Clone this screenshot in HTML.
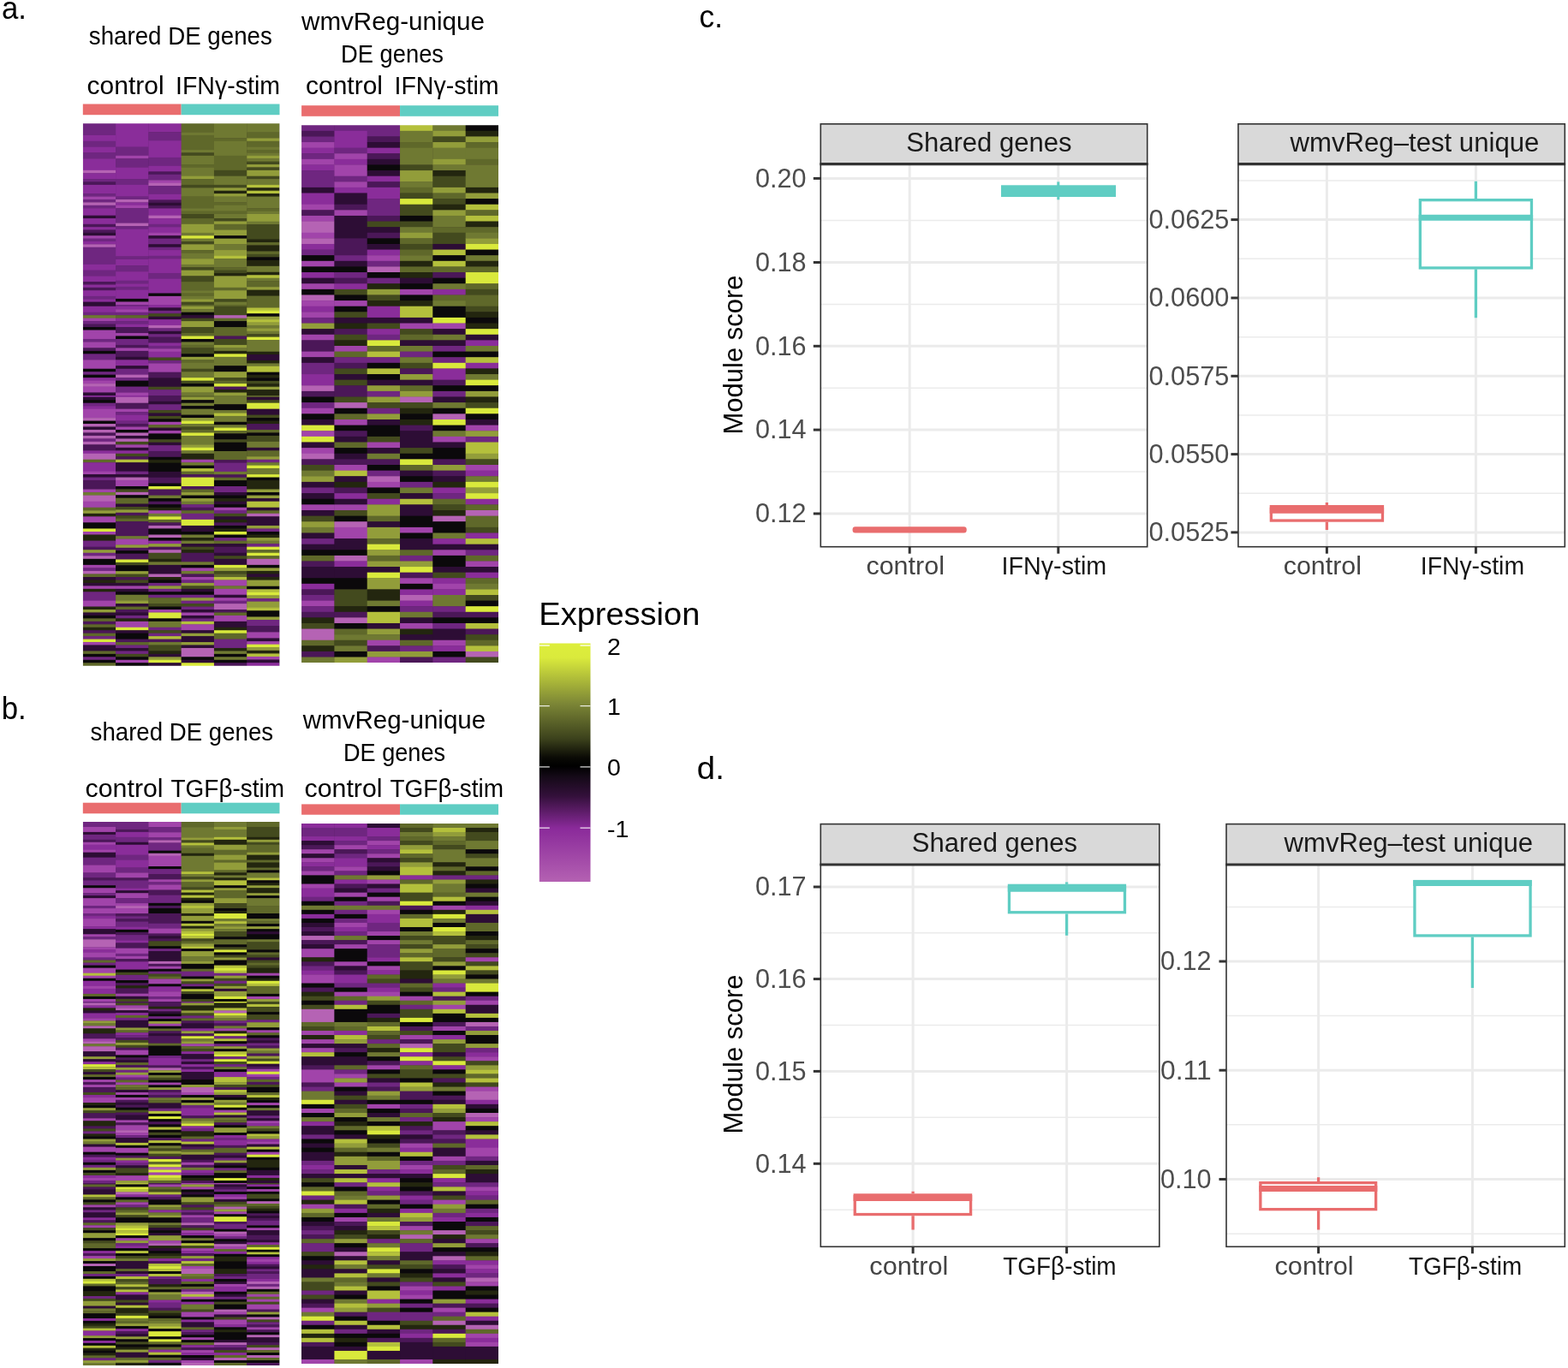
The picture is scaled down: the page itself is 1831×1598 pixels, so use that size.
<!DOCTYPE html>
<html lang="en"><head><meta charset="utf-8"><title>Figure</title>
<style>html,body{margin:0;padding:0;background:#fff}body{width:1831px;height:1598px;overflow:hidden}svg{display:block}text{font-family:"Liberation Sans",sans-serif}</style>
</head><body>
<svg width="1831" height="1598" viewBox="0 0 1831 1598">
<rect width="1831" height="1598" fill="#fff"/>
<g id="labels">
<text x="2" y="21.5" font-size="37" fill="#000" text-anchor="start" textLength="29" lengthAdjust="spacingAndGlyphs">a.</text>
<text x="1.7" y="840" font-size="37" fill="#000" text-anchor="start" textLength="29" lengthAdjust="spacingAndGlyphs">b.</text>
<text x="816.5" y="32" font-size="37" fill="#000" text-anchor="start" textLength="27.5" lengthAdjust="spacingAndGlyphs">c.</text>
<text x="813.8" y="910.3" font-size="37" fill="#000" text-anchor="start" textLength="32" lengthAdjust="spacingAndGlyphs">d.</text>
<text x="103.8" y="52.4" font-size="29" fill="#000" text-anchor="start" textLength="214" lengthAdjust="spacingAndGlyphs">shared DE genes</text>
<text x="352" y="35" font-size="29" fill="#000" text-anchor="start" textLength="214" lengthAdjust="spacingAndGlyphs">wmvReg-unique</text>
<text x="398" y="72.5" font-size="29" fill="#000" text-anchor="start" textLength="120" lengthAdjust="spacingAndGlyphs">DE genes</text>
<text x="101.6" y="110.3" font-size="29" fill="#000" text-anchor="start" textLength="90" lengthAdjust="spacingAndGlyphs">control</text>
<text x="205" y="110.3" font-size="29" fill="#000" text-anchor="start" textLength="122" lengthAdjust="spacingAndGlyphs">IFNγ-stim</text>
<text x="357" y="110.3" font-size="29" fill="#000" text-anchor="start" textLength="90" lengthAdjust="spacingAndGlyphs">control</text>
<text x="460.5" y="110.3" font-size="29" fill="#000" text-anchor="start" textLength="122" lengthAdjust="spacingAndGlyphs">IFNγ-stim</text>
<text x="105.6" y="865" font-size="29" fill="#000" text-anchor="start" textLength="213.5" lengthAdjust="spacingAndGlyphs">shared DE genes</text>
<text x="353.7" y="851" font-size="29" fill="#000" text-anchor="start" textLength="213.5" lengthAdjust="spacingAndGlyphs">wmvReg-unique</text>
<text x="401" y="888.7" font-size="29" fill="#000" text-anchor="start" textLength="119" lengthAdjust="spacingAndGlyphs">DE genes</text>
<text x="99.6" y="930.7" font-size="29" fill="#000" text-anchor="start" textLength="91" lengthAdjust="spacingAndGlyphs">control</text>
<text x="199.5" y="930.7" font-size="29" fill="#000" text-anchor="start" textLength="132.5" lengthAdjust="spacingAndGlyphs">TGFβ-stim</text>
<text x="355.5" y="930.7" font-size="29" fill="#000" text-anchor="start" textLength="91" lengthAdjust="spacingAndGlyphs">control</text>
<text x="455.5" y="930.7" font-size="29" fill="#000" text-anchor="start" textLength="132.5" lengthAdjust="spacingAndGlyphs">TGFβ-stim</text>
</g>
<defs><filter id="soft" x="-2%" y="-2%" width="104%" height="104%" color-interpolation-filters="sRGB"><feGaussianBlur stdDeviation="0 0.75"/></filter><filter id="soft2" x="-2%" y="-2%" width="104%" height="104%" color-interpolation-filters="sRGB"><feGaussianBlur stdDeviation="0 0.65"/></filter></defs>
<g id="heat-a1">
<rect x="96.8" y="121.5" width="114.85" height="12.70" fill="#E96D6E"/>
<rect x="211.65" y="121.5" width="114.85" height="12.70" fill="#5FCDC3"/>
<clipPath id="clip-heat-a1"><rect x="96.8" y="144.3" width="229.70" height="633.40"/></clipPath>
<g clip-path="url(#clip-heat-a1)"><g filter="url(#soft)">
<rect x="96.8" y="140.3" width="229.70" height="641.40" fill="#2a1a2c"/>
<rect x="96.80" y="140.30" width="38.68" height="17.99" fill="#6F2680"/>
<rect x="96.80" y="157.94" width="38.68" height="7.17" fill="#8A2D9A"/>
<rect x="96.80" y="164.76" width="38.68" height="7.17" fill="#6F2680"/>
<rect x="96.80" y="171.58" width="38.68" height="7.17" fill="#8A2D9A"/>
<rect x="96.80" y="178.40" width="38.68" height="7.17" fill="#6F2680"/>
<rect x="96.80" y="185.22" width="38.68" height="13.99" fill="#8A2D9A"/>
<rect x="96.80" y="198.85" width="38.68" height="3.76" fill="#B563B4"/>
<rect x="96.80" y="202.26" width="38.68" height="7.17" fill="#8A2D9A"/>
<rect x="96.80" y="209.08" width="38.68" height="3.76" fill="#6F2680"/>
<rect x="96.80" y="212.49" width="38.68" height="3.76" fill="#4B1758"/>
<rect x="96.80" y="215.90" width="38.68" height="10.58" fill="#8A2D9A"/>
<rect x="96.80" y="226.13" width="38.68" height="3.76" fill="#6F2680"/>
<rect x="96.80" y="229.54" width="38.68" height="3.76" fill="#A144AA"/>
<rect x="96.80" y="232.95" width="38.68" height="3.76" fill="#6F2680"/>
<rect x="96.80" y="236.36" width="38.68" height="3.76" fill="#B563B4"/>
<rect x="96.80" y="239.77" width="38.68" height="3.76" fill="#6F2680"/>
<rect x="96.80" y="243.18" width="38.68" height="8.85" fill="#8A2D9A"/>
<rect x="96.80" y="251.68" width="38.68" height="3.72" fill="#2D0D35"/>
<rect x="96.80" y="255.05" width="38.68" height="7.08" fill="#8A2D9A"/>
<rect x="96.80" y="261.78" width="38.68" height="3.72" fill="#4B1758"/>
<rect x="96.80" y="265.14" width="38.68" height="3.72" fill="#8A2D9A"/>
<rect x="96.80" y="268.51" width="38.68" height="3.72" fill="#4B1758"/>
<rect x="96.80" y="271.87" width="38.68" height="3.72" fill="#2D0D35"/>
<rect x="96.80" y="275.24" width="38.68" height="3.72" fill="#A144AA"/>
<rect x="96.80" y="278.60" width="38.68" height="3.72" fill="#6F2680"/>
<rect x="96.80" y="281.97" width="38.68" height="3.72" fill="#8A2D9A"/>
<rect x="96.80" y="285.33" width="38.68" height="3.72" fill="#B563B4"/>
<rect x="96.80" y="288.70" width="38.68" height="20.54" fill="#6F2680"/>
<rect x="96.80" y="308.89" width="38.68" height="7.08" fill="#8A2D9A"/>
<rect x="96.80" y="315.62" width="38.68" height="7.08" fill="#6F2680"/>
<rect x="96.80" y="322.35" width="38.68" height="7.08" fill="#8A2D9A"/>
<rect x="96.80" y="329.08" width="38.68" height="3.72" fill="#4B1758"/>
<rect x="96.80" y="332.44" width="38.68" height="3.72" fill="#8A2D9A"/>
<rect x="96.80" y="335.81" width="38.68" height="3.72" fill="#4B1758"/>
<rect x="96.80" y="339.17" width="38.68" height="7.08" fill="#8A2D9A"/>
<rect x="96.80" y="345.90" width="38.68" height="3.72" fill="#6F2680"/>
<rect x="96.80" y="349.27" width="38.68" height="3.72" fill="#8A2D9A"/>
<rect x="96.80" y="352.63" width="38.68" height="5.45" fill="#2D0D35"/>
<rect x="96.80" y="357.74" width="38.68" height="7.30" fill="#8A2D9A"/>
<rect x="96.80" y="364.69" width="38.68" height="3.83" fill="#6F2680"/>
<rect x="96.80" y="368.16" width="38.68" height="3.83" fill="#6F7932"/>
<rect x="96.80" y="371.64" width="38.68" height="3.83" fill="#A144AA"/>
<rect x="96.80" y="375.11" width="38.68" height="3.83" fill="#6F2680"/>
<rect x="96.80" y="378.59" width="38.68" height="3.83" fill="#4B1758"/>
<rect x="96.80" y="382.07" width="38.68" height="3.83" fill="#0B090B"/>
<rect x="96.80" y="385.54" width="38.68" height="10.78" fill="#A144AA"/>
<rect x="96.80" y="395.97" width="38.68" height="3.83" fill="#6F2680"/>
<rect x="96.80" y="399.44" width="38.68" height="7.30" fill="#A144AA"/>
<rect x="96.80" y="406.39" width="38.68" height="3.83" fill="#4B1758"/>
<rect x="96.80" y="409.87" width="38.68" height="3.83" fill="#0B090B"/>
<rect x="96.80" y="413.34" width="38.68" height="7.30" fill="#6F2680"/>
<rect x="96.80" y="420.30" width="38.68" height="10.78" fill="#A144AA"/>
<rect x="96.80" y="430.72" width="38.68" height="3.83" fill="#0B090B"/>
<rect x="96.80" y="434.20" width="38.68" height="3.83" fill="#6F2680"/>
<rect x="96.80" y="437.67" width="38.68" height="3.83" fill="#0B090B"/>
<rect x="96.80" y="441.15" width="38.68" height="3.83" fill="#8A2D9A"/>
<rect x="96.80" y="444.62" width="38.68" height="3.83" fill="#A144AA"/>
<rect x="96.80" y="448.10" width="38.68" height="3.83" fill="#B563B4"/>
<rect x="96.80" y="451.57" width="38.68" height="7.30" fill="#A144AA"/>
<rect x="96.80" y="458.52" width="38.68" height="3.83" fill="#2D0D35"/>
<rect x="96.80" y="462.00" width="38.68" height="2.09" fill="#8A2D9A"/>
<rect x="96.80" y="463.74" width="38.68" height="3.83" fill="#2D0D35"/>
<rect x="96.80" y="467.21" width="38.68" height="3.83" fill="#0B090B"/>
<rect x="96.80" y="470.69" width="38.68" height="3.83" fill="#6F2680"/>
<rect x="96.80" y="474.16" width="38.68" height="3.83" fill="#8A2D9A"/>
<rect x="96.80" y="477.64" width="38.68" height="10.78" fill="#A144AA"/>
<rect x="96.80" y="488.07" width="38.68" height="3.83" fill="#B563B4"/>
<rect x="96.80" y="491.54" width="38.68" height="3.83" fill="#0B090B"/>
<rect x="96.80" y="495.02" width="38.68" height="3.83" fill="#B563B4"/>
<rect x="96.80" y="498.49" width="38.68" height="3.83" fill="#2D0D35"/>
<rect x="96.80" y="501.97" width="38.68" height="3.83" fill="#B563B4"/>
<rect x="96.80" y="505.44" width="38.68" height="3.83" fill="#4B1758"/>
<rect x="96.80" y="508.92" width="38.68" height="3.83" fill="#B563B4"/>
<rect x="96.80" y="512.39" width="38.68" height="3.83" fill="#6F2680"/>
<rect x="96.80" y="515.87" width="38.68" height="3.83" fill="#B563B4"/>
<rect x="96.80" y="519.34" width="38.68" height="7.30" fill="#4B1758"/>
<rect x="96.80" y="526.30" width="38.68" height="3.83" fill="#8A2D9A"/>
<rect x="96.80" y="529.77" width="38.68" height="7.30" fill="#B563B4"/>
<rect x="96.80" y="536.72" width="38.68" height="3.83" fill="#5F682A"/>
<rect x="96.80" y="540.20" width="38.68" height="10.78" fill="#8A2D9A"/>
<rect x="96.80" y="550.62" width="38.68" height="3.83" fill="#A144AA"/>
<rect x="96.80" y="554.10" width="38.68" height="3.83" fill="#2D0D35"/>
<rect x="96.80" y="557.57" width="38.68" height="3.83" fill="#6F2680"/>
<rect x="96.80" y="561.05" width="38.68" height="10.83" fill="#4B1758"/>
<rect x="96.80" y="571.53" width="38.68" height="3.88" fill="#A144AA"/>
<rect x="96.80" y="575.07" width="38.68" height="3.88" fill="#6F7932"/>
<rect x="96.80" y="578.60" width="38.68" height="7.42" fill="#B563B4"/>
<rect x="96.80" y="585.67" width="38.68" height="7.42" fill="#A144AA"/>
<rect x="96.80" y="592.73" width="38.68" height="3.88" fill="#5F682A"/>
<rect x="96.80" y="596.27" width="38.68" height="3.88" fill="#929D3A"/>
<rect x="96.80" y="599.80" width="38.68" height="3.88" fill="#23260F"/>
<rect x="96.80" y="603.33" width="38.68" height="7.42" fill="#A144AA"/>
<rect x="96.80" y="610.40" width="38.68" height="7.42" fill="#0B090B"/>
<rect x="96.80" y="617.47" width="38.68" height="3.88" fill="#D9E93C"/>
<rect x="96.80" y="621.00" width="38.68" height="3.88" fill="#A144AA"/>
<rect x="96.80" y="624.53" width="38.68" height="7.42" fill="#23260F"/>
<rect x="96.80" y="631.60" width="38.68" height="7.42" fill="#6F2680"/>
<rect x="96.80" y="638.67" width="38.68" height="3.88" fill="#4B1758"/>
<rect x="96.80" y="642.20" width="38.68" height="3.88" fill="#929D3A"/>
<rect x="96.80" y="645.73" width="38.68" height="3.88" fill="#6F2680"/>
<rect x="96.80" y="649.27" width="38.68" height="3.88" fill="#B563B4"/>
<rect x="96.80" y="652.80" width="38.68" height="7.42" fill="#0B090B"/>
<rect x="96.80" y="659.87" width="38.68" height="3.88" fill="#A144AA"/>
<rect x="96.80" y="663.40" width="38.68" height="3.88" fill="#6F2680"/>
<rect x="96.80" y="666.93" width="38.68" height="3.88" fill="#B563B4"/>
<rect x="96.80" y="670.47" width="38.68" height="3.88" fill="#5F682A"/>
<rect x="96.80" y="674.00" width="38.68" height="3.81" fill="#2D0D35"/>
<rect x="96.80" y="677.46" width="38.68" height="3.81" fill="#23260F"/>
<rect x="96.80" y="680.91" width="38.68" height="3.81" fill="#2D0D35"/>
<rect x="96.80" y="684.37" width="38.68" height="3.81" fill="#A144AA"/>
<rect x="96.80" y="687.83" width="38.68" height="3.81" fill="#23260F"/>
<rect x="96.80" y="691.28" width="38.68" height="10.72" fill="#6F2680"/>
<rect x="96.80" y="701.65" width="38.68" height="7.26" fill="#A144AA"/>
<rect x="96.80" y="708.57" width="38.68" height="3.81" fill="#23260F"/>
<rect x="96.80" y="712.02" width="38.68" height="3.81" fill="#929D3A"/>
<rect x="96.80" y="715.48" width="38.68" height="3.81" fill="#2D0D35"/>
<rect x="96.80" y="718.94" width="38.68" height="3.81" fill="#0B090B"/>
<rect x="96.80" y="722.39" width="38.68" height="3.81" fill="#5F682A"/>
<rect x="96.80" y="725.85" width="38.68" height="3.81" fill="#4B1758"/>
<rect x="96.80" y="729.31" width="38.68" height="3.81" fill="#5F682A"/>
<rect x="96.80" y="732.76" width="38.68" height="3.81" fill="#23260F"/>
<rect x="96.80" y="736.22" width="38.68" height="3.81" fill="#4B1758"/>
<rect x="96.80" y="739.68" width="38.68" height="3.81" fill="#5F682A"/>
<rect x="96.80" y="743.13" width="38.68" height="3.81" fill="#6F2680"/>
<rect x="96.80" y="746.59" width="38.68" height="3.81" fill="#D9E93C"/>
<rect x="96.80" y="750.05" width="38.68" height="3.81" fill="#A144AA"/>
<rect x="96.80" y="753.50" width="38.68" height="7.26" fill="#2D0D35"/>
<rect x="96.80" y="760.42" width="38.68" height="3.81" fill="#5F682A"/>
<rect x="96.80" y="763.87" width="38.68" height="3.81" fill="#0B090B"/>
<rect x="96.80" y="767.33" width="38.68" height="3.81" fill="#6F2680"/>
<rect x="96.80" y="770.79" width="38.68" height="3.81" fill="#0B090B"/>
<rect x="96.80" y="774.24" width="38.68" height="7.81" fill="#5F682A"/>
<rect x="135.08" y="140.30" width="38.68" height="31.63" fill="#8A2D9A"/>
<rect x="135.08" y="171.58" width="38.68" height="10.58" fill="#6F2680"/>
<rect x="135.08" y="181.81" width="38.68" height="3.76" fill="#A144AA"/>
<rect x="135.08" y="185.22" width="38.68" height="10.58" fill="#6F2680"/>
<rect x="135.08" y="195.45" width="38.68" height="13.99" fill="#8A2D9A"/>
<rect x="135.08" y="209.08" width="38.68" height="7.17" fill="#6F2680"/>
<rect x="135.08" y="215.90" width="38.68" height="13.99" fill="#8A2D9A"/>
<rect x="135.08" y="229.54" width="38.68" height="3.76" fill="#6F2680"/>
<rect x="135.08" y="232.95" width="38.68" height="3.76" fill="#B563B4"/>
<rect x="135.08" y="236.36" width="38.68" height="3.76" fill="#8A2D9A"/>
<rect x="135.08" y="239.77" width="38.68" height="3.76" fill="#A144AA"/>
<rect x="135.08" y="243.18" width="38.68" height="17.77" fill="#6F2680"/>
<rect x="135.08" y="260.60" width="38.68" height="3.88" fill="#B563B4"/>
<rect x="135.08" y="264.13" width="38.68" height="3.88" fill="#6F2680"/>
<rect x="135.08" y="267.67" width="38.68" height="32.15" fill="#8A2D9A"/>
<rect x="135.08" y="299.47" width="38.68" height="3.88" fill="#6F2680"/>
<rect x="135.08" y="303.00" width="38.68" height="7.42" fill="#8A2D9A"/>
<rect x="135.08" y="310.07" width="38.68" height="7.42" fill="#6F2680"/>
<rect x="135.08" y="317.13" width="38.68" height="10.95" fill="#8A2D9A"/>
<rect x="135.08" y="327.73" width="38.68" height="3.88" fill="#6F2680"/>
<rect x="135.08" y="331.27" width="38.68" height="3.88" fill="#8A2D9A"/>
<rect x="135.08" y="334.80" width="38.68" height="3.88" fill="#6F2680"/>
<rect x="135.08" y="338.33" width="38.68" height="10.95" fill="#8A2D9A"/>
<rect x="135.08" y="348.93" width="38.68" height="3.88" fill="#0B090B"/>
<rect x="135.08" y="352.47" width="38.68" height="3.88" fill="#A144AA"/>
<rect x="135.08" y="356.00" width="38.68" height="2.09" fill="#6F2680"/>
<rect x="135.08" y="357.74" width="38.68" height="3.83" fill="#8A2D9A"/>
<rect x="135.08" y="361.21" width="38.68" height="3.83" fill="#A144AA"/>
<rect x="135.08" y="364.69" width="38.68" height="3.83" fill="#6F2680"/>
<rect x="135.08" y="368.16" width="38.68" height="3.83" fill="#5F682A"/>
<rect x="135.08" y="371.64" width="38.68" height="3.83" fill="#8A2D9A"/>
<rect x="135.08" y="375.11" width="38.68" height="3.83" fill="#6F2680"/>
<rect x="135.08" y="378.59" width="38.68" height="3.83" fill="#8A2D9A"/>
<rect x="135.08" y="382.07" width="38.68" height="7.30" fill="#4B1758"/>
<rect x="135.08" y="389.02" width="38.68" height="3.83" fill="#A144AA"/>
<rect x="135.08" y="392.49" width="38.68" height="3.83" fill="#0B090B"/>
<rect x="135.08" y="395.97" width="38.68" height="7.30" fill="#6F2680"/>
<rect x="135.08" y="402.92" width="38.68" height="3.83" fill="#4B1758"/>
<rect x="135.08" y="406.39" width="38.68" height="3.83" fill="#A144AA"/>
<rect x="135.08" y="409.87" width="38.68" height="7.30" fill="#4B1758"/>
<rect x="135.08" y="416.82" width="38.68" height="3.83" fill="#2D0D35"/>
<rect x="135.08" y="420.30" width="38.68" height="7.30" fill="#8A2D9A"/>
<rect x="135.08" y="427.25" width="38.68" height="3.83" fill="#2D0D35"/>
<rect x="135.08" y="430.72" width="38.68" height="7.30" fill="#6F2680"/>
<rect x="135.08" y="437.67" width="38.68" height="3.83" fill="#B563B4"/>
<rect x="135.08" y="441.15" width="38.68" height="3.83" fill="#6F2680"/>
<rect x="135.08" y="444.62" width="38.68" height="7.30" fill="#0B090B"/>
<rect x="135.08" y="451.57" width="38.68" height="7.30" fill="#6F2680"/>
<rect x="135.08" y="458.52" width="38.68" height="3.83" fill="#A144AA"/>
<rect x="135.08" y="462.00" width="38.68" height="2.09" fill="#8A2D9A"/>
<rect x="135.08" y="463.74" width="38.68" height="7.30" fill="#B563B4"/>
<rect x="135.08" y="470.69" width="38.68" height="7.30" fill="#4B1758"/>
<rect x="135.08" y="477.64" width="38.68" height="3.83" fill="#A144AA"/>
<rect x="135.08" y="481.11" width="38.68" height="3.83" fill="#6F2680"/>
<rect x="135.08" y="484.59" width="38.68" height="7.30" fill="#8A2D9A"/>
<rect x="135.08" y="491.54" width="38.68" height="3.83" fill="#6F2680"/>
<rect x="135.08" y="495.02" width="38.68" height="3.83" fill="#4B1758"/>
<rect x="135.08" y="498.49" width="38.68" height="3.83" fill="#A144AA"/>
<rect x="135.08" y="501.97" width="38.68" height="3.83" fill="#0B090B"/>
<rect x="135.08" y="505.44" width="38.68" height="3.83" fill="#B563B4"/>
<rect x="135.08" y="508.92" width="38.68" height="3.83" fill="#2D0D35"/>
<rect x="135.08" y="512.39" width="38.68" height="3.83" fill="#B563B4"/>
<rect x="135.08" y="515.87" width="38.68" height="3.83" fill="#434A1E"/>
<rect x="135.08" y="519.34" width="38.68" height="3.83" fill="#A144AA"/>
<rect x="135.08" y="522.82" width="38.68" height="3.83" fill="#2D0D35"/>
<rect x="135.08" y="526.30" width="38.68" height="3.83" fill="#8A2D9A"/>
<rect x="135.08" y="529.77" width="38.68" height="3.83" fill="#434A1E"/>
<rect x="135.08" y="533.25" width="38.68" height="3.83" fill="#4B1758"/>
<rect x="135.08" y="536.72" width="38.68" height="3.83" fill="#B4C03C"/>
<rect x="135.08" y="540.20" width="38.68" height="10.78" fill="#2D0D35"/>
<rect x="135.08" y="550.62" width="38.68" height="3.83" fill="#6F2680"/>
<rect x="135.08" y="554.10" width="38.68" height="3.83" fill="#2D0D35"/>
<rect x="135.08" y="557.57" width="38.68" height="3.83" fill="#B563B4"/>
<rect x="135.08" y="561.05" width="38.68" height="7.30" fill="#A144AA"/>
<rect x="135.08" y="568.00" width="38.68" height="3.77" fill="#0B090B"/>
<rect x="135.08" y="571.42" width="38.68" height="3.77" fill="#434A1E"/>
<rect x="135.08" y="574.84" width="38.68" height="3.77" fill="#B563B4"/>
<rect x="135.08" y="578.26" width="38.68" height="3.77" fill="#0B090B"/>
<rect x="135.08" y="581.68" width="38.68" height="7.19" fill="#5F682A"/>
<rect x="135.08" y="588.52" width="38.68" height="3.77" fill="#2D0D35"/>
<rect x="135.08" y="591.94" width="38.68" height="3.77" fill="#434A1E"/>
<rect x="135.08" y="595.35" width="38.68" height="3.77" fill="#929D3A"/>
<rect x="135.08" y="598.77" width="38.68" height="3.77" fill="#4B1758"/>
<rect x="135.08" y="602.19" width="38.68" height="3.77" fill="#434A1E"/>
<rect x="135.08" y="605.61" width="38.68" height="3.77" fill="#5F682A"/>
<rect x="135.08" y="609.03" width="38.68" height="17.45" fill="#4B1758"/>
<rect x="135.08" y="626.13" width="38.68" height="3.77" fill="#6F7932"/>
<rect x="135.08" y="629.55" width="38.68" height="7.19" fill="#A144AA"/>
<rect x="135.08" y="636.39" width="38.68" height="3.77" fill="#929D3A"/>
<rect x="135.08" y="639.81" width="38.68" height="3.77" fill="#4B1758"/>
<rect x="135.08" y="643.23" width="38.68" height="3.77" fill="#0B090B"/>
<rect x="135.08" y="646.65" width="38.68" height="7.19" fill="#4B1758"/>
<rect x="135.08" y="653.48" width="38.68" height="3.77" fill="#D9E93C"/>
<rect x="135.08" y="656.90" width="38.68" height="3.77" fill="#434A1E"/>
<rect x="135.08" y="660.32" width="38.68" height="7.19" fill="#0B090B"/>
<rect x="135.08" y="667.16" width="38.68" height="3.77" fill="#929D3A"/>
<rect x="135.08" y="670.58" width="38.68" height="3.77" fill="#434A1E"/>
<rect x="135.08" y="674.00" width="38.68" height="3.81" fill="#4B1758"/>
<rect x="135.08" y="677.46" width="38.68" height="3.81" fill="#434A1E"/>
<rect x="135.08" y="680.91" width="38.68" height="3.81" fill="#2D0D35"/>
<rect x="135.08" y="684.37" width="38.68" height="3.81" fill="#A144AA"/>
<rect x="135.08" y="687.83" width="38.68" height="3.81" fill="#2D0D35"/>
<rect x="135.08" y="691.28" width="38.68" height="3.81" fill="#0B090B"/>
<rect x="135.08" y="694.74" width="38.68" height="7.26" fill="#6F7932"/>
<rect x="135.08" y="701.65" width="38.68" height="3.81" fill="#929D3A"/>
<rect x="135.08" y="705.11" width="38.68" height="3.81" fill="#2D0D35"/>
<rect x="135.08" y="708.57" width="38.68" height="3.81" fill="#5F682A"/>
<rect x="135.08" y="712.02" width="38.68" height="3.81" fill="#4B1758"/>
<rect x="135.08" y="715.48" width="38.68" height="3.81" fill="#2D0D35"/>
<rect x="135.08" y="718.94" width="38.68" height="3.81" fill="#6F2680"/>
<rect x="135.08" y="722.39" width="38.68" height="3.81" fill="#23260F"/>
<rect x="135.08" y="725.85" width="38.68" height="7.26" fill="#A144AA"/>
<rect x="135.08" y="732.76" width="38.68" height="3.81" fill="#D9E93C"/>
<rect x="135.08" y="736.22" width="38.68" height="3.81" fill="#2D0D35"/>
<rect x="135.08" y="739.68" width="38.68" height="7.26" fill="#0B090B"/>
<rect x="135.08" y="746.59" width="38.68" height="3.81" fill="#4B1758"/>
<rect x="135.08" y="750.05" width="38.68" height="3.81" fill="#5F682A"/>
<rect x="135.08" y="753.50" width="38.68" height="3.81" fill="#6F2680"/>
<rect x="135.08" y="756.96" width="38.68" height="3.81" fill="#2D0D35"/>
<rect x="135.08" y="760.42" width="38.68" height="3.81" fill="#6F2680"/>
<rect x="135.08" y="763.87" width="38.68" height="3.81" fill="#434A1E"/>
<rect x="135.08" y="767.33" width="38.68" height="3.81" fill="#0B090B"/>
<rect x="135.08" y="770.79" width="38.68" height="3.81" fill="#A144AA"/>
<rect x="135.08" y="774.24" width="38.68" height="7.81" fill="#0B090B"/>
<rect x="173.37" y="140.30" width="38.68" height="14.26" fill="#8A2D9A"/>
<rect x="173.37" y="154.21" width="38.68" height="10.26" fill="#6F2680"/>
<rect x="173.37" y="164.12" width="38.68" height="20.17" fill="#8A2D9A"/>
<rect x="173.37" y="183.94" width="38.68" height="10.26" fill="#6F2680"/>
<rect x="173.37" y="193.85" width="38.68" height="6.96" fill="#8A2D9A"/>
<rect x="173.37" y="200.45" width="38.68" height="3.65" fill="#4B1758"/>
<rect x="173.37" y="203.76" width="38.68" height="6.96" fill="#6F2680"/>
<rect x="173.37" y="210.36" width="38.68" height="3.65" fill="#A144AA"/>
<rect x="173.37" y="213.67" width="38.68" height="3.65" fill="#B563B4"/>
<rect x="173.37" y="216.97" width="38.68" height="10.26" fill="#6F2680"/>
<rect x="173.37" y="226.88" width="38.68" height="6.96" fill="#8A2D9A"/>
<rect x="173.37" y="233.48" width="38.68" height="3.65" fill="#4B1758"/>
<rect x="173.37" y="236.79" width="38.68" height="3.65" fill="#2D0D35"/>
<rect x="173.37" y="240.09" width="38.68" height="3.65" fill="#4B1758"/>
<rect x="173.37" y="243.39" width="38.68" height="8.64" fill="#8A2D9A"/>
<rect x="173.37" y="251.68" width="38.68" height="3.72" fill="#B563B4"/>
<rect x="173.37" y="255.05" width="38.68" height="7.08" fill="#8A2D9A"/>
<rect x="173.37" y="261.78" width="38.68" height="3.72" fill="#6F2680"/>
<rect x="173.37" y="265.14" width="38.68" height="7.08" fill="#8A2D9A"/>
<rect x="173.37" y="271.87" width="38.68" height="3.72" fill="#A144AA"/>
<rect x="173.37" y="275.24" width="38.68" height="3.72" fill="#2D0D35"/>
<rect x="173.37" y="278.60" width="38.68" height="7.08" fill="#6F2680"/>
<rect x="173.37" y="285.33" width="38.68" height="3.72" fill="#2D0D35"/>
<rect x="173.37" y="288.70" width="38.68" height="3.72" fill="#6F2680"/>
<rect x="173.37" y="292.06" width="38.68" height="7.08" fill="#8A2D9A"/>
<rect x="173.37" y="298.79" width="38.68" height="3.72" fill="#6F2680"/>
<rect x="173.37" y="302.16" width="38.68" height="17.18" fill="#8A2D9A"/>
<rect x="173.37" y="318.98" width="38.68" height="7.08" fill="#6F2680"/>
<rect x="173.37" y="325.71" width="38.68" height="17.18" fill="#8A2D9A"/>
<rect x="173.37" y="342.54" width="38.68" height="3.72" fill="#0B090B"/>
<rect x="173.37" y="345.90" width="38.68" height="10.45" fill="#A144AA"/>
<rect x="173.37" y="356.00" width="38.68" height="3.77" fill="#8A2D9A"/>
<rect x="173.37" y="359.42" width="38.68" height="3.77" fill="#2D0D35"/>
<rect x="173.37" y="362.84" width="38.68" height="3.77" fill="#6F2680"/>
<rect x="173.37" y="366.26" width="38.68" height="3.77" fill="#434A1E"/>
<rect x="173.37" y="369.68" width="38.68" height="3.77" fill="#2D0D35"/>
<rect x="173.37" y="373.10" width="38.68" height="7.19" fill="#8A2D9A"/>
<rect x="173.37" y="379.94" width="38.68" height="3.77" fill="#B563B4"/>
<rect x="173.37" y="383.35" width="38.68" height="3.77" fill="#6F2680"/>
<rect x="173.37" y="386.77" width="38.68" height="3.77" fill="#2D0D35"/>
<rect x="173.37" y="390.19" width="38.68" height="3.77" fill="#6F2680"/>
<rect x="173.37" y="393.61" width="38.68" height="7.19" fill="#4B1758"/>
<rect x="173.37" y="400.45" width="38.68" height="3.77" fill="#8A2D9A"/>
<rect x="173.37" y="403.87" width="38.68" height="3.77" fill="#6F2680"/>
<rect x="173.37" y="407.29" width="38.68" height="3.77" fill="#A144AA"/>
<rect x="173.37" y="410.71" width="38.68" height="7.19" fill="#8A2D9A"/>
<rect x="173.37" y="417.55" width="38.68" height="3.77" fill="#434A1E"/>
<rect x="173.37" y="420.97" width="38.68" height="3.77" fill="#6F2680"/>
<rect x="173.37" y="424.39" width="38.68" height="10.61" fill="#A144AA"/>
<rect x="173.37" y="434.65" width="38.68" height="7.19" fill="#4B1758"/>
<rect x="173.37" y="441.48" width="38.68" height="10.61" fill="#2D0D35"/>
<rect x="173.37" y="451.74" width="38.68" height="3.77" fill="#434A1E"/>
<rect x="173.37" y="455.16" width="38.68" height="7.19" fill="#6F2680"/>
<rect x="173.37" y="462.00" width="38.68" height="7.19" fill="#4B1758"/>
<rect x="173.37" y="468.84" width="38.68" height="3.77" fill="#2D0D35"/>
<rect x="173.37" y="472.26" width="38.68" height="7.19" fill="#6F2680"/>
<rect x="173.37" y="479.10" width="38.68" height="3.77" fill="#434A1E"/>
<rect x="173.37" y="482.52" width="38.68" height="3.77" fill="#2D0D35"/>
<rect x="173.37" y="485.94" width="38.68" height="3.77" fill="#434A1E"/>
<rect x="173.37" y="489.35" width="38.68" height="3.77" fill="#0B090B"/>
<rect x="173.37" y="492.77" width="38.68" height="3.77" fill="#A144AA"/>
<rect x="173.37" y="496.19" width="38.68" height="3.77" fill="#5F682A"/>
<rect x="173.37" y="499.61" width="38.68" height="3.77" fill="#2D0D35"/>
<rect x="173.37" y="503.03" width="38.68" height="3.77" fill="#A144AA"/>
<rect x="173.37" y="506.45" width="38.68" height="7.19" fill="#0B090B"/>
<rect x="173.37" y="513.29" width="38.68" height="3.77" fill="#434A1E"/>
<rect x="173.37" y="516.71" width="38.68" height="3.77" fill="#2D0D35"/>
<rect x="173.37" y="520.13" width="38.68" height="7.19" fill="#6F2680"/>
<rect x="173.37" y="526.97" width="38.68" height="7.19" fill="#4B1758"/>
<rect x="173.37" y="533.81" width="38.68" height="3.77" fill="#0B090B"/>
<rect x="173.37" y="537.23" width="38.68" height="3.77" fill="#23260F"/>
<rect x="173.37" y="540.65" width="38.68" height="10.61" fill="#0B090B"/>
<rect x="173.37" y="550.90" width="38.68" height="7.19" fill="#2D0D35"/>
<rect x="173.37" y="557.74" width="38.68" height="7.19" fill="#4B1758"/>
<rect x="173.37" y="564.58" width="38.68" height="3.77" fill="#0B090B"/>
<rect x="173.37" y="568.00" width="38.68" height="3.88" fill="#D9E93C"/>
<rect x="173.37" y="571.53" width="38.68" height="7.42" fill="#4B1758"/>
<rect x="173.37" y="578.60" width="38.68" height="3.88" fill="#6F7932"/>
<rect x="173.37" y="582.13" width="38.68" height="3.88" fill="#0B090B"/>
<rect x="173.37" y="585.67" width="38.68" height="3.88" fill="#4B1758"/>
<rect x="173.37" y="589.20" width="38.68" height="3.88" fill="#0B090B"/>
<rect x="173.37" y="592.73" width="38.68" height="3.88" fill="#23260F"/>
<rect x="173.37" y="596.27" width="38.68" height="3.88" fill="#A144AA"/>
<rect x="173.37" y="599.80" width="38.68" height="3.88" fill="#6F7932"/>
<rect x="173.37" y="603.33" width="38.68" height="3.88" fill="#D9E93C"/>
<rect x="173.37" y="606.87" width="38.68" height="3.88" fill="#5F682A"/>
<rect x="173.37" y="610.40" width="38.68" height="3.88" fill="#4B1758"/>
<rect x="173.37" y="613.93" width="38.68" height="3.88" fill="#B563B4"/>
<rect x="173.37" y="617.47" width="38.68" height="7.42" fill="#0B090B"/>
<rect x="173.37" y="624.53" width="38.68" height="3.88" fill="#B563B4"/>
<rect x="173.37" y="628.07" width="38.68" height="3.88" fill="#0B090B"/>
<rect x="173.37" y="631.60" width="38.68" height="3.88" fill="#8A2D9A"/>
<rect x="173.37" y="635.13" width="38.68" height="3.88" fill="#929D3A"/>
<rect x="173.37" y="638.67" width="38.68" height="3.88" fill="#4B1758"/>
<rect x="173.37" y="642.20" width="38.68" height="3.88" fill="#B563B4"/>
<rect x="173.37" y="645.73" width="38.68" height="7.42" fill="#434A1E"/>
<rect x="173.37" y="652.80" width="38.68" height="3.88" fill="#23260F"/>
<rect x="173.37" y="656.33" width="38.68" height="3.88" fill="#6F7932"/>
<rect x="173.37" y="659.87" width="38.68" height="10.95" fill="#2D0D35"/>
<rect x="173.37" y="670.47" width="38.68" height="3.88" fill="#B563B4"/>
<rect x="173.37" y="674.00" width="38.68" height="3.81" fill="#23260F"/>
<rect x="173.37" y="677.46" width="38.68" height="3.81" fill="#0B090B"/>
<rect x="173.37" y="680.91" width="38.68" height="3.81" fill="#6F2680"/>
<rect x="173.37" y="684.37" width="38.68" height="3.81" fill="#929D3A"/>
<rect x="173.37" y="687.83" width="38.68" height="3.81" fill="#6F2680"/>
<rect x="173.37" y="691.28" width="38.68" height="3.81" fill="#0B090B"/>
<rect x="173.37" y="694.74" width="38.68" height="3.81" fill="#6F2680"/>
<rect x="173.37" y="698.20" width="38.68" height="7.26" fill="#5F682A"/>
<rect x="173.37" y="705.11" width="38.68" height="3.81" fill="#434A1E"/>
<rect x="173.37" y="708.57" width="38.68" height="3.81" fill="#0B090B"/>
<rect x="173.37" y="712.02" width="38.68" height="3.81" fill="#A144AA"/>
<rect x="173.37" y="715.48" width="38.68" height="7.26" fill="#D9E93C"/>
<rect x="173.37" y="722.39" width="38.68" height="3.81" fill="#0B090B"/>
<rect x="173.37" y="725.85" width="38.68" height="7.26" fill="#6F7932"/>
<rect x="173.37" y="732.76" width="38.68" height="3.81" fill="#6F2680"/>
<rect x="173.37" y="736.22" width="38.68" height="3.81" fill="#434A1E"/>
<rect x="173.37" y="739.68" width="38.68" height="3.81" fill="#6F2680"/>
<rect x="173.37" y="743.13" width="38.68" height="3.81" fill="#B4C03C"/>
<rect x="173.37" y="746.59" width="38.68" height="3.81" fill="#4B1758"/>
<rect x="173.37" y="750.05" width="38.68" height="3.81" fill="#6F7932"/>
<rect x="173.37" y="753.50" width="38.68" height="7.26" fill="#434A1E"/>
<rect x="173.37" y="760.42" width="38.68" height="3.81" fill="#23260F"/>
<rect x="173.37" y="763.87" width="38.68" height="3.81" fill="#2D0D35"/>
<rect x="173.37" y="767.33" width="38.68" height="3.81" fill="#929D3A"/>
<rect x="173.37" y="770.79" width="38.68" height="3.81" fill="#D9E93C"/>
<rect x="173.37" y="774.24" width="38.68" height="7.81" fill="#2D0D35"/>
<rect x="211.65" y="140.30" width="38.68" height="14.58" fill="#5F682A"/>
<rect x="211.65" y="154.53" width="38.68" height="3.76" fill="#6F7932"/>
<rect x="211.65" y="157.94" width="38.68" height="17.40" fill="#5F682A"/>
<rect x="211.65" y="174.99" width="38.68" height="3.76" fill="#6F7932"/>
<rect x="211.65" y="178.40" width="38.68" height="3.76" fill="#434A1E"/>
<rect x="211.65" y="181.81" width="38.68" height="10.58" fill="#6F7932"/>
<rect x="211.65" y="192.04" width="38.68" height="3.76" fill="#5F682A"/>
<rect x="211.65" y="195.45" width="38.68" height="10.58" fill="#6F7932"/>
<rect x="211.65" y="205.67" width="38.68" height="3.76" fill="#929D3A"/>
<rect x="211.65" y="209.08" width="38.68" height="7.17" fill="#5F682A"/>
<rect x="211.65" y="215.90" width="38.68" height="3.76" fill="#434A1E"/>
<rect x="211.65" y="219.31" width="38.68" height="10.58" fill="#6F7932"/>
<rect x="211.65" y="229.54" width="38.68" height="13.99" fill="#5F682A"/>
<rect x="211.65" y="243.18" width="38.68" height="3.76" fill="#6F7932"/>
<rect x="211.65" y="246.59" width="38.68" height="3.76" fill="#5F682A"/>
<rect x="211.65" y="250.00" width="38.68" height="5.40" fill="#434A1E"/>
<rect x="211.65" y="255.05" width="38.68" height="7.08" fill="#5F682A"/>
<rect x="211.65" y="261.78" width="38.68" height="10.45" fill="#929D3A"/>
<rect x="211.65" y="271.87" width="38.68" height="3.72" fill="#6F7932"/>
<rect x="211.65" y="275.24" width="38.68" height="3.72" fill="#D9E93C"/>
<rect x="211.65" y="278.60" width="38.68" height="3.72" fill="#6F7932"/>
<rect x="211.65" y="281.97" width="38.68" height="3.72" fill="#434A1E"/>
<rect x="211.65" y="285.33" width="38.68" height="7.08" fill="#929D3A"/>
<rect x="211.65" y="292.06" width="38.68" height="3.72" fill="#5F682A"/>
<rect x="211.65" y="295.43" width="38.68" height="7.08" fill="#6F7932"/>
<rect x="211.65" y="302.16" width="38.68" height="7.08" fill="#929D3A"/>
<rect x="211.65" y="308.89" width="38.68" height="3.72" fill="#6F7932"/>
<rect x="211.65" y="312.25" width="38.68" height="3.72" fill="#434A1E"/>
<rect x="211.65" y="315.62" width="38.68" height="7.08" fill="#929D3A"/>
<rect x="211.65" y="322.35" width="38.68" height="7.08" fill="#434A1E"/>
<rect x="211.65" y="329.08" width="38.68" height="10.45" fill="#5F682A"/>
<rect x="211.65" y="339.17" width="38.68" height="3.72" fill="#6F7932"/>
<rect x="211.65" y="342.54" width="38.68" height="3.72" fill="#5F682A"/>
<rect x="211.65" y="345.90" width="38.68" height="3.72" fill="#6F7932"/>
<rect x="211.65" y="349.27" width="38.68" height="3.72" fill="#929D3A"/>
<rect x="211.65" y="352.63" width="38.68" height="3.72" fill="#434A1E"/>
<rect x="211.65" y="356.00" width="38.68" height="2.09" fill="#5F682A"/>
<rect x="211.65" y="357.74" width="38.68" height="3.83" fill="#929D3A"/>
<rect x="211.65" y="361.21" width="38.68" height="3.83" fill="#6F7932"/>
<rect x="211.65" y="364.69" width="38.68" height="3.83" fill="#0B090B"/>
<rect x="211.65" y="368.16" width="38.68" height="3.83" fill="#2D0D35"/>
<rect x="211.65" y="371.64" width="38.68" height="3.83" fill="#434A1E"/>
<rect x="211.65" y="375.11" width="38.68" height="7.30" fill="#929D3A"/>
<rect x="211.65" y="382.07" width="38.68" height="7.30" fill="#434A1E"/>
<rect x="211.65" y="389.02" width="38.68" height="3.83" fill="#5F682A"/>
<rect x="211.65" y="392.49" width="38.68" height="3.83" fill="#D9E93C"/>
<rect x="211.65" y="395.97" width="38.68" height="3.83" fill="#0B090B"/>
<rect x="211.65" y="399.44" width="38.68" height="3.83" fill="#6F7932"/>
<rect x="211.65" y="402.92" width="38.68" height="3.83" fill="#5F682A"/>
<rect x="211.65" y="406.39" width="38.68" height="7.30" fill="#434A1E"/>
<rect x="211.65" y="413.34" width="38.68" height="3.83" fill="#0B090B"/>
<rect x="211.65" y="416.82" width="38.68" height="3.83" fill="#929D3A"/>
<rect x="211.65" y="420.30" width="38.68" height="3.83" fill="#5F682A"/>
<rect x="211.65" y="423.77" width="38.68" height="7.30" fill="#6F7932"/>
<rect x="211.65" y="430.72" width="38.68" height="3.83" fill="#434A1E"/>
<rect x="211.65" y="434.20" width="38.68" height="7.30" fill="#6F7932"/>
<rect x="211.65" y="441.15" width="38.68" height="3.83" fill="#D9E93C"/>
<rect x="211.65" y="444.62" width="38.68" height="3.83" fill="#434A1E"/>
<rect x="211.65" y="448.10" width="38.68" height="3.83" fill="#0B090B"/>
<rect x="211.65" y="451.57" width="38.68" height="7.30" fill="#929D3A"/>
<rect x="211.65" y="458.52" width="38.68" height="3.83" fill="#6F7932"/>
<rect x="211.65" y="462.00" width="38.68" height="2.09" fill="#5F682A"/>
<rect x="211.65" y="463.74" width="38.68" height="3.83" fill="#929D3A"/>
<rect x="211.65" y="467.21" width="38.68" height="3.83" fill="#0B090B"/>
<rect x="211.65" y="470.69" width="38.68" height="3.83" fill="#6F7932"/>
<rect x="211.65" y="474.16" width="38.68" height="3.83" fill="#0B090B"/>
<rect x="211.65" y="477.64" width="38.68" height="7.30" fill="#6F7932"/>
<rect x="211.65" y="484.59" width="38.68" height="3.83" fill="#0B090B"/>
<rect x="211.65" y="488.07" width="38.68" height="3.83" fill="#929D3A"/>
<rect x="211.65" y="491.54" width="38.68" height="3.83" fill="#D9E93C"/>
<rect x="211.65" y="495.02" width="38.68" height="3.83" fill="#6F7932"/>
<rect x="211.65" y="498.49" width="38.68" height="3.83" fill="#434A1E"/>
<rect x="211.65" y="501.97" width="38.68" height="3.83" fill="#5F682A"/>
<rect x="211.65" y="505.44" width="38.68" height="3.83" fill="#D9E93C"/>
<rect x="211.65" y="508.92" width="38.68" height="10.78" fill="#6F7932"/>
<rect x="211.65" y="519.34" width="38.68" height="3.83" fill="#929D3A"/>
<rect x="211.65" y="522.82" width="38.68" height="3.83" fill="#D9E93C"/>
<rect x="211.65" y="526.30" width="38.68" height="3.83" fill="#6F7932"/>
<rect x="211.65" y="529.77" width="38.68" height="7.30" fill="#23260F"/>
<rect x="211.65" y="536.72" width="38.68" height="3.83" fill="#A144AA"/>
<rect x="211.65" y="540.20" width="38.68" height="3.83" fill="#6F7932"/>
<rect x="211.65" y="543.67" width="38.68" height="3.83" fill="#0B090B"/>
<rect x="211.65" y="547.15" width="38.68" height="3.83" fill="#B4C03C"/>
<rect x="211.65" y="550.62" width="38.68" height="3.83" fill="#5F682A"/>
<rect x="211.65" y="554.10" width="38.68" height="3.83" fill="#4B1758"/>
<rect x="211.65" y="557.57" width="38.68" height="10.78" fill="#D9E93C"/>
<rect x="211.65" y="568.00" width="38.68" height="3.88" fill="#4B1758"/>
<rect x="211.65" y="571.53" width="38.68" height="3.88" fill="#5F682A"/>
<rect x="211.65" y="575.07" width="38.68" height="3.88" fill="#929D3A"/>
<rect x="211.65" y="578.60" width="38.68" height="3.88" fill="#0B090B"/>
<rect x="211.65" y="582.13" width="38.68" height="3.88" fill="#929D3A"/>
<rect x="211.65" y="585.67" width="38.68" height="3.88" fill="#6F7932"/>
<rect x="211.65" y="589.20" width="38.68" height="3.88" fill="#6F2680"/>
<rect x="211.65" y="592.73" width="38.68" height="3.88" fill="#4B1758"/>
<rect x="211.65" y="596.27" width="38.68" height="3.88" fill="#5F682A"/>
<rect x="211.65" y="599.80" width="38.68" height="7.42" fill="#6F2680"/>
<rect x="211.65" y="606.87" width="38.68" height="7.42" fill="#D9E93C"/>
<rect x="211.65" y="613.93" width="38.68" height="7.42" fill="#2D0D35"/>
<rect x="211.65" y="621.00" width="38.68" height="3.88" fill="#0B090B"/>
<rect x="211.65" y="624.53" width="38.68" height="3.88" fill="#6F7932"/>
<rect x="211.65" y="628.07" width="38.68" height="3.88" fill="#23260F"/>
<rect x="211.65" y="631.60" width="38.68" height="3.88" fill="#6F7932"/>
<rect x="211.65" y="635.13" width="38.68" height="3.88" fill="#2D0D35"/>
<rect x="211.65" y="638.67" width="38.68" height="3.88" fill="#434A1E"/>
<rect x="211.65" y="642.20" width="38.68" height="3.88" fill="#23260F"/>
<rect x="211.65" y="645.73" width="38.68" height="10.95" fill="#4B1758"/>
<rect x="211.65" y="656.33" width="38.68" height="3.88" fill="#6F7932"/>
<rect x="211.65" y="659.87" width="38.68" height="3.88" fill="#0B090B"/>
<rect x="211.65" y="663.40" width="38.68" height="3.88" fill="#A144AA"/>
<rect x="211.65" y="666.93" width="38.68" height="3.88" fill="#6F7932"/>
<rect x="211.65" y="670.47" width="38.68" height="3.88" fill="#4B1758"/>
<rect x="211.65" y="674.00" width="38.68" height="3.81" fill="#A144AA"/>
<rect x="211.65" y="677.46" width="38.68" height="3.81" fill="#6F2680"/>
<rect x="211.65" y="680.91" width="38.68" height="3.81" fill="#929D3A"/>
<rect x="211.65" y="684.37" width="38.68" height="3.81" fill="#434A1E"/>
<rect x="211.65" y="687.83" width="38.68" height="3.81" fill="#2D0D35"/>
<rect x="211.65" y="691.28" width="38.68" height="3.81" fill="#0B090B"/>
<rect x="211.65" y="694.74" width="38.68" height="3.81" fill="#6F2680"/>
<rect x="211.65" y="698.20" width="38.68" height="3.81" fill="#929D3A"/>
<rect x="211.65" y="701.65" width="38.68" height="3.81" fill="#6F2680"/>
<rect x="211.65" y="705.11" width="38.68" height="3.81" fill="#434A1E"/>
<rect x="211.65" y="708.57" width="38.68" height="3.81" fill="#6F2680"/>
<rect x="211.65" y="712.02" width="38.68" height="3.81" fill="#2D0D35"/>
<rect x="211.65" y="715.48" width="38.68" height="3.81" fill="#A144AA"/>
<rect x="211.65" y="718.94" width="38.68" height="3.81" fill="#2D0D35"/>
<rect x="211.65" y="722.39" width="38.68" height="3.81" fill="#6F2680"/>
<rect x="211.65" y="725.85" width="38.68" height="3.81" fill="#B4C03C"/>
<rect x="211.65" y="729.31" width="38.68" height="7.26" fill="#A144AA"/>
<rect x="211.65" y="736.22" width="38.68" height="3.81" fill="#2D0D35"/>
<rect x="211.65" y="739.68" width="38.68" height="3.81" fill="#929D3A"/>
<rect x="211.65" y="743.13" width="38.68" height="7.26" fill="#2D0D35"/>
<rect x="211.65" y="750.05" width="38.68" height="3.81" fill="#929D3A"/>
<rect x="211.65" y="753.50" width="38.68" height="3.81" fill="#2D0D35"/>
<rect x="211.65" y="756.96" width="38.68" height="10.72" fill="#B563B4"/>
<rect x="211.65" y="767.33" width="38.68" height="3.81" fill="#0B090B"/>
<rect x="211.65" y="770.79" width="38.68" height="3.81" fill="#2D0D35"/>
<rect x="211.65" y="774.24" width="38.68" height="7.81" fill="#D9E93C"/>
<rect x="249.93" y="140.30" width="38.68" height="21.40" fill="#6F7932"/>
<rect x="249.93" y="161.35" width="38.68" height="3.76" fill="#5F682A"/>
<rect x="249.93" y="164.76" width="38.68" height="17.40" fill="#6F7932"/>
<rect x="249.93" y="181.81" width="38.68" height="17.40" fill="#5F682A"/>
<rect x="249.93" y="198.85" width="38.68" height="7.17" fill="#434A1E"/>
<rect x="249.93" y="205.67" width="38.68" height="10.58" fill="#6F7932"/>
<rect x="249.93" y="215.90" width="38.68" height="3.76" fill="#434A1E"/>
<rect x="249.93" y="219.31" width="38.68" height="3.76" fill="#929D3A"/>
<rect x="249.93" y="222.72" width="38.68" height="3.76" fill="#23260F"/>
<rect x="249.93" y="226.13" width="38.68" height="3.76" fill="#929D3A"/>
<rect x="249.93" y="229.54" width="38.68" height="7.17" fill="#6F7932"/>
<rect x="249.93" y="236.36" width="38.68" height="3.76" fill="#5F682A"/>
<rect x="249.93" y="239.77" width="38.68" height="7.17" fill="#6F7932"/>
<rect x="249.93" y="246.59" width="38.68" height="3.76" fill="#5F682A"/>
<rect x="249.93" y="250.00" width="38.68" height="5.40" fill="#6F7932"/>
<rect x="249.93" y="255.05" width="38.68" height="3.72" fill="#434A1E"/>
<rect x="249.93" y="258.41" width="38.68" height="3.72" fill="#929D3A"/>
<rect x="249.93" y="261.78" width="38.68" height="7.08" fill="#5F682A"/>
<rect x="249.93" y="268.51" width="38.68" height="7.08" fill="#929D3A"/>
<rect x="249.93" y="275.24" width="38.68" height="3.72" fill="#0B090B"/>
<rect x="249.93" y="278.60" width="38.68" height="7.08" fill="#929D3A"/>
<rect x="249.93" y="285.33" width="38.68" height="7.08" fill="#6F7932"/>
<rect x="249.93" y="292.06" width="38.68" height="7.08" fill="#929D3A"/>
<rect x="249.93" y="298.79" width="38.68" height="3.72" fill="#B4C03C"/>
<rect x="249.93" y="302.16" width="38.68" height="10.45" fill="#6F7932"/>
<rect x="249.93" y="312.25" width="38.68" height="3.72" fill="#5F682A"/>
<rect x="249.93" y="315.62" width="38.68" height="3.72" fill="#434A1E"/>
<rect x="249.93" y="318.98" width="38.68" height="3.72" fill="#23260F"/>
<rect x="249.93" y="322.35" width="38.68" height="13.81" fill="#929D3A"/>
<rect x="249.93" y="335.81" width="38.68" height="3.72" fill="#5F682A"/>
<rect x="249.93" y="339.17" width="38.68" height="10.45" fill="#929D3A"/>
<rect x="249.93" y="349.27" width="38.68" height="3.72" fill="#434A1E"/>
<rect x="249.93" y="352.63" width="38.68" height="3.72" fill="#6F7932"/>
<rect x="249.93" y="356.00" width="38.68" height="2.09" fill="#5F682A"/>
<rect x="249.93" y="357.74" width="38.68" height="10.78" fill="#434A1E"/>
<rect x="249.93" y="368.16" width="38.68" height="3.83" fill="#B563B4"/>
<rect x="249.93" y="371.64" width="38.68" height="3.83" fill="#5F682A"/>
<rect x="249.93" y="375.11" width="38.68" height="7.30" fill="#0B090B"/>
<rect x="249.93" y="382.07" width="38.68" height="10.78" fill="#5F682A"/>
<rect x="249.93" y="392.49" width="38.68" height="3.83" fill="#4B1758"/>
<rect x="249.93" y="395.97" width="38.68" height="7.30" fill="#434A1E"/>
<rect x="249.93" y="402.92" width="38.68" height="3.83" fill="#929D3A"/>
<rect x="249.93" y="406.39" width="38.68" height="3.83" fill="#6F7932"/>
<rect x="249.93" y="409.87" width="38.68" height="3.83" fill="#23260F"/>
<rect x="249.93" y="413.34" width="38.68" height="3.83" fill="#D9E93C"/>
<rect x="249.93" y="416.82" width="38.68" height="10.78" fill="#6F7932"/>
<rect x="249.93" y="427.25" width="38.68" height="7.30" fill="#0B090B"/>
<rect x="249.93" y="434.20" width="38.68" height="7.30" fill="#929D3A"/>
<rect x="249.93" y="441.15" width="38.68" height="3.83" fill="#434A1E"/>
<rect x="249.93" y="444.62" width="38.68" height="3.83" fill="#5F682A"/>
<rect x="249.93" y="448.10" width="38.68" height="3.83" fill="#D9E93C"/>
<rect x="249.93" y="451.57" width="38.68" height="3.83" fill="#4B1758"/>
<rect x="249.93" y="455.05" width="38.68" height="3.83" fill="#23260F"/>
<rect x="249.93" y="458.52" width="38.68" height="3.83" fill="#929D3A"/>
<rect x="249.93" y="462.00" width="38.68" height="10.61" fill="#6F7932"/>
<rect x="249.93" y="472.26" width="38.68" height="7.19" fill="#0B090B"/>
<rect x="249.93" y="479.10" width="38.68" height="3.77" fill="#6F7932"/>
<rect x="249.93" y="482.52" width="38.68" height="3.77" fill="#B4C03C"/>
<rect x="249.93" y="485.94" width="38.68" height="7.19" fill="#6F7932"/>
<rect x="249.93" y="492.77" width="38.68" height="3.77" fill="#0B090B"/>
<rect x="249.93" y="496.19" width="38.68" height="3.77" fill="#6F7932"/>
<rect x="249.93" y="499.61" width="38.68" height="3.77" fill="#D9E93C"/>
<rect x="249.93" y="503.03" width="38.68" height="3.77" fill="#5F682A"/>
<rect x="249.93" y="506.45" width="38.68" height="7.19" fill="#0B090B"/>
<rect x="249.93" y="513.29" width="38.68" height="3.77" fill="#434A1E"/>
<rect x="249.93" y="516.71" width="38.68" height="10.61" fill="#0B090B"/>
<rect x="249.93" y="526.97" width="38.68" height="10.61" fill="#5F682A"/>
<rect x="249.93" y="537.23" width="38.68" height="3.77" fill="#4B1758"/>
<rect x="249.93" y="540.65" width="38.68" height="10.61" fill="#6F2680"/>
<rect x="249.93" y="550.90" width="38.68" height="3.77" fill="#6F7932"/>
<rect x="249.93" y="554.32" width="38.68" height="3.77" fill="#4B1758"/>
<rect x="249.93" y="557.74" width="38.68" height="3.77" fill="#5F682A"/>
<rect x="249.93" y="561.16" width="38.68" height="7.19" fill="#0B090B"/>
<rect x="249.93" y="568.00" width="38.68" height="7.42" fill="#6F2680"/>
<rect x="249.93" y="575.07" width="38.68" height="3.88" fill="#2D0D35"/>
<rect x="249.93" y="578.60" width="38.68" height="3.88" fill="#0B090B"/>
<rect x="249.93" y="582.13" width="38.68" height="3.88" fill="#23260F"/>
<rect x="249.93" y="585.67" width="38.68" height="3.88" fill="#2D0D35"/>
<rect x="249.93" y="589.20" width="38.68" height="3.88" fill="#0B090B"/>
<rect x="249.93" y="592.73" width="38.68" height="3.88" fill="#A144AA"/>
<rect x="249.93" y="596.27" width="38.68" height="3.88" fill="#6F2680"/>
<rect x="249.93" y="599.80" width="38.68" height="3.88" fill="#434A1E"/>
<rect x="249.93" y="603.33" width="38.68" height="3.88" fill="#2D0D35"/>
<rect x="249.93" y="606.87" width="38.68" height="3.88" fill="#23260F"/>
<rect x="249.93" y="610.40" width="38.68" height="3.88" fill="#4B1758"/>
<rect x="249.93" y="613.93" width="38.68" height="3.88" fill="#0B090B"/>
<rect x="249.93" y="617.47" width="38.68" height="3.88" fill="#23260F"/>
<rect x="249.93" y="621.00" width="38.68" height="3.88" fill="#D9E93C"/>
<rect x="249.93" y="624.53" width="38.68" height="3.88" fill="#0B090B"/>
<rect x="249.93" y="628.07" width="38.68" height="3.88" fill="#6F2680"/>
<rect x="249.93" y="631.60" width="38.68" height="3.88" fill="#5F682A"/>
<rect x="249.93" y="635.13" width="38.68" height="3.88" fill="#2D0D35"/>
<rect x="249.93" y="638.67" width="38.68" height="7.42" fill="#4B1758"/>
<rect x="249.93" y="645.73" width="38.68" height="3.88" fill="#2D0D35"/>
<rect x="249.93" y="649.27" width="38.68" height="3.88" fill="#434A1E"/>
<rect x="249.93" y="652.80" width="38.68" height="7.42" fill="#2D0D35"/>
<rect x="249.93" y="659.87" width="38.68" height="3.88" fill="#D9E93C"/>
<rect x="249.93" y="663.40" width="38.68" height="3.88" fill="#929D3A"/>
<rect x="249.93" y="666.93" width="38.68" height="3.88" fill="#434A1E"/>
<rect x="249.93" y="670.47" width="38.68" height="3.88" fill="#5F682A"/>
<rect x="249.93" y="674.00" width="38.68" height="3.81" fill="#B4C03C"/>
<rect x="249.93" y="677.46" width="38.68" height="7.26" fill="#A144AA"/>
<rect x="249.93" y="684.37" width="38.68" height="3.81" fill="#6F7932"/>
<rect x="249.93" y="687.83" width="38.68" height="7.26" fill="#A144AA"/>
<rect x="249.93" y="694.74" width="38.68" height="3.81" fill="#2D0D35"/>
<rect x="249.93" y="698.20" width="38.68" height="3.81" fill="#A144AA"/>
<rect x="249.93" y="701.65" width="38.68" height="3.81" fill="#6F2680"/>
<rect x="249.93" y="705.11" width="38.68" height="7.26" fill="#B563B4"/>
<rect x="249.93" y="712.02" width="38.68" height="3.81" fill="#4B1758"/>
<rect x="249.93" y="715.48" width="38.68" height="3.81" fill="#5F682A"/>
<rect x="249.93" y="718.94" width="38.68" height="7.26" fill="#A144AA"/>
<rect x="249.93" y="725.85" width="38.68" height="7.26" fill="#2D0D35"/>
<rect x="249.93" y="732.76" width="38.68" height="3.81" fill="#23260F"/>
<rect x="249.93" y="736.22" width="38.68" height="3.81" fill="#D9E93C"/>
<rect x="249.93" y="739.68" width="38.68" height="7.26" fill="#5F682A"/>
<rect x="249.93" y="746.59" width="38.68" height="10.72" fill="#6F2680"/>
<rect x="249.93" y="756.96" width="38.68" height="3.81" fill="#23260F"/>
<rect x="249.93" y="760.42" width="38.68" height="3.81" fill="#6F7932"/>
<rect x="249.93" y="763.87" width="38.68" height="3.81" fill="#0B090B"/>
<rect x="249.93" y="767.33" width="38.68" height="3.81" fill="#6F7932"/>
<rect x="249.93" y="770.79" width="38.68" height="3.81" fill="#0B090B"/>
<rect x="249.93" y="774.24" width="38.68" height="7.81" fill="#4B1758"/>
<rect x="288.22" y="140.30" width="38.28" height="14.58" fill="#6F7932"/>
<rect x="288.22" y="154.53" width="38.28" height="7.17" fill="#5F682A"/>
<rect x="288.22" y="161.35" width="38.28" height="3.76" fill="#929D3A"/>
<rect x="288.22" y="164.76" width="38.28" height="7.17" fill="#5F682A"/>
<rect x="288.22" y="171.58" width="38.28" height="3.76" fill="#6F7932"/>
<rect x="288.22" y="174.99" width="38.28" height="3.76" fill="#5F682A"/>
<rect x="288.22" y="178.40" width="38.28" height="3.76" fill="#6F7932"/>
<rect x="288.22" y="181.81" width="38.28" height="3.76" fill="#929D3A"/>
<rect x="288.22" y="185.22" width="38.28" height="3.76" fill="#6F7932"/>
<rect x="288.22" y="188.63" width="38.28" height="3.76" fill="#434A1E"/>
<rect x="288.22" y="192.04" width="38.28" height="3.76" fill="#929D3A"/>
<rect x="288.22" y="195.45" width="38.28" height="3.76" fill="#434A1E"/>
<rect x="288.22" y="198.85" width="38.28" height="7.17" fill="#929D3A"/>
<rect x="288.22" y="205.67" width="38.28" height="3.76" fill="#434A1E"/>
<rect x="288.22" y="209.08" width="38.28" height="7.17" fill="#6F7932"/>
<rect x="288.22" y="215.90" width="38.28" height="3.76" fill="#B4C03C"/>
<rect x="288.22" y="219.31" width="38.28" height="3.76" fill="#23260F"/>
<rect x="288.22" y="222.72" width="38.28" height="3.76" fill="#B4C03C"/>
<rect x="288.22" y="226.13" width="38.28" height="3.76" fill="#23260F"/>
<rect x="288.22" y="229.54" width="38.28" height="13.99" fill="#6F7932"/>
<rect x="288.22" y="243.18" width="38.28" height="3.76" fill="#5F682A"/>
<rect x="288.22" y="246.59" width="38.28" height="3.76" fill="#6F7932"/>
<rect x="288.22" y="250.00" width="38.28" height="9.04" fill="#929D3A"/>
<rect x="288.22" y="258.69" width="38.28" height="3.83" fill="#6F7932"/>
<rect x="288.22" y="262.16" width="38.28" height="17.73" fill="#434A1E"/>
<rect x="288.22" y="279.54" width="38.28" height="3.83" fill="#23260F"/>
<rect x="288.22" y="283.02" width="38.28" height="3.83" fill="#5F682A"/>
<rect x="288.22" y="286.49" width="38.28" height="7.30" fill="#23260F"/>
<rect x="288.22" y="293.44" width="38.28" height="3.83" fill="#5F682A"/>
<rect x="288.22" y="296.92" width="38.28" height="3.83" fill="#434A1E"/>
<rect x="288.22" y="300.39" width="38.28" height="3.83" fill="#0B090B"/>
<rect x="288.22" y="303.87" width="38.28" height="7.30" fill="#23260F"/>
<rect x="288.22" y="310.82" width="38.28" height="7.30" fill="#6F7932"/>
<rect x="288.22" y="317.77" width="38.28" height="3.83" fill="#23260F"/>
<rect x="288.22" y="321.25" width="38.28" height="3.83" fill="#B4C03C"/>
<rect x="288.22" y="324.72" width="38.28" height="3.83" fill="#6F7932"/>
<rect x="288.22" y="328.20" width="38.28" height="7.30" fill="#5F682A"/>
<rect x="288.22" y="335.15" width="38.28" height="3.83" fill="#929D3A"/>
<rect x="288.22" y="338.62" width="38.28" height="7.30" fill="#23260F"/>
<rect x="288.22" y="345.57" width="38.28" height="14.20" fill="#5F682A"/>
<rect x="288.22" y="359.42" width="38.28" height="3.77" fill="#B4C03C"/>
<rect x="288.22" y="362.84" width="38.28" height="3.77" fill="#D9E93C"/>
<rect x="288.22" y="366.26" width="38.28" height="3.77" fill="#0B090B"/>
<rect x="288.22" y="369.68" width="38.28" height="3.77" fill="#929D3A"/>
<rect x="288.22" y="373.10" width="38.28" height="3.77" fill="#B4C03C"/>
<rect x="288.22" y="376.52" width="38.28" height="3.77" fill="#929D3A"/>
<rect x="288.22" y="379.94" width="38.28" height="3.77" fill="#6F7932"/>
<rect x="288.22" y="383.35" width="38.28" height="3.77" fill="#929D3A"/>
<rect x="288.22" y="386.77" width="38.28" height="3.77" fill="#6F7932"/>
<rect x="288.22" y="390.19" width="38.28" height="3.77" fill="#434A1E"/>
<rect x="288.22" y="393.61" width="38.28" height="3.77" fill="#D9E93C"/>
<rect x="288.22" y="397.03" width="38.28" height="14.03" fill="#6F7932"/>
<rect x="288.22" y="410.71" width="38.28" height="3.77" fill="#23260F"/>
<rect x="288.22" y="414.13" width="38.28" height="7.19" fill="#2D0D35"/>
<rect x="288.22" y="420.97" width="38.28" height="3.77" fill="#23260F"/>
<rect x="288.22" y="424.39" width="38.28" height="3.77" fill="#6F7932"/>
<rect x="288.22" y="427.81" width="38.28" height="7.19" fill="#B4C03C"/>
<rect x="288.22" y="434.65" width="38.28" height="3.77" fill="#0B090B"/>
<rect x="288.22" y="438.06" width="38.28" height="3.77" fill="#23260F"/>
<rect x="288.22" y="441.48" width="38.28" height="3.77" fill="#0B090B"/>
<rect x="288.22" y="444.90" width="38.28" height="3.77" fill="#434A1E"/>
<rect x="288.22" y="448.32" width="38.28" height="3.77" fill="#23260F"/>
<rect x="288.22" y="451.74" width="38.28" height="3.77" fill="#929D3A"/>
<rect x="288.22" y="455.16" width="38.28" height="7.19" fill="#23260F"/>
<rect x="288.22" y="462.00" width="38.28" height="2.09" fill="#5F682A"/>
<rect x="288.22" y="463.74" width="38.28" height="3.83" fill="#2D0D35"/>
<rect x="288.22" y="467.21" width="38.28" height="3.83" fill="#434A1E"/>
<rect x="288.22" y="470.69" width="38.28" height="7.30" fill="#D9E93C"/>
<rect x="288.22" y="477.64" width="38.28" height="7.30" fill="#2D0D35"/>
<rect x="288.22" y="484.59" width="38.28" height="3.83" fill="#434A1E"/>
<rect x="288.22" y="488.07" width="38.28" height="3.83" fill="#0B090B"/>
<rect x="288.22" y="491.54" width="38.28" height="3.83" fill="#23260F"/>
<rect x="288.22" y="495.02" width="38.28" height="7.30" fill="#4B1758"/>
<rect x="288.22" y="501.97" width="38.28" height="3.83" fill="#5F682A"/>
<rect x="288.22" y="505.44" width="38.28" height="3.83" fill="#0B090B"/>
<rect x="288.22" y="508.92" width="38.28" height="7.30" fill="#434A1E"/>
<rect x="288.22" y="515.87" width="38.28" height="7.30" fill="#6F7932"/>
<rect x="288.22" y="522.82" width="38.28" height="3.83" fill="#2D0D35"/>
<rect x="288.22" y="526.30" width="38.28" height="7.30" fill="#5F682A"/>
<rect x="288.22" y="533.25" width="38.28" height="3.83" fill="#929D3A"/>
<rect x="288.22" y="536.72" width="38.28" height="3.83" fill="#6F2680"/>
<rect x="288.22" y="540.20" width="38.28" height="3.83" fill="#6F7932"/>
<rect x="288.22" y="543.67" width="38.28" height="3.83" fill="#D9E93C"/>
<rect x="288.22" y="547.15" width="38.28" height="7.30" fill="#6F7932"/>
<rect x="288.22" y="554.10" width="38.28" height="3.83" fill="#D9E93C"/>
<rect x="288.22" y="557.57" width="38.28" height="3.83" fill="#0B090B"/>
<rect x="288.22" y="561.05" width="38.28" height="10.83" fill="#23260F"/>
<rect x="288.22" y="571.53" width="38.28" height="3.88" fill="#929D3A"/>
<rect x="288.22" y="575.07" width="38.28" height="3.88" fill="#0B090B"/>
<rect x="288.22" y="578.60" width="38.28" height="3.88" fill="#929D3A"/>
<rect x="288.22" y="582.13" width="38.28" height="3.88" fill="#2D0D35"/>
<rect x="288.22" y="585.67" width="38.28" height="7.42" fill="#B4C03C"/>
<rect x="288.22" y="592.73" width="38.28" height="3.88" fill="#2D0D35"/>
<rect x="288.22" y="596.27" width="38.28" height="3.88" fill="#5F682A"/>
<rect x="288.22" y="599.80" width="38.28" height="3.88" fill="#B563B4"/>
<rect x="288.22" y="603.33" width="38.28" height="10.95" fill="#2D0D35"/>
<rect x="288.22" y="613.93" width="38.28" height="3.88" fill="#929D3A"/>
<rect x="288.22" y="617.47" width="38.28" height="3.88" fill="#6F2680"/>
<rect x="288.22" y="621.00" width="38.28" height="3.88" fill="#0B090B"/>
<rect x="288.22" y="624.53" width="38.28" height="3.88" fill="#23260F"/>
<rect x="288.22" y="628.07" width="38.28" height="3.88" fill="#929D3A"/>
<rect x="288.22" y="631.60" width="38.28" height="3.88" fill="#6F7932"/>
<rect x="288.22" y="635.13" width="38.28" height="3.88" fill="#6F2680"/>
<rect x="288.22" y="638.67" width="38.28" height="3.88" fill="#D9E93C"/>
<rect x="288.22" y="642.20" width="38.28" height="3.88" fill="#5F682A"/>
<rect x="288.22" y="645.73" width="38.28" height="3.88" fill="#D9E93C"/>
<rect x="288.22" y="649.27" width="38.28" height="3.88" fill="#5F682A"/>
<rect x="288.22" y="652.80" width="38.28" height="7.42" fill="#B563B4"/>
<rect x="288.22" y="659.87" width="38.28" height="3.88" fill="#0B090B"/>
<rect x="288.22" y="663.40" width="38.28" height="3.88" fill="#929D3A"/>
<rect x="288.22" y="666.93" width="38.28" height="3.88" fill="#23260F"/>
<rect x="288.22" y="670.47" width="38.28" height="3.88" fill="#2D0D35"/>
<rect x="288.22" y="674.00" width="38.28" height="3.93" fill="#23260F"/>
<rect x="288.22" y="677.58" width="38.28" height="7.50" fill="#929D3A"/>
<rect x="288.22" y="684.73" width="38.28" height="3.93" fill="#0B090B"/>
<rect x="288.22" y="688.30" width="38.28" height="3.93" fill="#B4C03C"/>
<rect x="288.22" y="691.88" width="38.28" height="3.93" fill="#D9E93C"/>
<rect x="288.22" y="695.46" width="38.28" height="3.93" fill="#929D3A"/>
<rect x="288.22" y="699.03" width="38.28" height="3.93" fill="#6F2680"/>
<rect x="288.22" y="702.61" width="38.28" height="7.50" fill="#929D3A"/>
<rect x="288.22" y="709.76" width="38.28" height="3.93" fill="#B4C03C"/>
<rect x="288.22" y="713.33" width="38.28" height="7.50" fill="#0B090B"/>
<rect x="288.22" y="720.49" width="38.28" height="3.93" fill="#929D3A"/>
<rect x="288.22" y="724.06" width="38.28" height="7.50" fill="#6F2680"/>
<rect x="288.22" y="731.21" width="38.28" height="7.50" fill="#4B1758"/>
<rect x="288.22" y="738.37" width="38.28" height="7.50" fill="#A144AA"/>
<rect x="288.22" y="745.52" width="38.28" height="3.93" fill="#2D0D35"/>
<rect x="288.22" y="749.09" width="38.28" height="3.93" fill="#A144AA"/>
<rect x="288.22" y="752.67" width="38.28" height="3.93" fill="#D9E93C"/>
<rect x="288.22" y="756.24" width="38.28" height="3.93" fill="#929D3A"/>
<rect x="288.22" y="759.82" width="38.28" height="3.93" fill="#23260F"/>
<rect x="288.22" y="763.40" width="38.28" height="3.93" fill="#B4C03C"/>
<rect x="288.22" y="766.97" width="38.28" height="3.93" fill="#A144AA"/>
<rect x="288.22" y="770.55" width="38.28" height="3.93" fill="#2D0D35"/>
<rect x="288.22" y="774.12" width="38.28" height="7.93" fill="#8A2D9A"/>
</g></g>
</g>
<g id="heat-a2">
<rect x="352.1" y="123.2" width="114.95" height="12.60" fill="#E96D6E"/>
<rect x="467.05" y="123.2" width="114.95" height="12.60" fill="#5FCDC3"/>
<clipPath id="clip-heat-a2"><rect x="352.1" y="146.2" width="229.90" height="627.90"/></clipPath>
<g clip-path="url(#clip-heat-a2)"><g filter="url(#soft2)">
<rect x="352.1" y="142.2" width="229.90" height="635.90" fill="#2a1a2c"/>
<rect x="352.10" y="142.20" width="38.72" height="10.96" fill="#6F2680"/>
<rect x="352.10" y="152.81" width="38.72" height="6.96" fill="#4B1758"/>
<rect x="352.10" y="159.42" width="38.72" height="6.96" fill="#6F2680"/>
<rect x="352.10" y="166.03" width="38.72" height="6.96" fill="#A144AA"/>
<rect x="352.10" y="172.63" width="38.72" height="6.96" fill="#8A2D9A"/>
<rect x="352.10" y="179.24" width="38.72" height="6.96" fill="#6F2680"/>
<rect x="352.10" y="185.85" width="38.72" height="6.96" fill="#A144AA"/>
<rect x="352.10" y="192.46" width="38.72" height="6.96" fill="#8A2D9A"/>
<rect x="352.10" y="199.07" width="38.72" height="20.18" fill="#6F2680"/>
<rect x="352.10" y="218.89" width="38.72" height="6.96" fill="#2D0D35"/>
<rect x="352.10" y="225.50" width="38.72" height="13.57" fill="#8A2D9A"/>
<rect x="352.10" y="238.72" width="38.72" height="6.96" fill="#A144AA"/>
<rect x="352.10" y="245.33" width="38.72" height="6.96" fill="#4B1758"/>
<rect x="352.10" y="251.93" width="38.72" height="6.96" fill="#A144AA"/>
<rect x="352.10" y="258.54" width="38.72" height="13.57" fill="#B563B4"/>
<rect x="352.10" y="271.76" width="38.72" height="6.96" fill="#A144AA"/>
<rect x="352.10" y="278.37" width="38.72" height="6.96" fill="#B563B4"/>
<rect x="352.10" y="284.98" width="38.72" height="6.96" fill="#8A2D9A"/>
<rect x="352.10" y="291.58" width="38.72" height="6.96" fill="#6F2680"/>
<rect x="352.10" y="298.19" width="38.72" height="6.96" fill="#0B090B"/>
<rect x="352.10" y="304.80" width="38.72" height="6.96" fill="#A144AA"/>
<rect x="352.10" y="311.41" width="38.72" height="6.96" fill="#0B090B"/>
<rect x="352.10" y="318.03" width="38.72" height="6.96" fill="#8A2D9A"/>
<rect x="352.10" y="324.64" width="38.72" height="6.96" fill="#2D0D35"/>
<rect x="352.10" y="331.25" width="38.72" height="6.96" fill="#A144AA"/>
<rect x="352.10" y="337.86" width="38.72" height="6.96" fill="#0B090B"/>
<rect x="352.10" y="344.48" width="38.72" height="6.96" fill="#B563B4"/>
<rect x="352.10" y="351.09" width="38.72" height="6.96" fill="#A144AA"/>
<rect x="352.10" y="357.70" width="38.72" height="6.96" fill="#8A2D9A"/>
<rect x="352.10" y="364.31" width="38.72" height="6.96" fill="#A144AA"/>
<rect x="352.10" y="370.93" width="38.72" height="6.96" fill="#6F2680"/>
<rect x="352.10" y="377.54" width="38.72" height="6.96" fill="#929D3A"/>
<rect x="352.10" y="384.15" width="38.72" height="6.96" fill="#2D0D35"/>
<rect x="352.10" y="390.76" width="38.72" height="6.96" fill="#A144AA"/>
<rect x="352.10" y="397.38" width="38.72" height="13.58" fill="#4B1758"/>
<rect x="352.10" y="410.60" width="38.72" height="6.96" fill="#A144AA"/>
<rect x="352.10" y="417.21" width="38.72" height="6.96" fill="#2D0D35"/>
<rect x="352.10" y="423.83" width="38.72" height="13.58" fill="#6F2680"/>
<rect x="352.10" y="437.05" width="38.72" height="13.58" fill="#8A2D9A"/>
<rect x="352.10" y="450.28" width="38.72" height="6.96" fill="#B563B4"/>
<rect x="352.10" y="456.89" width="38.72" height="6.96" fill="#4B1758"/>
<rect x="352.10" y="463.50" width="38.72" height="6.97" fill="#0B090B"/>
<rect x="352.10" y="470.12" width="38.72" height="6.97" fill="#6F2680"/>
<rect x="352.10" y="476.75" width="38.72" height="6.97" fill="#A144AA"/>
<rect x="352.10" y="483.38" width="38.72" height="6.97" fill="#0B090B"/>
<rect x="352.10" y="490.00" width="38.72" height="6.97" fill="#2D0D35"/>
<rect x="352.10" y="496.62" width="38.72" height="6.97" fill="#D9E93C"/>
<rect x="352.10" y="503.25" width="38.72" height="6.97" fill="#A144AA"/>
<rect x="352.10" y="509.88" width="38.72" height="6.97" fill="#D9E93C"/>
<rect x="352.10" y="516.50" width="38.72" height="6.97" fill="#2D0D35"/>
<rect x="352.10" y="523.12" width="38.72" height="6.97" fill="#A144AA"/>
<rect x="352.10" y="529.75" width="38.72" height="6.97" fill="#B563B4"/>
<rect x="352.10" y="536.38" width="38.72" height="6.97" fill="#4B1758"/>
<rect x="352.10" y="543.00" width="38.72" height="6.97" fill="#434A1E"/>
<rect x="352.10" y="549.62" width="38.72" height="6.97" fill="#6F7932"/>
<rect x="352.10" y="556.25" width="38.72" height="6.97" fill="#929D3A"/>
<rect x="352.10" y="562.88" width="38.72" height="6.97" fill="#2D0D35"/>
<rect x="352.10" y="569.50" width="38.72" height="6.97" fill="#6F2680"/>
<rect x="352.10" y="576.12" width="38.72" height="6.97" fill="#2D0D35"/>
<rect x="352.10" y="582.75" width="38.72" height="6.97" fill="#0B090B"/>
<rect x="352.10" y="589.38" width="38.72" height="6.97" fill="#A144AA"/>
<rect x="352.10" y="596.00" width="38.72" height="6.97" fill="#2D0D35"/>
<rect x="352.10" y="602.62" width="38.72" height="6.97" fill="#434A1E"/>
<rect x="352.10" y="609.25" width="38.72" height="6.97" fill="#929D3A"/>
<rect x="352.10" y="615.88" width="38.72" height="6.97" fill="#6F7932"/>
<rect x="352.10" y="622.50" width="38.72" height="6.94" fill="#2D0D35"/>
<rect x="352.10" y="629.09" width="38.72" height="6.94" fill="#6F2680"/>
<rect x="352.10" y="635.68" width="38.72" height="6.94" fill="#2D0D35"/>
<rect x="352.10" y="642.27" width="38.72" height="6.94" fill="#0B090B"/>
<rect x="352.10" y="648.87" width="38.72" height="6.94" fill="#5F682A"/>
<rect x="352.10" y="655.46" width="38.72" height="6.94" fill="#4B1758"/>
<rect x="352.10" y="662.05" width="38.72" height="13.53" fill="#2D0D35"/>
<rect x="352.10" y="675.23" width="38.72" height="6.94" fill="#0B090B"/>
<rect x="352.10" y="681.82" width="38.72" height="6.94" fill="#8A2D9A"/>
<rect x="352.10" y="688.41" width="38.72" height="6.94" fill="#4B1758"/>
<rect x="352.10" y="695.00" width="38.72" height="6.94" fill="#6F2680"/>
<rect x="352.10" y="701.60" width="38.72" height="6.94" fill="#A144AA"/>
<rect x="352.10" y="708.19" width="38.72" height="6.94" fill="#6F2680"/>
<rect x="352.10" y="714.78" width="38.72" height="6.94" fill="#4B1758"/>
<rect x="352.10" y="721.37" width="38.72" height="6.94" fill="#23260F"/>
<rect x="352.10" y="727.96" width="38.72" height="6.94" fill="#434A1E"/>
<rect x="352.10" y="734.55" width="38.72" height="13.53" fill="#B563B4"/>
<rect x="352.10" y="747.73" width="38.72" height="6.94" fill="#5F682A"/>
<rect x="352.10" y="754.33" width="38.72" height="6.94" fill="#23260F"/>
<rect x="352.10" y="760.92" width="38.72" height="6.94" fill="#4B1758"/>
<rect x="352.10" y="767.51" width="38.72" height="10.94" fill="#6F7932"/>
<rect x="390.42" y="142.20" width="38.72" height="10.96" fill="#6F2680"/>
<rect x="390.42" y="152.81" width="38.72" height="20.18" fill="#8A2D9A"/>
<rect x="390.42" y="172.63" width="38.72" height="6.96" fill="#6F2680"/>
<rect x="390.42" y="179.24" width="38.72" height="6.96" fill="#A144AA"/>
<rect x="390.42" y="185.85" width="38.72" height="6.96" fill="#8A2D9A"/>
<rect x="390.42" y="192.46" width="38.72" height="13.57" fill="#A144AA"/>
<rect x="390.42" y="205.68" width="38.72" height="6.96" fill="#6F2680"/>
<rect x="390.42" y="212.28" width="38.72" height="6.96" fill="#A144AA"/>
<rect x="390.42" y="218.89" width="38.72" height="6.96" fill="#8A2D9A"/>
<rect x="390.42" y="225.50" width="38.72" height="13.57" fill="#2D0D35"/>
<rect x="390.42" y="238.72" width="38.72" height="6.96" fill="#4B1758"/>
<rect x="390.42" y="245.33" width="38.72" height="6.96" fill="#A144AA"/>
<rect x="390.42" y="251.93" width="38.72" height="26.78" fill="#2D0D35"/>
<rect x="390.42" y="278.37" width="38.72" height="20.18" fill="#4B1758"/>
<rect x="390.42" y="298.19" width="38.72" height="6.96" fill="#6F2680"/>
<rect x="390.42" y="304.80" width="38.72" height="6.96" fill="#2D0D35"/>
<rect x="390.42" y="311.41" width="38.72" height="6.96" fill="#0B090B"/>
<rect x="390.42" y="318.03" width="38.72" height="6.96" fill="#6F2680"/>
<rect x="390.42" y="324.64" width="38.72" height="6.96" fill="#4B1758"/>
<rect x="390.42" y="331.25" width="38.72" height="6.96" fill="#8A2D9A"/>
<rect x="390.42" y="337.86" width="38.72" height="6.96" fill="#434A1E"/>
<rect x="390.42" y="344.48" width="38.72" height="6.96" fill="#0B090B"/>
<rect x="390.42" y="351.09" width="38.72" height="6.96" fill="#A144AA"/>
<rect x="390.42" y="357.70" width="38.72" height="6.96" fill="#0B090B"/>
<rect x="390.42" y="364.31" width="38.72" height="6.96" fill="#434A1E"/>
<rect x="390.42" y="370.93" width="38.72" height="6.96" fill="#2D0D35"/>
<rect x="390.42" y="377.54" width="38.72" height="6.96" fill="#23260F"/>
<rect x="390.42" y="384.15" width="38.72" height="6.96" fill="#4B1758"/>
<rect x="390.42" y="390.76" width="38.72" height="6.96" fill="#434A1E"/>
<rect x="390.42" y="397.38" width="38.72" height="6.96" fill="#23260F"/>
<rect x="390.42" y="403.99" width="38.72" height="6.96" fill="#A144AA"/>
<rect x="390.42" y="410.60" width="38.72" height="6.96" fill="#5F682A"/>
<rect x="390.42" y="417.21" width="38.72" height="6.96" fill="#6F2680"/>
<rect x="390.42" y="423.83" width="38.72" height="6.96" fill="#4B1758"/>
<rect x="390.42" y="430.44" width="38.72" height="6.96" fill="#434A1E"/>
<rect x="390.42" y="437.05" width="38.72" height="6.96" fill="#2D0D35"/>
<rect x="390.42" y="443.66" width="38.72" height="6.96" fill="#434A1E"/>
<rect x="390.42" y="450.28" width="38.72" height="13.58" fill="#4B1758"/>
<rect x="390.42" y="463.50" width="38.72" height="6.97" fill="#434A1E"/>
<rect x="390.42" y="470.12" width="38.72" height="6.97" fill="#B563B4"/>
<rect x="390.42" y="476.75" width="38.72" height="6.97" fill="#0B090B"/>
<rect x="390.42" y="483.38" width="38.72" height="6.97" fill="#5F682A"/>
<rect x="390.42" y="490.00" width="38.72" height="6.97" fill="#A144AA"/>
<rect x="390.42" y="496.62" width="38.72" height="6.97" fill="#0B090B"/>
<rect x="390.42" y="503.25" width="38.72" height="6.97" fill="#4B1758"/>
<rect x="390.42" y="509.88" width="38.72" height="6.97" fill="#2D0D35"/>
<rect x="390.42" y="516.50" width="38.72" height="6.97" fill="#5F682A"/>
<rect x="390.42" y="523.12" width="38.72" height="6.97" fill="#0B090B"/>
<rect x="390.42" y="529.75" width="38.72" height="6.97" fill="#2D0D35"/>
<rect x="390.42" y="536.38" width="38.72" height="6.97" fill="#4B1758"/>
<rect x="390.42" y="543.00" width="38.72" height="6.97" fill="#A144AA"/>
<rect x="390.42" y="549.62" width="38.72" height="6.97" fill="#B4C03C"/>
<rect x="390.42" y="556.25" width="38.72" height="6.97" fill="#2D0D35"/>
<rect x="390.42" y="562.88" width="38.72" height="6.97" fill="#23260F"/>
<rect x="390.42" y="569.50" width="38.72" height="6.97" fill="#4B1758"/>
<rect x="390.42" y="576.12" width="38.72" height="6.97" fill="#8A2D9A"/>
<rect x="390.42" y="582.75" width="38.72" height="6.97" fill="#2D0D35"/>
<rect x="390.42" y="589.38" width="38.72" height="6.97" fill="#A144AA"/>
<rect x="390.42" y="596.00" width="38.72" height="6.97" fill="#434A1E"/>
<rect x="390.42" y="602.62" width="38.72" height="6.97" fill="#0B090B"/>
<rect x="390.42" y="609.25" width="38.72" height="6.97" fill="#B563B4"/>
<rect x="390.42" y="615.88" width="38.72" height="13.57" fill="#A144AA"/>
<rect x="390.42" y="629.09" width="38.72" height="13.53" fill="#2D0D35"/>
<rect x="390.42" y="642.27" width="38.72" height="6.94" fill="#0B090B"/>
<rect x="390.42" y="648.87" width="38.72" height="6.94" fill="#B563B4"/>
<rect x="390.42" y="655.46" width="38.72" height="6.94" fill="#8A2D9A"/>
<rect x="390.42" y="662.05" width="38.72" height="13.53" fill="#2D0D35"/>
<rect x="390.42" y="675.23" width="38.72" height="13.53" fill="#0B090B"/>
<rect x="390.42" y="688.41" width="38.72" height="20.12" fill="#434A1E"/>
<rect x="390.42" y="708.19" width="38.72" height="6.94" fill="#23260F"/>
<rect x="390.42" y="714.78" width="38.72" height="6.94" fill="#4B1758"/>
<rect x="390.42" y="721.37" width="38.72" height="6.94" fill="#B563B4"/>
<rect x="390.42" y="727.96" width="38.72" height="6.94" fill="#0B090B"/>
<rect x="390.42" y="734.55" width="38.72" height="6.94" fill="#5F682A"/>
<rect x="390.42" y="741.14" width="38.72" height="6.94" fill="#6F7932"/>
<rect x="390.42" y="747.73" width="38.72" height="6.94" fill="#434A1E"/>
<rect x="390.42" y="754.33" width="38.72" height="6.94" fill="#6F7932"/>
<rect x="390.42" y="760.92" width="38.72" height="6.94" fill="#0B090B"/>
<rect x="390.42" y="767.51" width="38.72" height="10.94" fill="#929D3A"/>
<rect x="428.73" y="142.20" width="38.72" height="17.57" fill="#6F2680"/>
<rect x="428.73" y="159.42" width="38.72" height="6.96" fill="#4B1758"/>
<rect x="428.73" y="166.03" width="38.72" height="6.96" fill="#2D0D35"/>
<rect x="428.73" y="172.63" width="38.72" height="6.96" fill="#8A2D9A"/>
<rect x="428.73" y="179.24" width="38.72" height="6.96" fill="#4B1758"/>
<rect x="428.73" y="185.85" width="38.72" height="6.96" fill="#2D0D35"/>
<rect x="428.73" y="192.46" width="38.72" height="6.96" fill="#0B090B"/>
<rect x="428.73" y="199.07" width="38.72" height="6.96" fill="#2D0D35"/>
<rect x="428.73" y="205.68" width="38.72" height="6.96" fill="#8A2D9A"/>
<rect x="428.73" y="212.28" width="38.72" height="6.96" fill="#4B1758"/>
<rect x="428.73" y="218.89" width="38.72" height="13.57" fill="#8A2D9A"/>
<rect x="428.73" y="232.11" width="38.72" height="20.18" fill="#6F2680"/>
<rect x="428.73" y="251.93" width="38.72" height="6.96" fill="#4B1758"/>
<rect x="428.73" y="258.54" width="38.72" height="6.96" fill="#434A1E"/>
<rect x="428.73" y="265.15" width="38.72" height="6.96" fill="#2D0D35"/>
<rect x="428.73" y="271.76" width="38.72" height="6.96" fill="#4B1758"/>
<rect x="428.73" y="278.37" width="38.72" height="6.96" fill="#0B090B"/>
<rect x="428.73" y="284.98" width="38.72" height="6.96" fill="#2D0D35"/>
<rect x="428.73" y="291.58" width="38.72" height="6.96" fill="#8A2D9A"/>
<rect x="428.73" y="298.19" width="38.72" height="6.96" fill="#A144AA"/>
<rect x="428.73" y="304.80" width="38.72" height="6.96" fill="#6F2680"/>
<rect x="428.73" y="311.41" width="38.72" height="6.96" fill="#B563B4"/>
<rect x="428.73" y="318.03" width="38.72" height="6.96" fill="#0B090B"/>
<rect x="428.73" y="324.64" width="38.72" height="6.96" fill="#6F2680"/>
<rect x="428.73" y="331.25" width="38.72" height="6.96" fill="#23260F"/>
<rect x="428.73" y="337.86" width="38.72" height="6.96" fill="#929D3A"/>
<rect x="428.73" y="344.48" width="38.72" height="6.96" fill="#434A1E"/>
<rect x="428.73" y="351.09" width="38.72" height="6.96" fill="#23260F"/>
<rect x="428.73" y="357.70" width="38.72" height="13.58" fill="#8A2D9A"/>
<rect x="428.73" y="370.93" width="38.72" height="6.96" fill="#2D0D35"/>
<rect x="428.73" y="377.54" width="38.72" height="6.96" fill="#434A1E"/>
<rect x="428.73" y="384.15" width="38.72" height="6.96" fill="#8A2D9A"/>
<rect x="428.73" y="390.76" width="38.72" height="6.96" fill="#6F2680"/>
<rect x="428.73" y="397.38" width="38.72" height="6.96" fill="#D9E93C"/>
<rect x="428.73" y="403.99" width="38.72" height="6.96" fill="#5F682A"/>
<rect x="428.73" y="410.60" width="38.72" height="6.96" fill="#B4C03C"/>
<rect x="428.73" y="417.21" width="38.72" height="6.96" fill="#6F2680"/>
<rect x="428.73" y="423.83" width="38.72" height="6.96" fill="#0B090B"/>
<rect x="428.73" y="430.44" width="38.72" height="6.96" fill="#B4C03C"/>
<rect x="428.73" y="437.05" width="38.72" height="6.96" fill="#0B090B"/>
<rect x="428.73" y="443.66" width="38.72" height="6.96" fill="#2D0D35"/>
<rect x="428.73" y="450.28" width="38.72" height="6.96" fill="#929D3A"/>
<rect x="428.73" y="456.89" width="38.72" height="6.96" fill="#6F2680"/>
<rect x="428.73" y="463.50" width="38.72" height="6.97" fill="#929D3A"/>
<rect x="428.73" y="470.12" width="38.72" height="6.97" fill="#434A1E"/>
<rect x="428.73" y="476.75" width="38.72" height="6.97" fill="#6F2680"/>
<rect x="428.73" y="483.38" width="38.72" height="6.97" fill="#929D3A"/>
<rect x="428.73" y="490.00" width="38.72" height="6.97" fill="#2D0D35"/>
<rect x="428.73" y="496.62" width="38.72" height="13.60" fill="#0B090B"/>
<rect x="428.73" y="509.88" width="38.72" height="6.97" fill="#434A1E"/>
<rect x="428.73" y="516.50" width="38.72" height="6.97" fill="#A144AA"/>
<rect x="428.73" y="523.12" width="38.72" height="6.97" fill="#2D0D35"/>
<rect x="428.73" y="529.75" width="38.72" height="6.97" fill="#6F7932"/>
<rect x="428.73" y="536.38" width="38.72" height="6.97" fill="#4B1758"/>
<rect x="428.73" y="543.00" width="38.72" height="6.97" fill="#0B090B"/>
<rect x="428.73" y="549.62" width="38.72" height="6.97" fill="#6F2680"/>
<rect x="428.73" y="556.25" width="38.72" height="6.97" fill="#B563B4"/>
<rect x="428.73" y="562.88" width="38.72" height="6.97" fill="#A144AA"/>
<rect x="428.73" y="569.50" width="38.72" height="6.97" fill="#0B090B"/>
<rect x="428.73" y="576.12" width="38.72" height="6.97" fill="#434A1E"/>
<rect x="428.73" y="582.75" width="38.72" height="6.97" fill="#8A2D9A"/>
<rect x="428.73" y="589.38" width="38.72" height="13.60" fill="#929D3A"/>
<rect x="428.73" y="602.62" width="38.72" height="6.97" fill="#5F682A"/>
<rect x="428.73" y="609.25" width="38.72" height="6.97" fill="#2D0D35"/>
<rect x="428.73" y="615.88" width="38.72" height="13.57" fill="#929D3A"/>
<rect x="428.73" y="629.09" width="38.72" height="6.94" fill="#5F682A"/>
<rect x="428.73" y="635.68" width="38.72" height="6.94" fill="#D9E93C"/>
<rect x="428.73" y="642.27" width="38.72" height="6.94" fill="#929D3A"/>
<rect x="428.73" y="648.87" width="38.72" height="6.94" fill="#5F682A"/>
<rect x="428.73" y="655.46" width="38.72" height="6.94" fill="#929D3A"/>
<rect x="428.73" y="662.05" width="38.72" height="6.94" fill="#2D0D35"/>
<rect x="428.73" y="668.64" width="38.72" height="6.94" fill="#D9E93C"/>
<rect x="428.73" y="675.23" width="38.72" height="13.53" fill="#929D3A"/>
<rect x="428.73" y="688.41" width="38.72" height="13.53" fill="#23260F"/>
<rect x="428.73" y="701.60" width="38.72" height="6.94" fill="#6F7932"/>
<rect x="428.73" y="708.19" width="38.72" height="6.94" fill="#0B090B"/>
<rect x="428.73" y="714.78" width="38.72" height="13.53" fill="#B4C03C"/>
<rect x="428.73" y="727.96" width="38.72" height="6.94" fill="#2D0D35"/>
<rect x="428.73" y="734.55" width="38.72" height="6.94" fill="#929D3A"/>
<rect x="428.73" y="741.14" width="38.72" height="6.94" fill="#6F7932"/>
<rect x="428.73" y="747.73" width="38.72" height="6.94" fill="#A144AA"/>
<rect x="428.73" y="754.33" width="38.72" height="6.94" fill="#4B1758"/>
<rect x="428.73" y="760.92" width="38.72" height="6.94" fill="#929D3A"/>
<rect x="428.73" y="767.51" width="38.72" height="10.94" fill="#A144AA"/>
<rect x="467.05" y="142.20" width="38.72" height="10.96" fill="#B4C03C"/>
<rect x="467.05" y="152.81" width="38.72" height="13.57" fill="#6F7932"/>
<rect x="467.05" y="166.03" width="38.72" height="6.96" fill="#5F682A"/>
<rect x="467.05" y="172.63" width="38.72" height="20.18" fill="#6F7932"/>
<rect x="467.05" y="192.46" width="38.72" height="6.96" fill="#434A1E"/>
<rect x="467.05" y="199.07" width="38.72" height="13.57" fill="#929D3A"/>
<rect x="467.05" y="212.28" width="38.72" height="6.96" fill="#6F7932"/>
<rect x="467.05" y="218.89" width="38.72" height="6.96" fill="#5F682A"/>
<rect x="467.05" y="225.50" width="38.72" height="6.96" fill="#434A1E"/>
<rect x="467.05" y="232.11" width="38.72" height="6.96" fill="#D9E93C"/>
<rect x="467.05" y="238.72" width="38.72" height="13.57" fill="#434A1E"/>
<rect x="467.05" y="251.93" width="38.72" height="6.96" fill="#0B090B"/>
<rect x="467.05" y="258.54" width="38.72" height="6.96" fill="#434A1E"/>
<rect x="467.05" y="265.15" width="38.72" height="6.96" fill="#6F7932"/>
<rect x="467.05" y="271.76" width="38.72" height="6.96" fill="#929D3A"/>
<rect x="467.05" y="278.37" width="38.72" height="6.96" fill="#5F682A"/>
<rect x="467.05" y="284.98" width="38.72" height="6.96" fill="#434A1E"/>
<rect x="467.05" y="291.58" width="38.72" height="6.96" fill="#5F682A"/>
<rect x="467.05" y="298.19" width="38.72" height="6.96" fill="#6F7932"/>
<rect x="467.05" y="304.80" width="38.72" height="6.96" fill="#23260F"/>
<rect x="467.05" y="311.41" width="38.72" height="6.96" fill="#5F682A"/>
<rect x="467.05" y="318.03" width="38.72" height="6.96" fill="#23260F"/>
<rect x="467.05" y="324.64" width="38.72" height="6.96" fill="#2D0D35"/>
<rect x="467.05" y="331.25" width="38.72" height="6.96" fill="#0B090B"/>
<rect x="467.05" y="337.86" width="38.72" height="6.96" fill="#A144AA"/>
<rect x="467.05" y="344.48" width="38.72" height="6.96" fill="#0B090B"/>
<rect x="467.05" y="351.09" width="38.72" height="6.96" fill="#23260F"/>
<rect x="467.05" y="357.70" width="38.72" height="13.58" fill="#B4C03C"/>
<rect x="467.05" y="370.93" width="38.72" height="6.96" fill="#2D0D35"/>
<rect x="467.05" y="377.54" width="38.72" height="6.96" fill="#A144AA"/>
<rect x="467.05" y="384.15" width="38.72" height="6.96" fill="#434A1E"/>
<rect x="467.05" y="390.76" width="38.72" height="6.96" fill="#5F682A"/>
<rect x="467.05" y="397.38" width="38.72" height="6.96" fill="#2D0D35"/>
<rect x="467.05" y="403.99" width="38.72" height="6.96" fill="#6F7932"/>
<rect x="467.05" y="410.60" width="38.72" height="6.96" fill="#6F2680"/>
<rect x="467.05" y="417.21" width="38.72" height="6.96" fill="#6F7932"/>
<rect x="467.05" y="423.83" width="38.72" height="6.96" fill="#434A1E"/>
<rect x="467.05" y="430.44" width="38.72" height="6.96" fill="#4B1758"/>
<rect x="467.05" y="437.05" width="38.72" height="6.96" fill="#929D3A"/>
<rect x="467.05" y="443.66" width="38.72" height="6.96" fill="#2D0D35"/>
<rect x="467.05" y="450.28" width="38.72" height="6.96" fill="#5F682A"/>
<rect x="467.05" y="456.89" width="38.72" height="6.96" fill="#929D3A"/>
<rect x="467.05" y="463.50" width="38.72" height="6.97" fill="#B563B4"/>
<rect x="467.05" y="470.12" width="38.72" height="6.97" fill="#434A1E"/>
<rect x="467.05" y="476.75" width="38.72" height="6.97" fill="#23260F"/>
<rect x="467.05" y="483.38" width="38.72" height="6.97" fill="#0B090B"/>
<rect x="467.05" y="490.00" width="38.72" height="6.97" fill="#23260F"/>
<rect x="467.05" y="496.62" width="38.72" height="6.97" fill="#4B1758"/>
<rect x="467.05" y="503.25" width="38.72" height="20.23" fill="#2D0D35"/>
<rect x="467.05" y="523.12" width="38.72" height="6.97" fill="#434A1E"/>
<rect x="467.05" y="529.75" width="38.72" height="6.97" fill="#0B090B"/>
<rect x="467.05" y="536.38" width="38.72" height="6.97" fill="#D9E93C"/>
<rect x="467.05" y="543.00" width="38.72" height="6.97" fill="#5F682A"/>
<rect x="467.05" y="549.62" width="38.72" height="6.97" fill="#2D0D35"/>
<rect x="467.05" y="556.25" width="38.72" height="6.97" fill="#0B090B"/>
<rect x="467.05" y="562.88" width="38.72" height="6.97" fill="#6F2680"/>
<rect x="467.05" y="569.50" width="38.72" height="6.97" fill="#6F7932"/>
<rect x="467.05" y="576.12" width="38.72" height="6.97" fill="#2D0D35"/>
<rect x="467.05" y="582.75" width="38.72" height="6.97" fill="#B4C03C"/>
<rect x="467.05" y="589.38" width="38.72" height="13.60" fill="#2D0D35"/>
<rect x="467.05" y="602.62" width="38.72" height="13.60" fill="#0B090B"/>
<rect x="467.05" y="615.88" width="38.72" height="6.97" fill="#A144AA"/>
<rect x="467.05" y="622.50" width="38.72" height="6.94" fill="#0B090B"/>
<rect x="467.05" y="629.09" width="38.72" height="13.53" fill="#2D0D35"/>
<rect x="467.05" y="642.27" width="38.72" height="6.94" fill="#5F682A"/>
<rect x="467.05" y="648.87" width="38.72" height="6.94" fill="#6F2680"/>
<rect x="467.05" y="655.46" width="38.72" height="6.94" fill="#929D3A"/>
<rect x="467.05" y="662.05" width="38.72" height="6.94" fill="#D9E93C"/>
<rect x="467.05" y="668.64" width="38.72" height="6.94" fill="#4B1758"/>
<rect x="467.05" y="675.23" width="38.72" height="6.94" fill="#A144AA"/>
<rect x="467.05" y="681.82" width="38.72" height="6.94" fill="#0B090B"/>
<rect x="467.05" y="688.41" width="38.72" height="6.94" fill="#8A2D9A"/>
<rect x="467.05" y="695.00" width="38.72" height="6.94" fill="#B563B4"/>
<rect x="467.05" y="701.60" width="38.72" height="6.94" fill="#8A2D9A"/>
<rect x="467.05" y="708.19" width="38.72" height="6.94" fill="#6F2680"/>
<rect x="467.05" y="714.78" width="38.72" height="6.94" fill="#6F7932"/>
<rect x="467.05" y="721.37" width="38.72" height="6.94" fill="#2D0D35"/>
<rect x="467.05" y="727.96" width="38.72" height="6.94" fill="#A144AA"/>
<rect x="467.05" y="734.55" width="38.72" height="6.94" fill="#23260F"/>
<rect x="467.05" y="741.14" width="38.72" height="6.94" fill="#2D0D35"/>
<rect x="467.05" y="747.73" width="38.72" height="6.94" fill="#5F682A"/>
<rect x="467.05" y="754.33" width="38.72" height="6.94" fill="#6F2680"/>
<rect x="467.05" y="760.92" width="38.72" height="6.94" fill="#929D3A"/>
<rect x="467.05" y="767.51" width="38.72" height="10.94" fill="#4B1758"/>
<rect x="505.37" y="142.20" width="38.72" height="10.96" fill="#6F7932"/>
<rect x="505.37" y="152.81" width="38.72" height="6.96" fill="#929D3A"/>
<rect x="505.37" y="159.42" width="38.72" height="6.96" fill="#434A1E"/>
<rect x="505.37" y="166.03" width="38.72" height="6.96" fill="#929D3A"/>
<rect x="505.37" y="172.63" width="38.72" height="13.57" fill="#6F7932"/>
<rect x="505.37" y="185.85" width="38.72" height="6.96" fill="#929D3A"/>
<rect x="505.37" y="192.46" width="38.72" height="6.96" fill="#6F7932"/>
<rect x="505.37" y="199.07" width="38.72" height="6.96" fill="#23260F"/>
<rect x="505.37" y="205.68" width="38.72" height="13.57" fill="#434A1E"/>
<rect x="505.37" y="218.89" width="38.72" height="6.96" fill="#929D3A"/>
<rect x="505.37" y="225.50" width="38.72" height="6.96" fill="#5F682A"/>
<rect x="505.37" y="232.11" width="38.72" height="6.96" fill="#434A1E"/>
<rect x="505.37" y="238.72" width="38.72" height="6.96" fill="#23260F"/>
<rect x="505.37" y="245.33" width="38.72" height="6.96" fill="#929D3A"/>
<rect x="505.37" y="251.93" width="38.72" height="13.57" fill="#6F7932"/>
<rect x="505.37" y="265.15" width="38.72" height="6.96" fill="#5F682A"/>
<rect x="505.37" y="271.76" width="38.72" height="13.57" fill="#434A1E"/>
<rect x="505.37" y="284.98" width="38.72" height="6.96" fill="#2D0D35"/>
<rect x="505.37" y="291.58" width="38.72" height="6.96" fill="#B4C03C"/>
<rect x="505.37" y="298.19" width="38.72" height="6.96" fill="#0B090B"/>
<rect x="505.37" y="304.80" width="38.72" height="6.96" fill="#B4C03C"/>
<rect x="505.37" y="311.41" width="38.72" height="6.96" fill="#5F682A"/>
<rect x="505.37" y="318.03" width="38.72" height="6.96" fill="#4B1758"/>
<rect x="505.37" y="324.64" width="38.72" height="6.96" fill="#0B090B"/>
<rect x="505.37" y="331.25" width="38.72" height="6.96" fill="#6F7932"/>
<rect x="505.37" y="337.86" width="38.72" height="6.96" fill="#8A2D9A"/>
<rect x="505.37" y="344.48" width="38.72" height="6.96" fill="#5F682A"/>
<rect x="505.37" y="351.09" width="38.72" height="6.96" fill="#6F7932"/>
<rect x="505.37" y="357.70" width="38.72" height="13.58" fill="#0B090B"/>
<rect x="505.37" y="370.93" width="38.72" height="6.96" fill="#D9E93C"/>
<rect x="505.37" y="377.54" width="38.72" height="6.96" fill="#A144AA"/>
<rect x="505.37" y="384.15" width="38.72" height="6.96" fill="#2D0D35"/>
<rect x="505.37" y="390.76" width="38.72" height="6.96" fill="#6F7932"/>
<rect x="505.37" y="397.38" width="38.72" height="6.96" fill="#2D0D35"/>
<rect x="505.37" y="403.99" width="38.72" height="6.96" fill="#6F2680"/>
<rect x="505.37" y="410.60" width="38.72" height="6.96" fill="#0B090B"/>
<rect x="505.37" y="417.21" width="38.72" height="6.96" fill="#6F2680"/>
<rect x="505.37" y="423.83" width="38.72" height="6.96" fill="#D9E93C"/>
<rect x="505.37" y="430.44" width="38.72" height="13.58" fill="#8A2D9A"/>
<rect x="505.37" y="443.66" width="38.72" height="6.96" fill="#4B1758"/>
<rect x="505.37" y="450.28" width="38.72" height="6.96" fill="#0B090B"/>
<rect x="505.37" y="456.89" width="38.72" height="6.96" fill="#6F2680"/>
<rect x="505.37" y="463.50" width="38.72" height="6.97" fill="#2D0D35"/>
<rect x="505.37" y="470.12" width="38.72" height="6.97" fill="#6F7932"/>
<rect x="505.37" y="476.75" width="38.72" height="6.97" fill="#0B090B"/>
<rect x="505.37" y="483.38" width="38.72" height="6.97" fill="#B563B4"/>
<rect x="505.37" y="490.00" width="38.72" height="6.97" fill="#D9E93C"/>
<rect x="505.37" y="496.62" width="38.72" height="6.97" fill="#0B090B"/>
<rect x="505.37" y="503.25" width="38.72" height="6.97" fill="#6F7932"/>
<rect x="505.37" y="509.88" width="38.72" height="6.97" fill="#A144AA"/>
<rect x="505.37" y="516.50" width="38.72" height="6.97" fill="#2D0D35"/>
<rect x="505.37" y="523.12" width="38.72" height="13.60" fill="#0B090B"/>
<rect x="505.37" y="536.38" width="38.72" height="6.97" fill="#4B1758"/>
<rect x="505.37" y="543.00" width="38.72" height="6.97" fill="#929D3A"/>
<rect x="505.37" y="549.62" width="38.72" height="6.97" fill="#4B1758"/>
<rect x="505.37" y="556.25" width="38.72" height="6.97" fill="#2D0D35"/>
<rect x="505.37" y="562.88" width="38.72" height="6.97" fill="#23260F"/>
<rect x="505.37" y="569.50" width="38.72" height="6.97" fill="#8A2D9A"/>
<rect x="505.37" y="576.12" width="38.72" height="6.97" fill="#6F2680"/>
<rect x="505.37" y="582.75" width="38.72" height="6.97" fill="#5F682A"/>
<rect x="505.37" y="589.38" width="38.72" height="6.97" fill="#434A1E"/>
<rect x="505.37" y="596.00" width="38.72" height="6.97" fill="#23260F"/>
<rect x="505.37" y="602.62" width="38.72" height="6.97" fill="#B563B4"/>
<rect x="505.37" y="609.25" width="38.72" height="13.60" fill="#0B090B"/>
<rect x="505.37" y="622.50" width="38.72" height="6.94" fill="#6F7932"/>
<rect x="505.37" y="629.09" width="38.72" height="6.94" fill="#8A2D9A"/>
<rect x="505.37" y="635.68" width="38.72" height="6.94" fill="#2D0D35"/>
<rect x="505.37" y="642.27" width="38.72" height="6.94" fill="#A144AA"/>
<rect x="505.37" y="648.87" width="38.72" height="13.53" fill="#0B090B"/>
<rect x="505.37" y="662.05" width="38.72" height="6.94" fill="#2D0D35"/>
<rect x="505.37" y="668.64" width="38.72" height="6.94" fill="#434A1E"/>
<rect x="505.37" y="675.23" width="38.72" height="6.94" fill="#8A2D9A"/>
<rect x="505.37" y="681.82" width="38.72" height="6.94" fill="#A144AA"/>
<rect x="505.37" y="688.41" width="38.72" height="6.94" fill="#8A2D9A"/>
<rect x="505.37" y="695.00" width="38.72" height="13.53" fill="#6F7932"/>
<rect x="505.37" y="708.19" width="38.72" height="6.94" fill="#6F2680"/>
<rect x="505.37" y="714.78" width="38.72" height="6.94" fill="#4B1758"/>
<rect x="505.37" y="721.37" width="38.72" height="6.94" fill="#0B090B"/>
<rect x="505.37" y="727.96" width="38.72" height="6.94" fill="#6F2680"/>
<rect x="505.37" y="734.55" width="38.72" height="13.53" fill="#2D0D35"/>
<rect x="505.37" y="747.73" width="38.72" height="6.94" fill="#A144AA"/>
<rect x="505.37" y="754.33" width="38.72" height="6.94" fill="#8A2D9A"/>
<rect x="505.37" y="760.92" width="38.72" height="6.94" fill="#0B090B"/>
<rect x="505.37" y="767.51" width="38.72" height="10.94" fill="#6F2680"/>
<rect x="543.68" y="142.20" width="38.32" height="10.96" fill="#0B090B"/>
<rect x="543.68" y="152.81" width="38.32" height="6.96" fill="#23260F"/>
<rect x="543.68" y="159.42" width="38.32" height="6.96" fill="#929D3A"/>
<rect x="543.68" y="166.03" width="38.32" height="6.96" fill="#5F682A"/>
<rect x="543.68" y="172.63" width="38.32" height="13.57" fill="#6F7932"/>
<rect x="543.68" y="185.85" width="38.32" height="6.96" fill="#5F682A"/>
<rect x="543.68" y="192.46" width="38.32" height="26.78" fill="#6F7932"/>
<rect x="543.68" y="218.89" width="38.32" height="6.96" fill="#23260F"/>
<rect x="543.68" y="225.50" width="38.32" height="6.96" fill="#929D3A"/>
<rect x="543.68" y="232.11" width="38.32" height="6.96" fill="#0B090B"/>
<rect x="543.68" y="238.72" width="38.32" height="6.96" fill="#B4C03C"/>
<rect x="543.68" y="245.33" width="38.32" height="6.96" fill="#5F682A"/>
<rect x="543.68" y="251.93" width="38.32" height="6.96" fill="#B4C03C"/>
<rect x="543.68" y="258.54" width="38.32" height="6.96" fill="#23260F"/>
<rect x="543.68" y="265.15" width="38.32" height="6.96" fill="#5F682A"/>
<rect x="543.68" y="271.76" width="38.32" height="6.96" fill="#6F7932"/>
<rect x="543.68" y="278.37" width="38.32" height="6.96" fill="#929D3A"/>
<rect x="543.68" y="284.98" width="38.32" height="6.96" fill="#D9E93C"/>
<rect x="543.68" y="291.58" width="38.32" height="6.96" fill="#0B090B"/>
<rect x="543.68" y="298.19" width="38.32" height="6.96" fill="#6F7932"/>
<rect x="543.68" y="304.80" width="38.32" height="6.96" fill="#23260F"/>
<rect x="543.68" y="311.41" width="38.32" height="6.96" fill="#5F682A"/>
<rect x="543.68" y="318.03" width="38.32" height="13.58" fill="#D9E93C"/>
<rect x="543.68" y="331.25" width="38.32" height="6.96" fill="#5F682A"/>
<rect x="543.68" y="337.86" width="38.32" height="6.96" fill="#434A1E"/>
<rect x="543.68" y="344.48" width="38.32" height="13.58" fill="#5F682A"/>
<rect x="543.68" y="357.70" width="38.32" height="6.96" fill="#434A1E"/>
<rect x="543.68" y="364.31" width="38.32" height="6.96" fill="#23260F"/>
<rect x="543.68" y="370.93" width="38.32" height="6.96" fill="#0B090B"/>
<rect x="543.68" y="377.54" width="38.32" height="6.96" fill="#23260F"/>
<rect x="543.68" y="384.15" width="38.32" height="6.96" fill="#D9E93C"/>
<rect x="543.68" y="390.76" width="38.32" height="6.96" fill="#2D0D35"/>
<rect x="543.68" y="397.38" width="38.32" height="6.96" fill="#8A2D9A"/>
<rect x="543.68" y="403.99" width="38.32" height="6.96" fill="#6F7932"/>
<rect x="543.68" y="410.60" width="38.32" height="6.96" fill="#0B090B"/>
<rect x="543.68" y="417.21" width="38.32" height="6.96" fill="#B4C03C"/>
<rect x="543.68" y="423.83" width="38.32" height="6.96" fill="#8A2D9A"/>
<rect x="543.68" y="430.44" width="38.32" height="6.96" fill="#23260F"/>
<rect x="543.68" y="437.05" width="38.32" height="6.96" fill="#6F7932"/>
<rect x="543.68" y="443.66" width="38.32" height="6.96" fill="#D9E93C"/>
<rect x="543.68" y="450.28" width="38.32" height="6.96" fill="#0B090B"/>
<rect x="543.68" y="456.89" width="38.32" height="6.96" fill="#929D3A"/>
<rect x="543.68" y="463.50" width="38.32" height="6.97" fill="#23260F"/>
<rect x="543.68" y="470.12" width="38.32" height="6.97" fill="#434A1E"/>
<rect x="543.68" y="476.75" width="38.32" height="6.97" fill="#D9E93C"/>
<rect x="543.68" y="483.38" width="38.32" height="6.97" fill="#0B090B"/>
<rect x="543.68" y="490.00" width="38.32" height="6.97" fill="#2D0D35"/>
<rect x="543.68" y="496.62" width="38.32" height="6.97" fill="#A144AA"/>
<rect x="543.68" y="503.25" width="38.32" height="6.97" fill="#929D3A"/>
<rect x="543.68" y="509.88" width="38.32" height="6.97" fill="#6F2680"/>
<rect x="543.68" y="516.50" width="38.32" height="13.60" fill="#B4C03C"/>
<rect x="543.68" y="529.75" width="38.32" height="6.97" fill="#929D3A"/>
<rect x="543.68" y="536.38" width="38.32" height="6.97" fill="#434A1E"/>
<rect x="543.68" y="543.00" width="38.32" height="6.97" fill="#A144AA"/>
<rect x="543.68" y="549.62" width="38.32" height="6.97" fill="#8A2D9A"/>
<rect x="543.68" y="556.25" width="38.32" height="6.97" fill="#6F7932"/>
<rect x="543.68" y="562.88" width="38.32" height="6.97" fill="#D9E93C"/>
<rect x="543.68" y="569.50" width="38.32" height="6.97" fill="#929D3A"/>
<rect x="543.68" y="576.12" width="38.32" height="6.97" fill="#D9E93C"/>
<rect x="543.68" y="582.75" width="38.32" height="6.97" fill="#8A2D9A"/>
<rect x="543.68" y="589.38" width="38.32" height="6.97" fill="#5F682A"/>
<rect x="543.68" y="596.00" width="38.32" height="6.97" fill="#B563B4"/>
<rect x="543.68" y="602.62" width="38.32" height="13.60" fill="#5F682A"/>
<rect x="543.68" y="615.88" width="38.32" height="6.97" fill="#434A1E"/>
<rect x="543.68" y="622.50" width="38.32" height="6.94" fill="#8A2D9A"/>
<rect x="543.68" y="629.09" width="38.32" height="6.94" fill="#B4C03C"/>
<rect x="543.68" y="635.68" width="38.32" height="6.94" fill="#2D0D35"/>
<rect x="543.68" y="642.27" width="38.32" height="6.94" fill="#6F2680"/>
<rect x="543.68" y="648.87" width="38.32" height="6.94" fill="#5F682A"/>
<rect x="543.68" y="655.46" width="38.32" height="6.94" fill="#A144AA"/>
<rect x="543.68" y="662.05" width="38.32" height="6.94" fill="#2D0D35"/>
<rect x="543.68" y="668.64" width="38.32" height="6.94" fill="#8A2D9A"/>
<rect x="543.68" y="675.23" width="38.32" height="6.94" fill="#5F682A"/>
<rect x="543.68" y="681.82" width="38.32" height="6.94" fill="#6F7932"/>
<rect x="543.68" y="688.41" width="38.32" height="6.94" fill="#B4C03C"/>
<rect x="543.68" y="695.00" width="38.32" height="6.94" fill="#434A1E"/>
<rect x="543.68" y="701.60" width="38.32" height="6.94" fill="#0B090B"/>
<rect x="543.68" y="708.19" width="38.32" height="6.94" fill="#D9E93C"/>
<rect x="543.68" y="714.78" width="38.32" height="6.94" fill="#4B1758"/>
<rect x="543.68" y="721.37" width="38.32" height="6.94" fill="#0B090B"/>
<rect x="543.68" y="727.96" width="38.32" height="6.94" fill="#B4C03C"/>
<rect x="543.68" y="734.55" width="38.32" height="6.94" fill="#4B1758"/>
<rect x="543.68" y="741.14" width="38.32" height="6.94" fill="#434A1E"/>
<rect x="543.68" y="747.73" width="38.32" height="6.94" fill="#5F682A"/>
<rect x="543.68" y="754.33" width="38.32" height="6.94" fill="#B4C03C"/>
<rect x="543.68" y="760.92" width="38.32" height="6.94" fill="#B563B4"/>
<rect x="543.68" y="767.51" width="38.32" height="10.94" fill="#434A1E"/>
</g></g>
</g>
<g id="heat-b1">
<rect x="96.8" y="937.7" width="114.85" height="12.60" fill="#E96D6E"/>
<rect x="211.65" y="937.7" width="114.85" height="12.60" fill="#5FCDC3"/>
<clipPath id="clip-heat-b1"><rect x="96.8" y="960.0" width="229.70" height="634.90"/></clipPath>
<g clip-path="url(#clip-heat-b1)"><g filter="url(#soft)">
<rect x="96.8" y="956.0" width="229.70" height="642.90" fill="#2a1a2c"/>
<rect x="96.80" y="956.00" width="38.68" height="10.29" fill="#6F2680"/>
<rect x="96.80" y="965.94" width="38.68" height="6.29" fill="#A144AA"/>
<rect x="96.80" y="971.89" width="38.68" height="3.32" fill="#2D0D35"/>
<rect x="96.80" y="974.86" width="38.68" height="6.29" fill="#6F2680"/>
<rect x="96.80" y="980.80" width="38.68" height="3.32" fill="#4B1758"/>
<rect x="96.80" y="983.77" width="38.68" height="3.32" fill="#A144AA"/>
<rect x="96.80" y="986.74" width="38.68" height="6.29" fill="#8A2D9A"/>
<rect x="96.80" y="992.69" width="38.68" height="3.32" fill="#A144AA"/>
<rect x="96.80" y="995.66" width="38.68" height="6.29" fill="#2D0D35"/>
<rect x="96.80" y="1001.60" width="38.68" height="9.26" fill="#6F2680"/>
<rect x="96.80" y="1010.51" width="38.68" height="9.26" fill="#A144AA"/>
<rect x="96.80" y="1019.43" width="38.68" height="6.29" fill="#6F2680"/>
<rect x="96.80" y="1025.37" width="38.68" height="3.32" fill="#4B1758"/>
<rect x="96.80" y="1028.34" width="38.68" height="6.29" fill="#6F2680"/>
<rect x="96.80" y="1034.29" width="38.68" height="3.32" fill="#0B090B"/>
<rect x="96.80" y="1037.26" width="38.68" height="6.29" fill="#A144AA"/>
<rect x="96.80" y="1043.20" width="38.68" height="3.32" fill="#6F2680"/>
<rect x="96.80" y="1046.17" width="38.68" height="3.32" fill="#2D0D35"/>
<rect x="96.80" y="1049.14" width="38.68" height="9.26" fill="#A144AA"/>
<rect x="96.80" y="1058.06" width="38.68" height="3.32" fill="#6F2680"/>
<rect x="96.80" y="1061.03" width="38.68" height="6.35" fill="#A144AA"/>
<rect x="96.80" y="1067.03" width="38.68" height="3.38" fill="#6F2680"/>
<rect x="96.80" y="1070.06" width="38.68" height="3.38" fill="#8A2D9A"/>
<rect x="96.80" y="1073.09" width="38.68" height="9.44" fill="#A144AA"/>
<rect x="96.80" y="1082.17" width="38.68" height="3.38" fill="#8A2D9A"/>
<rect x="96.80" y="1085.20" width="38.68" height="6.41" fill="#2D0D35"/>
<rect x="96.80" y="1091.26" width="38.68" height="3.38" fill="#A144AA"/>
<rect x="96.80" y="1094.29" width="38.68" height="3.38" fill="#6F2680"/>
<rect x="96.80" y="1097.31" width="38.68" height="9.44" fill="#B563B4"/>
<rect x="96.80" y="1106.40" width="38.68" height="3.38" fill="#A144AA"/>
<rect x="96.80" y="1109.43" width="38.68" height="3.38" fill="#8A2D9A"/>
<rect x="96.80" y="1112.46" width="38.68" height="6.41" fill="#A144AA"/>
<rect x="96.80" y="1118.51" width="38.68" height="3.38" fill="#6F2680"/>
<rect x="96.80" y="1121.54" width="38.68" height="3.38" fill="#5F682A"/>
<rect x="96.80" y="1124.57" width="38.68" height="3.38" fill="#6F2680"/>
<rect x="96.80" y="1127.60" width="38.68" height="3.38" fill="#0B090B"/>
<rect x="96.80" y="1130.63" width="38.68" height="6.41" fill="#A144AA"/>
<rect x="96.80" y="1136.69" width="38.68" height="3.38" fill="#B4C03C"/>
<rect x="96.80" y="1139.71" width="38.68" height="3.38" fill="#A144AA"/>
<rect x="96.80" y="1142.74" width="38.68" height="3.38" fill="#0B090B"/>
<rect x="96.80" y="1145.77" width="38.68" height="6.41" fill="#8A2D9A"/>
<rect x="96.80" y="1151.83" width="38.68" height="3.38" fill="#A144AA"/>
<rect x="96.80" y="1154.86" width="38.68" height="6.41" fill="#8A2D9A"/>
<rect x="96.80" y="1160.91" width="38.68" height="3.38" fill="#5F682A"/>
<rect x="96.80" y="1163.94" width="38.68" height="3.38" fill="#0B090B"/>
<rect x="96.80" y="1166.97" width="38.68" height="3.38" fill="#A144AA"/>
<rect x="96.80" y="1170.00" width="38.68" height="1.84" fill="#6F2680"/>
<rect x="96.80" y="1171.49" width="38.68" height="3.34" fill="#B563B4"/>
<rect x="96.80" y="1174.48" width="38.68" height="3.34" fill="#8A2D9A"/>
<rect x="96.80" y="1177.46" width="38.68" height="3.34" fill="#23260F"/>
<rect x="96.80" y="1180.45" width="38.68" height="3.34" fill="#2D0D35"/>
<rect x="96.80" y="1183.44" width="38.68" height="6.32" fill="#8A2D9A"/>
<rect x="96.80" y="1189.41" width="38.68" height="3.34" fill="#A144AA"/>
<rect x="96.80" y="1192.39" width="38.68" height="3.34" fill="#929D3A"/>
<rect x="96.80" y="1195.38" width="38.68" height="3.34" fill="#6F7932"/>
<rect x="96.80" y="1198.37" width="38.68" height="3.34" fill="#B563B4"/>
<rect x="96.80" y="1201.35" width="38.68" height="6.32" fill="#23260F"/>
<rect x="96.80" y="1207.32" width="38.68" height="6.32" fill="#4B1758"/>
<rect x="96.80" y="1213.30" width="38.68" height="3.34" fill="#A144AA"/>
<rect x="96.80" y="1216.28" width="38.68" height="3.34" fill="#B563B4"/>
<rect x="96.80" y="1219.27" width="38.68" height="3.34" fill="#6F7932"/>
<rect x="96.80" y="1222.25" width="38.68" height="6.32" fill="#B563B4"/>
<rect x="96.80" y="1228.23" width="38.68" height="6.32" fill="#2D0D35"/>
<rect x="96.80" y="1234.20" width="38.68" height="3.34" fill="#929D3A"/>
<rect x="96.80" y="1237.18" width="38.68" height="3.34" fill="#2D0D35"/>
<rect x="96.80" y="1240.17" width="38.68" height="3.34" fill="#8A2D9A"/>
<rect x="96.80" y="1243.15" width="38.68" height="3.34" fill="#D9E93C"/>
<rect x="96.80" y="1246.14" width="38.68" height="3.34" fill="#B4C03C"/>
<rect x="96.80" y="1249.13" width="38.68" height="3.34" fill="#434A1E"/>
<rect x="96.80" y="1252.11" width="38.68" height="3.34" fill="#2D0D35"/>
<rect x="96.80" y="1255.10" width="38.68" height="3.34" fill="#5F682A"/>
<rect x="96.80" y="1258.08" width="38.68" height="3.34" fill="#0B090B"/>
<rect x="96.80" y="1261.07" width="38.68" height="3.34" fill="#A144AA"/>
<rect x="96.80" y="1264.06" width="38.68" height="3.34" fill="#4B1758"/>
<rect x="96.80" y="1267.04" width="38.68" height="3.34" fill="#A144AA"/>
<rect x="96.80" y="1270.03" width="38.68" height="6.32" fill="#4B1758"/>
<rect x="96.80" y="1276.00" width="38.68" height="3.38" fill="#434A1E"/>
<rect x="96.80" y="1279.03" width="38.68" height="3.38" fill="#8A2D9A"/>
<rect x="96.80" y="1282.06" width="38.68" height="6.41" fill="#A144AA"/>
<rect x="96.80" y="1288.11" width="38.68" height="3.38" fill="#23260F"/>
<rect x="96.80" y="1291.14" width="38.68" height="3.38" fill="#0B090B"/>
<rect x="96.80" y="1294.17" width="38.68" height="3.38" fill="#929D3A"/>
<rect x="96.80" y="1297.20" width="38.68" height="3.38" fill="#434A1E"/>
<rect x="96.80" y="1300.23" width="38.68" height="6.41" fill="#4B1758"/>
<rect x="96.80" y="1306.29" width="38.68" height="3.38" fill="#A144AA"/>
<rect x="96.80" y="1309.31" width="38.68" height="6.41" fill="#23260F"/>
<rect x="96.80" y="1315.37" width="38.68" height="3.38" fill="#4B1758"/>
<rect x="96.80" y="1318.40" width="38.68" height="3.38" fill="#434A1E"/>
<rect x="96.80" y="1321.43" width="38.68" height="3.38" fill="#6F2680"/>
<rect x="96.80" y="1324.46" width="38.68" height="3.38" fill="#23260F"/>
<rect x="96.80" y="1327.49" width="38.68" height="3.38" fill="#0B090B"/>
<rect x="96.80" y="1330.51" width="38.68" height="3.38" fill="#929D3A"/>
<rect x="96.80" y="1333.54" width="38.68" height="3.38" fill="#6F7932"/>
<rect x="96.80" y="1336.57" width="38.68" height="3.38" fill="#2D0D35"/>
<rect x="96.80" y="1339.60" width="38.68" height="6.41" fill="#A144AA"/>
<rect x="96.80" y="1345.66" width="38.68" height="3.38" fill="#0B090B"/>
<rect x="96.80" y="1348.69" width="38.68" height="3.38" fill="#4B1758"/>
<rect x="96.80" y="1351.71" width="38.68" height="3.38" fill="#8A2D9A"/>
<rect x="96.80" y="1354.74" width="38.68" height="3.38" fill="#6F2680"/>
<rect x="96.80" y="1357.77" width="38.68" height="3.38" fill="#0B090B"/>
<rect x="96.80" y="1360.80" width="38.68" height="3.38" fill="#6F2680"/>
<rect x="96.80" y="1363.83" width="38.68" height="3.38" fill="#929D3A"/>
<rect x="96.80" y="1366.86" width="38.68" height="3.38" fill="#0B090B"/>
<rect x="96.80" y="1369.89" width="38.68" height="3.38" fill="#434A1E"/>
<rect x="96.80" y="1372.91" width="38.68" height="3.38" fill="#8A2D9A"/>
<rect x="96.80" y="1375.94" width="38.68" height="3.38" fill="#A144AA"/>
<rect x="96.80" y="1378.97" width="38.68" height="3.38" fill="#6F2680"/>
<rect x="96.80" y="1382.00" width="38.68" height="1.84" fill="#4B1758"/>
<rect x="96.80" y="1383.49" width="38.68" height="3.34" fill="#5F682A"/>
<rect x="96.80" y="1386.48" width="38.68" height="3.34" fill="#4B1758"/>
<rect x="96.80" y="1389.46" width="38.68" height="6.32" fill="#2D0D35"/>
<rect x="96.80" y="1395.44" width="38.68" height="3.34" fill="#B4C03C"/>
<rect x="96.80" y="1398.42" width="38.68" height="3.34" fill="#5F682A"/>
<rect x="96.80" y="1401.41" width="38.68" height="3.34" fill="#0B090B"/>
<rect x="96.80" y="1404.39" width="38.68" height="3.34" fill="#434A1E"/>
<rect x="96.80" y="1407.38" width="38.68" height="3.34" fill="#A144AA"/>
<rect x="96.80" y="1410.37" width="38.68" height="3.34" fill="#2D0D35"/>
<rect x="96.80" y="1413.35" width="38.68" height="3.34" fill="#6F2680"/>
<rect x="96.80" y="1416.34" width="38.68" height="6.32" fill="#2D0D35"/>
<rect x="96.80" y="1422.31" width="38.68" height="3.34" fill="#8A2D9A"/>
<rect x="96.80" y="1425.30" width="38.68" height="3.34" fill="#4B1758"/>
<rect x="96.80" y="1428.28" width="38.68" height="3.34" fill="#5F682A"/>
<rect x="96.80" y="1431.27" width="38.68" height="3.34" fill="#A144AA"/>
<rect x="96.80" y="1434.25" width="38.68" height="3.34" fill="#434A1E"/>
<rect x="96.80" y="1437.24" width="38.68" height="3.34" fill="#0B090B"/>
<rect x="96.80" y="1440.23" width="38.68" height="6.32" fill="#929D3A"/>
<rect x="96.80" y="1446.20" width="38.68" height="3.34" fill="#0B090B"/>
<rect x="96.80" y="1449.18" width="38.68" height="3.34" fill="#434A1E"/>
<rect x="96.80" y="1452.17" width="38.68" height="6.32" fill="#5F682A"/>
<rect x="96.80" y="1458.14" width="38.68" height="3.34" fill="#0B090B"/>
<rect x="96.80" y="1461.13" width="38.68" height="3.34" fill="#8A2D9A"/>
<rect x="96.80" y="1464.11" width="38.68" height="3.34" fill="#4B1758"/>
<rect x="96.80" y="1467.10" width="38.68" height="3.34" fill="#A144AA"/>
<rect x="96.80" y="1470.08" width="38.68" height="3.34" fill="#929D3A"/>
<rect x="96.80" y="1473.07" width="38.68" height="3.34" fill="#0B090B"/>
<rect x="96.80" y="1476.06" width="38.68" height="3.34" fill="#B563B4"/>
<rect x="96.80" y="1479.04" width="38.68" height="6.32" fill="#0B090B"/>
<rect x="96.80" y="1485.01" width="38.68" height="3.34" fill="#5F682A"/>
<rect x="96.80" y="1488.00" width="38.68" height="3.24" fill="#6F2680"/>
<rect x="96.80" y="1490.89" width="38.68" height="3.24" fill="#0B090B"/>
<rect x="96.80" y="1493.78" width="38.68" height="3.24" fill="#B4C03C"/>
<rect x="96.80" y="1496.67" width="38.68" height="3.24" fill="#D9E93C"/>
<rect x="96.80" y="1499.56" width="38.68" height="3.24" fill="#5F682A"/>
<rect x="96.80" y="1502.45" width="38.68" height="6.13" fill="#0B090B"/>
<rect x="96.80" y="1508.22" width="38.68" height="6.13" fill="#23260F"/>
<rect x="96.80" y="1514.00" width="38.68" height="3.24" fill="#6F2680"/>
<rect x="96.80" y="1516.89" width="38.68" height="3.24" fill="#434A1E"/>
<rect x="96.80" y="1519.78" width="38.68" height="6.13" fill="#929D3A"/>
<rect x="96.80" y="1525.56" width="38.68" height="3.24" fill="#2D0D35"/>
<rect x="96.80" y="1528.45" width="38.68" height="3.24" fill="#6F7932"/>
<rect x="96.80" y="1531.34" width="38.68" height="3.24" fill="#5F682A"/>
<rect x="96.80" y="1534.23" width="38.68" height="6.13" fill="#0B090B"/>
<rect x="96.80" y="1540.01" width="38.68" height="3.24" fill="#8A2D9A"/>
<rect x="96.80" y="1542.89" width="38.68" height="3.24" fill="#0B090B"/>
<rect x="96.80" y="1545.78" width="38.68" height="3.24" fill="#23260F"/>
<rect x="96.80" y="1548.67" width="38.68" height="3.24" fill="#434A1E"/>
<rect x="96.80" y="1551.56" width="38.68" height="3.24" fill="#B4C03C"/>
<rect x="96.80" y="1554.45" width="38.68" height="6.13" fill="#8A2D9A"/>
<rect x="96.80" y="1560.23" width="38.68" height="3.24" fill="#929D3A"/>
<rect x="96.80" y="1563.12" width="38.68" height="3.24" fill="#0B090B"/>
<rect x="96.80" y="1566.01" width="38.68" height="3.24" fill="#8A2D9A"/>
<rect x="96.80" y="1568.90" width="38.68" height="3.24" fill="#0B090B"/>
<rect x="96.80" y="1571.79" width="38.68" height="3.24" fill="#B4C03C"/>
<rect x="96.80" y="1574.68" width="38.68" height="3.24" fill="#23260F"/>
<rect x="96.80" y="1577.56" width="38.68" height="3.24" fill="#0B090B"/>
<rect x="96.80" y="1580.45" width="38.68" height="3.24" fill="#23260F"/>
<rect x="96.80" y="1583.34" width="38.68" height="3.24" fill="#5F682A"/>
<rect x="96.80" y="1586.23" width="38.68" height="3.24" fill="#6F2680"/>
<rect x="96.80" y="1589.12" width="38.68" height="3.24" fill="#929D3A"/>
<rect x="96.80" y="1592.01" width="38.68" height="7.24" fill="#6F7932"/>
<rect x="135.08" y="956.00" width="38.68" height="13.26" fill="#6F2680"/>
<rect x="135.08" y="968.91" width="38.68" height="3.32" fill="#4B1758"/>
<rect x="135.08" y="971.89" width="38.68" height="6.29" fill="#8A2D9A"/>
<rect x="135.08" y="977.83" width="38.68" height="6.29" fill="#6F2680"/>
<rect x="135.08" y="983.77" width="38.68" height="3.32" fill="#2D0D35"/>
<rect x="135.08" y="986.74" width="38.68" height="12.24" fill="#8A2D9A"/>
<rect x="135.08" y="998.63" width="38.68" height="6.29" fill="#6F2680"/>
<rect x="135.08" y="1004.57" width="38.68" height="9.26" fill="#8A2D9A"/>
<rect x="135.08" y="1013.49" width="38.68" height="6.29" fill="#6F2680"/>
<rect x="135.08" y="1019.43" width="38.68" height="6.29" fill="#A144AA"/>
<rect x="135.08" y="1025.37" width="38.68" height="3.32" fill="#4B1758"/>
<rect x="135.08" y="1028.34" width="38.68" height="9.26" fill="#6F2680"/>
<rect x="135.08" y="1037.26" width="38.68" height="3.32" fill="#8A2D9A"/>
<rect x="135.08" y="1040.23" width="38.68" height="3.32" fill="#2D0D35"/>
<rect x="135.08" y="1043.20" width="38.68" height="6.29" fill="#A144AA"/>
<rect x="135.08" y="1049.14" width="38.68" height="6.29" fill="#6F2680"/>
<rect x="135.08" y="1055.09" width="38.68" height="3.32" fill="#A144AA"/>
<rect x="135.08" y="1058.06" width="38.68" height="3.32" fill="#B563B4"/>
<rect x="135.08" y="1061.03" width="38.68" height="6.44" fill="#A144AA"/>
<rect x="135.08" y="1067.12" width="38.68" height="3.47" fill="#4B1758"/>
<rect x="135.08" y="1070.24" width="38.68" height="3.47" fill="#6F2680"/>
<rect x="135.08" y="1073.35" width="38.68" height="3.47" fill="#4B1758"/>
<rect x="135.08" y="1076.47" width="38.68" height="6.59" fill="#6F2680"/>
<rect x="135.08" y="1082.71" width="38.68" height="3.47" fill="#8A2D9A"/>
<rect x="135.08" y="1085.82" width="38.68" height="3.47" fill="#0B090B"/>
<rect x="135.08" y="1088.94" width="38.68" height="3.47" fill="#4B1758"/>
<rect x="135.08" y="1092.06" width="38.68" height="6.59" fill="#6F2680"/>
<rect x="135.08" y="1098.29" width="38.68" height="3.47" fill="#8A2D9A"/>
<rect x="135.08" y="1101.41" width="38.68" height="6.59" fill="#4B1758"/>
<rect x="135.08" y="1107.65" width="38.68" height="6.59" fill="#A144AA"/>
<rect x="135.08" y="1113.88" width="38.68" height="3.47" fill="#6F2680"/>
<rect x="135.08" y="1117.00" width="38.68" height="3.47" fill="#A144AA"/>
<rect x="135.08" y="1120.12" width="38.68" height="3.47" fill="#4B1758"/>
<rect x="135.08" y="1123.24" width="38.68" height="9.70" fill="#8A2D9A"/>
<rect x="135.08" y="1132.59" width="38.68" height="3.47" fill="#0B090B"/>
<rect x="135.08" y="1135.71" width="38.68" height="3.47" fill="#434A1E"/>
<rect x="135.08" y="1138.82" width="38.68" height="6.59" fill="#6F2680"/>
<rect x="135.08" y="1145.06" width="38.68" height="3.47" fill="#0B090B"/>
<rect x="135.08" y="1148.18" width="38.68" height="3.47" fill="#4B1758"/>
<rect x="135.08" y="1151.29" width="38.68" height="3.47" fill="#23260F"/>
<rect x="135.08" y="1154.41" width="38.68" height="6.59" fill="#4B1758"/>
<rect x="135.08" y="1160.65" width="38.68" height="3.47" fill="#A144AA"/>
<rect x="135.08" y="1163.76" width="38.68" height="3.47" fill="#2D0D35"/>
<rect x="135.08" y="1166.88" width="38.68" height="3.47" fill="#434A1E"/>
<rect x="135.08" y="1170.00" width="38.68" height="1.80" fill="#4B1758"/>
<rect x="135.08" y="1171.45" width="38.68" height="3.25" fill="#434A1E"/>
<rect x="135.08" y="1174.36" width="38.68" height="3.25" fill="#A144AA"/>
<rect x="135.08" y="1177.26" width="38.68" height="3.25" fill="#B563B4"/>
<rect x="135.08" y="1180.16" width="38.68" height="3.25" fill="#2D0D35"/>
<rect x="135.08" y="1183.07" width="38.68" height="3.25" fill="#8A2D9A"/>
<rect x="135.08" y="1185.97" width="38.68" height="3.25" fill="#5F682A"/>
<rect x="135.08" y="1188.88" width="38.68" height="3.25" fill="#6F2680"/>
<rect x="135.08" y="1191.78" width="38.68" height="9.06" fill="#2D0D35"/>
<rect x="135.08" y="1200.49" width="38.68" height="3.25" fill="#929D3A"/>
<rect x="135.08" y="1203.40" width="38.68" height="3.25" fill="#5F682A"/>
<rect x="135.08" y="1206.30" width="38.68" height="3.25" fill="#8A2D9A"/>
<rect x="135.08" y="1209.21" width="38.68" height="3.25" fill="#6F2680"/>
<rect x="135.08" y="1212.11" width="38.68" height="3.25" fill="#4B1758"/>
<rect x="135.08" y="1215.01" width="38.68" height="3.25" fill="#434A1E"/>
<rect x="135.08" y="1217.92" width="38.68" height="3.25" fill="#929D3A"/>
<rect x="135.08" y="1220.82" width="38.68" height="3.25" fill="#434A1E"/>
<rect x="135.08" y="1223.73" width="38.68" height="3.25" fill="#4B1758"/>
<rect x="135.08" y="1226.63" width="38.68" height="6.16" fill="#A144AA"/>
<rect x="135.08" y="1232.44" width="38.68" height="3.25" fill="#0B090B"/>
<rect x="135.08" y="1235.34" width="38.68" height="3.25" fill="#4B1758"/>
<rect x="135.08" y="1238.25" width="38.68" height="3.25" fill="#2D0D35"/>
<rect x="135.08" y="1241.15" width="38.68" height="3.25" fill="#5F682A"/>
<rect x="135.08" y="1244.05" width="38.68" height="3.25" fill="#4B1758"/>
<rect x="135.08" y="1246.96" width="38.68" height="3.25" fill="#929D3A"/>
<rect x="135.08" y="1249.86" width="38.68" height="3.25" fill="#6F2680"/>
<rect x="135.08" y="1252.77" width="38.68" height="3.25" fill="#929D3A"/>
<rect x="135.08" y="1255.67" width="38.68" height="3.25" fill="#A144AA"/>
<rect x="135.08" y="1258.58" width="38.68" height="3.25" fill="#6F2680"/>
<rect x="135.08" y="1261.48" width="38.68" height="3.25" fill="#5F682A"/>
<rect x="135.08" y="1264.38" width="38.68" height="3.25" fill="#A144AA"/>
<rect x="135.08" y="1267.29" width="38.68" height="3.25" fill="#6F7932"/>
<rect x="135.08" y="1270.19" width="38.68" height="3.25" fill="#5F682A"/>
<rect x="135.08" y="1273.10" width="38.68" height="3.25" fill="#2D0D35"/>
<rect x="135.08" y="1276.00" width="38.68" height="3.29" fill="#A144AA"/>
<rect x="135.08" y="1278.94" width="38.68" height="3.29" fill="#0B090B"/>
<rect x="135.08" y="1281.89" width="38.68" height="3.29" fill="#A144AA"/>
<rect x="135.08" y="1284.83" width="38.68" height="3.29" fill="#4B1758"/>
<rect x="135.08" y="1287.78" width="38.68" height="3.29" fill="#2D0D35"/>
<rect x="135.08" y="1290.72" width="38.68" height="3.29" fill="#4B1758"/>
<rect x="135.08" y="1293.67" width="38.68" height="3.29" fill="#0B090B"/>
<rect x="135.08" y="1296.61" width="38.68" height="3.29" fill="#434A1E"/>
<rect x="135.08" y="1299.56" width="38.68" height="3.29" fill="#4B1758"/>
<rect x="135.08" y="1302.50" width="38.68" height="6.24" fill="#2D0D35"/>
<rect x="135.08" y="1308.39" width="38.68" height="3.29" fill="#A144AA"/>
<rect x="135.08" y="1311.33" width="38.68" height="3.29" fill="#4B1758"/>
<rect x="135.08" y="1314.28" width="38.68" height="6.24" fill="#A144AA"/>
<rect x="135.08" y="1320.17" width="38.68" height="3.29" fill="#B563B4"/>
<rect x="135.08" y="1323.11" width="38.68" height="3.29" fill="#A144AA"/>
<rect x="135.08" y="1326.06" width="38.68" height="3.29" fill="#6F2680"/>
<rect x="135.08" y="1329.00" width="38.68" height="6.24" fill="#2D0D35"/>
<rect x="135.08" y="1334.89" width="38.68" height="3.29" fill="#B4C03C"/>
<rect x="135.08" y="1337.83" width="38.68" height="3.29" fill="#0B090B"/>
<rect x="135.08" y="1340.78" width="38.68" height="6.24" fill="#A144AA"/>
<rect x="135.08" y="1346.67" width="38.68" height="3.29" fill="#0B090B"/>
<rect x="135.08" y="1349.61" width="38.68" height="3.29" fill="#4B1758"/>
<rect x="135.08" y="1352.56" width="38.68" height="3.29" fill="#929D3A"/>
<rect x="135.08" y="1355.50" width="38.68" height="3.29" fill="#8A2D9A"/>
<rect x="135.08" y="1358.44" width="38.68" height="3.29" fill="#6F2680"/>
<rect x="135.08" y="1361.39" width="38.68" height="3.29" fill="#2D0D35"/>
<rect x="135.08" y="1364.33" width="38.68" height="6.24" fill="#434A1E"/>
<rect x="135.08" y="1370.22" width="38.68" height="3.29" fill="#23260F"/>
<rect x="135.08" y="1373.17" width="38.68" height="6.24" fill="#A144AA"/>
<rect x="135.08" y="1379.06" width="38.68" height="3.29" fill="#929D3A"/>
<rect x="135.08" y="1382.00" width="38.68" height="1.84" fill="#B4C03C"/>
<rect x="135.08" y="1383.49" width="38.68" height="3.34" fill="#0B090B"/>
<rect x="135.08" y="1386.48" width="38.68" height="3.34" fill="#D9E93C"/>
<rect x="135.08" y="1389.46" width="38.68" height="3.34" fill="#B4C03C"/>
<rect x="135.08" y="1392.45" width="38.68" height="3.34" fill="#B563B4"/>
<rect x="135.08" y="1395.44" width="38.68" height="3.34" fill="#8A2D9A"/>
<rect x="135.08" y="1398.42" width="38.68" height="3.34" fill="#0B090B"/>
<rect x="135.08" y="1401.41" width="38.68" height="3.34" fill="#5F682A"/>
<rect x="135.08" y="1404.39" width="38.68" height="3.34" fill="#A144AA"/>
<rect x="135.08" y="1407.38" width="38.68" height="3.34" fill="#6F2680"/>
<rect x="135.08" y="1410.37" width="38.68" height="3.34" fill="#434A1E"/>
<rect x="135.08" y="1413.35" width="38.68" height="3.34" fill="#5F682A"/>
<rect x="135.08" y="1416.34" width="38.68" height="3.34" fill="#929D3A"/>
<rect x="135.08" y="1419.32" width="38.68" height="3.34" fill="#434A1E"/>
<rect x="135.08" y="1422.31" width="38.68" height="6.32" fill="#0B090B"/>
<rect x="135.08" y="1428.28" width="38.68" height="3.34" fill="#929D3A"/>
<rect x="135.08" y="1431.27" width="38.68" height="3.34" fill="#B4C03C"/>
<rect x="135.08" y="1434.25" width="38.68" height="3.34" fill="#D9E93C"/>
<rect x="135.08" y="1437.24" width="38.68" height="3.34" fill="#B4C03C"/>
<rect x="135.08" y="1440.23" width="38.68" height="3.34" fill="#D9E93C"/>
<rect x="135.08" y="1443.21" width="38.68" height="3.34" fill="#0B090B"/>
<rect x="135.08" y="1446.20" width="38.68" height="3.34" fill="#A144AA"/>
<rect x="135.08" y="1449.18" width="38.68" height="3.34" fill="#929D3A"/>
<rect x="135.08" y="1452.17" width="38.68" height="3.34" fill="#6F2680"/>
<rect x="135.08" y="1455.15" width="38.68" height="3.34" fill="#8A2D9A"/>
<rect x="135.08" y="1458.14" width="38.68" height="3.34" fill="#0B090B"/>
<rect x="135.08" y="1461.13" width="38.68" height="3.34" fill="#B4C03C"/>
<rect x="135.08" y="1464.11" width="38.68" height="3.34" fill="#0B090B"/>
<rect x="135.08" y="1467.10" width="38.68" height="3.34" fill="#434A1E"/>
<rect x="135.08" y="1470.08" width="38.68" height="3.34" fill="#6F7932"/>
<rect x="135.08" y="1473.07" width="38.68" height="9.31" fill="#2D0D35"/>
<rect x="135.08" y="1482.03" width="38.68" height="3.34" fill="#5F682A"/>
<rect x="135.08" y="1485.01" width="38.68" height="3.34" fill="#2D0D35"/>
<rect x="135.08" y="1488.00" width="38.68" height="3.40" fill="#6F2680"/>
<rect x="135.08" y="1491.05" width="38.68" height="3.40" fill="#B4C03C"/>
<rect x="135.08" y="1494.11" width="38.68" height="3.40" fill="#434A1E"/>
<rect x="135.08" y="1497.16" width="38.68" height="3.40" fill="#5F682A"/>
<rect x="135.08" y="1500.22" width="38.68" height="3.40" fill="#B4C03C"/>
<rect x="135.08" y="1503.27" width="38.68" height="3.40" fill="#434A1E"/>
<rect x="135.08" y="1506.33" width="38.68" height="3.40" fill="#B4C03C"/>
<rect x="135.08" y="1509.38" width="38.68" height="3.40" fill="#8A2D9A"/>
<rect x="135.08" y="1512.43" width="38.68" height="6.46" fill="#2D0D35"/>
<rect x="135.08" y="1518.54" width="38.68" height="3.40" fill="#434A1E"/>
<rect x="135.08" y="1521.60" width="38.68" height="3.40" fill="#2D0D35"/>
<rect x="135.08" y="1524.65" width="38.68" height="3.40" fill="#B4C03C"/>
<rect x="135.08" y="1527.71" width="38.68" height="6.46" fill="#23260F"/>
<rect x="135.08" y="1533.81" width="38.68" height="3.40" fill="#434A1E"/>
<rect x="135.08" y="1536.87" width="38.68" height="3.40" fill="#D9E93C"/>
<rect x="135.08" y="1539.92" width="38.68" height="3.40" fill="#6F7932"/>
<rect x="135.08" y="1542.98" width="38.68" height="3.40" fill="#5F682A"/>
<rect x="135.08" y="1546.03" width="38.68" height="3.40" fill="#929D3A"/>
<rect x="135.08" y="1549.09" width="38.68" height="3.40" fill="#0B090B"/>
<rect x="135.08" y="1552.14" width="38.68" height="3.40" fill="#8A2D9A"/>
<rect x="135.08" y="1555.19" width="38.68" height="3.40" fill="#4B1758"/>
<rect x="135.08" y="1558.25" width="38.68" height="3.40" fill="#2D0D35"/>
<rect x="135.08" y="1561.30" width="38.68" height="3.40" fill="#929D3A"/>
<rect x="135.08" y="1564.36" width="38.68" height="3.40" fill="#0B090B"/>
<rect x="135.08" y="1567.41" width="38.68" height="3.40" fill="#434A1E"/>
<rect x="135.08" y="1570.47" width="38.68" height="3.40" fill="#0B090B"/>
<rect x="135.08" y="1573.52" width="38.68" height="3.40" fill="#23260F"/>
<rect x="135.08" y="1576.57" width="38.68" height="3.40" fill="#929D3A"/>
<rect x="135.08" y="1579.63" width="38.68" height="6.46" fill="#2D0D35"/>
<rect x="135.08" y="1585.74" width="38.68" height="3.40" fill="#5F682A"/>
<rect x="135.08" y="1588.79" width="38.68" height="3.40" fill="#929D3A"/>
<rect x="135.08" y="1591.85" width="38.68" height="7.40" fill="#23260F"/>
<rect x="173.37" y="956.00" width="38.68" height="10.47" fill="#A144AA"/>
<rect x="173.37" y="966.12" width="38.68" height="6.47" fill="#6F2680"/>
<rect x="173.37" y="972.24" width="38.68" height="6.47" fill="#A144AA"/>
<rect x="173.37" y="978.35" width="38.68" height="3.41" fill="#6F2680"/>
<rect x="173.37" y="981.41" width="38.68" height="3.41" fill="#B563B4"/>
<rect x="173.37" y="984.47" width="38.68" height="9.53" fill="#6F2680"/>
<rect x="173.37" y="993.65" width="38.68" height="3.41" fill="#0B090B"/>
<rect x="173.37" y="996.71" width="38.68" height="3.41" fill="#B563B4"/>
<rect x="173.37" y="999.76" width="38.68" height="12.59" fill="#A144AA"/>
<rect x="173.37" y="1012.00" width="38.68" height="3.41" fill="#0B090B"/>
<rect x="173.37" y="1015.06" width="38.68" height="6.47" fill="#6F2680"/>
<rect x="173.37" y="1021.18" width="38.68" height="6.47" fill="#4B1758"/>
<rect x="173.37" y="1027.29" width="38.68" height="3.41" fill="#A144AA"/>
<rect x="173.37" y="1030.35" width="38.68" height="3.41" fill="#6F2680"/>
<rect x="173.37" y="1033.41" width="38.68" height="6.47" fill="#A144AA"/>
<rect x="173.37" y="1039.53" width="38.68" height="6.47" fill="#4B1758"/>
<rect x="173.37" y="1045.65" width="38.68" height="9.53" fill="#6F2680"/>
<rect x="173.37" y="1054.82" width="38.68" height="3.41" fill="#0B090B"/>
<rect x="173.37" y="1057.88" width="38.68" height="3.41" fill="#4B1758"/>
<rect x="173.37" y="1060.94" width="38.68" height="6.35" fill="#0B090B"/>
<rect x="173.37" y="1066.94" width="38.68" height="12.13" fill="#4B1758"/>
<rect x="173.37" y="1078.72" width="38.68" height="6.24" fill="#6F2680"/>
<rect x="173.37" y="1084.61" width="38.68" height="6.24" fill="#A144AA"/>
<rect x="173.37" y="1090.50" width="38.68" height="3.29" fill="#4B1758"/>
<rect x="173.37" y="1093.44" width="38.68" height="3.29" fill="#2D0D35"/>
<rect x="173.37" y="1096.39" width="38.68" height="3.29" fill="#4B1758"/>
<rect x="173.37" y="1099.33" width="38.68" height="6.24" fill="#434A1E"/>
<rect x="173.37" y="1105.22" width="38.68" height="3.29" fill="#0B090B"/>
<rect x="173.37" y="1108.17" width="38.68" height="3.29" fill="#6F2680"/>
<rect x="173.37" y="1111.11" width="38.68" height="12.13" fill="#2D0D35"/>
<rect x="173.37" y="1122.89" width="38.68" height="3.29" fill="#B563B4"/>
<rect x="173.37" y="1125.83" width="38.68" height="3.29" fill="#4B1758"/>
<rect x="173.37" y="1128.78" width="38.68" height="3.29" fill="#A144AA"/>
<rect x="173.37" y="1131.72" width="38.68" height="3.29" fill="#0B090B"/>
<rect x="173.37" y="1134.67" width="38.68" height="3.29" fill="#6F2680"/>
<rect x="173.37" y="1137.61" width="38.68" height="3.29" fill="#434A1E"/>
<rect x="173.37" y="1140.56" width="38.68" height="3.29" fill="#5F682A"/>
<rect x="173.37" y="1143.50" width="38.68" height="6.24" fill="#A144AA"/>
<rect x="173.37" y="1149.39" width="38.68" height="3.29" fill="#0B090B"/>
<rect x="173.37" y="1152.33" width="38.68" height="6.24" fill="#8A2D9A"/>
<rect x="173.37" y="1158.22" width="38.68" height="6.24" fill="#A144AA"/>
<rect x="173.37" y="1164.11" width="38.68" height="3.29" fill="#6F2680"/>
<rect x="173.37" y="1167.06" width="38.68" height="3.29" fill="#A144AA"/>
<rect x="173.37" y="1170.00" width="38.68" height="6.08" fill="#4B1758"/>
<rect x="173.37" y="1175.73" width="38.68" height="3.21" fill="#23260F"/>
<rect x="173.37" y="1178.59" width="38.68" height="3.21" fill="#6F2680"/>
<rect x="173.37" y="1181.46" width="38.68" height="3.21" fill="#2D0D35"/>
<rect x="173.37" y="1184.32" width="38.68" height="3.21" fill="#0B090B"/>
<rect x="173.37" y="1187.19" width="38.68" height="3.21" fill="#6F2680"/>
<rect x="173.37" y="1190.05" width="38.68" height="3.21" fill="#0B090B"/>
<rect x="173.37" y="1192.92" width="38.68" height="3.21" fill="#929D3A"/>
<rect x="173.37" y="1195.78" width="38.68" height="3.21" fill="#A144AA"/>
<rect x="173.37" y="1198.65" width="38.68" height="3.21" fill="#0B090B"/>
<rect x="173.37" y="1201.51" width="38.68" height="3.21" fill="#5F682A"/>
<rect x="173.37" y="1204.38" width="38.68" height="3.21" fill="#4B1758"/>
<rect x="173.37" y="1207.24" width="38.68" height="3.21" fill="#2D0D35"/>
<rect x="173.37" y="1210.11" width="38.68" height="8.94" fill="#4B1758"/>
<rect x="173.37" y="1218.70" width="38.68" height="3.21" fill="#5F682A"/>
<rect x="173.37" y="1221.57" width="38.68" height="11.81" fill="#0B090B"/>
<rect x="173.37" y="1233.03" width="38.68" height="3.21" fill="#6F2680"/>
<rect x="173.37" y="1235.89" width="38.68" height="8.94" fill="#8A2D9A"/>
<rect x="173.37" y="1244.49" width="38.68" height="3.21" fill="#4B1758"/>
<rect x="173.37" y="1247.35" width="38.68" height="3.21" fill="#B563B4"/>
<rect x="173.37" y="1250.22" width="38.68" height="3.21" fill="#929D3A"/>
<rect x="173.37" y="1253.08" width="38.68" height="3.21" fill="#0B090B"/>
<rect x="173.37" y="1255.95" width="38.68" height="3.21" fill="#6F7932"/>
<rect x="173.37" y="1258.81" width="38.68" height="3.21" fill="#434A1E"/>
<rect x="173.37" y="1261.68" width="38.68" height="3.21" fill="#0B090B"/>
<rect x="173.37" y="1264.54" width="38.68" height="3.21" fill="#A144AA"/>
<rect x="173.37" y="1267.41" width="38.68" height="3.21" fill="#0B090B"/>
<rect x="173.37" y="1270.27" width="38.68" height="3.21" fill="#929D3A"/>
<rect x="173.37" y="1273.14" width="38.68" height="3.21" fill="#4B1758"/>
<rect x="173.37" y="1276.00" width="38.68" height="3.47" fill="#6F2680"/>
<rect x="173.37" y="1279.12" width="38.68" height="3.47" fill="#4B1758"/>
<rect x="173.37" y="1282.24" width="38.68" height="3.47" fill="#6F7932"/>
<rect x="173.37" y="1285.35" width="38.68" height="3.47" fill="#5F682A"/>
<rect x="173.37" y="1288.47" width="38.68" height="6.59" fill="#2D0D35"/>
<rect x="173.37" y="1294.71" width="38.68" height="3.47" fill="#6F2680"/>
<rect x="173.37" y="1297.82" width="38.68" height="3.47" fill="#B4C03C"/>
<rect x="173.37" y="1300.94" width="38.68" height="3.47" fill="#0B090B"/>
<rect x="173.37" y="1304.06" width="38.68" height="3.47" fill="#D9E93C"/>
<rect x="173.37" y="1307.18" width="38.68" height="3.47" fill="#0B090B"/>
<rect x="173.37" y="1310.29" width="38.68" height="3.47" fill="#4B1758"/>
<rect x="173.37" y="1313.41" width="38.68" height="3.47" fill="#0B090B"/>
<rect x="173.37" y="1316.53" width="38.68" height="3.47" fill="#B4C03C"/>
<rect x="173.37" y="1319.65" width="38.68" height="3.47" fill="#0B090B"/>
<rect x="173.37" y="1322.76" width="38.68" height="3.47" fill="#434A1E"/>
<rect x="173.37" y="1325.88" width="38.68" height="3.47" fill="#0B090B"/>
<rect x="173.37" y="1329.00" width="38.68" height="3.47" fill="#4B1758"/>
<rect x="173.37" y="1332.12" width="38.68" height="3.47" fill="#B4C03C"/>
<rect x="173.37" y="1335.24" width="38.68" height="3.47" fill="#0B090B"/>
<rect x="173.37" y="1338.35" width="38.68" height="3.47" fill="#6F7932"/>
<rect x="173.37" y="1341.47" width="38.68" height="3.47" fill="#434A1E"/>
<rect x="173.37" y="1344.59" width="38.68" height="3.47" fill="#929D3A"/>
<rect x="173.37" y="1347.71" width="38.68" height="3.47" fill="#434A1E"/>
<rect x="173.37" y="1350.82" width="38.68" height="3.47" fill="#4B1758"/>
<rect x="173.37" y="1353.94" width="38.68" height="3.47" fill="#D9E93C"/>
<rect x="173.37" y="1357.06" width="38.68" height="3.47" fill="#5F682A"/>
<rect x="173.37" y="1360.18" width="38.68" height="3.47" fill="#D9E93C"/>
<rect x="173.37" y="1363.29" width="38.68" height="3.47" fill="#B563B4"/>
<rect x="173.37" y="1366.41" width="38.68" height="3.47" fill="#D9E93C"/>
<rect x="173.37" y="1369.53" width="38.68" height="3.47" fill="#A144AA"/>
<rect x="173.37" y="1372.65" width="38.68" height="3.47" fill="#D9E93C"/>
<rect x="173.37" y="1375.76" width="38.68" height="3.47" fill="#B4C03C"/>
<rect x="173.37" y="1378.88" width="38.68" height="3.47" fill="#5F682A"/>
<rect x="173.37" y="1382.00" width="38.68" height="1.84" fill="#4B1758"/>
<rect x="173.37" y="1383.49" width="38.68" height="3.34" fill="#A144AA"/>
<rect x="173.37" y="1386.48" width="38.68" height="3.34" fill="#5F682A"/>
<rect x="173.37" y="1389.46" width="38.68" height="3.34" fill="#434A1E"/>
<rect x="173.37" y="1392.45" width="38.68" height="3.34" fill="#B4C03C"/>
<rect x="173.37" y="1395.44" width="38.68" height="3.34" fill="#6F2680"/>
<rect x="173.37" y="1398.42" width="38.68" height="3.34" fill="#4B1758"/>
<rect x="173.37" y="1401.41" width="38.68" height="6.32" fill="#0B090B"/>
<rect x="173.37" y="1407.38" width="38.68" height="3.34" fill="#929D3A"/>
<rect x="173.37" y="1410.37" width="38.68" height="3.34" fill="#6F7932"/>
<rect x="173.37" y="1413.35" width="38.68" height="3.34" fill="#8A2D9A"/>
<rect x="173.37" y="1416.34" width="38.68" height="3.34" fill="#6F7932"/>
<rect x="173.37" y="1419.32" width="38.68" height="3.34" fill="#929D3A"/>
<rect x="173.37" y="1422.31" width="38.68" height="6.32" fill="#0B090B"/>
<rect x="173.37" y="1428.28" width="38.68" height="3.34" fill="#6F7932"/>
<rect x="173.37" y="1431.27" width="38.68" height="3.34" fill="#434A1E"/>
<rect x="173.37" y="1434.25" width="38.68" height="3.34" fill="#2D0D35"/>
<rect x="173.37" y="1437.24" width="38.68" height="3.34" fill="#0B090B"/>
<rect x="173.37" y="1440.23" width="38.68" height="3.34" fill="#2D0D35"/>
<rect x="173.37" y="1443.21" width="38.68" height="6.32" fill="#929D3A"/>
<rect x="173.37" y="1449.18" width="38.68" height="3.34" fill="#A144AA"/>
<rect x="173.37" y="1452.17" width="38.68" height="3.34" fill="#B563B4"/>
<rect x="173.37" y="1455.15" width="38.68" height="3.34" fill="#23260F"/>
<rect x="173.37" y="1458.14" width="38.68" height="3.34" fill="#2D0D35"/>
<rect x="173.37" y="1461.13" width="38.68" height="3.34" fill="#0B090B"/>
<rect x="173.37" y="1464.11" width="38.68" height="3.34" fill="#23260F"/>
<rect x="173.37" y="1467.10" width="38.68" height="3.34" fill="#434A1E"/>
<rect x="173.37" y="1470.08" width="38.68" height="3.34" fill="#8A2D9A"/>
<rect x="173.37" y="1473.07" width="38.68" height="3.34" fill="#4B1758"/>
<rect x="173.37" y="1476.06" width="38.68" height="3.34" fill="#B4C03C"/>
<rect x="173.37" y="1479.04" width="38.68" height="3.34" fill="#D9E93C"/>
<rect x="173.37" y="1482.03" width="38.68" height="3.34" fill="#B4C03C"/>
<rect x="173.37" y="1485.01" width="38.68" height="3.34" fill="#0B090B"/>
<rect x="173.37" y="1488.00" width="38.68" height="3.40" fill="#B4C03C"/>
<rect x="173.37" y="1491.05" width="38.68" height="3.40" fill="#6F2680"/>
<rect x="173.37" y="1494.11" width="38.68" height="6.46" fill="#4B1758"/>
<rect x="173.37" y="1500.22" width="38.68" height="3.40" fill="#23260F"/>
<rect x="173.37" y="1503.27" width="38.68" height="3.40" fill="#5F682A"/>
<rect x="173.37" y="1506.33" width="38.68" height="3.40" fill="#0B090B"/>
<rect x="173.37" y="1509.38" width="38.68" height="3.40" fill="#929D3A"/>
<rect x="173.37" y="1512.43" width="38.68" height="6.46" fill="#6F7932"/>
<rect x="173.37" y="1518.54" width="38.68" height="3.40" fill="#8A2D9A"/>
<rect x="173.37" y="1521.60" width="38.68" height="6.46" fill="#6F2680"/>
<rect x="173.37" y="1527.71" width="38.68" height="3.40" fill="#4B1758"/>
<rect x="173.37" y="1530.76" width="38.68" height="3.40" fill="#434A1E"/>
<rect x="173.37" y="1533.81" width="38.68" height="3.40" fill="#23260F"/>
<rect x="173.37" y="1536.87" width="38.68" height="3.40" fill="#0B090B"/>
<rect x="173.37" y="1539.92" width="38.68" height="3.40" fill="#5F682A"/>
<rect x="173.37" y="1542.98" width="38.68" height="3.40" fill="#6F7932"/>
<rect x="173.37" y="1546.03" width="38.68" height="3.40" fill="#929D3A"/>
<rect x="173.37" y="1549.09" width="38.68" height="3.40" fill="#B4C03C"/>
<rect x="173.37" y="1552.14" width="38.68" height="3.40" fill="#0B090B"/>
<rect x="173.37" y="1555.19" width="38.68" height="6.46" fill="#D9E93C"/>
<rect x="173.37" y="1561.30" width="38.68" height="3.40" fill="#0B090B"/>
<rect x="173.37" y="1564.36" width="38.68" height="3.40" fill="#D9E93C"/>
<rect x="173.37" y="1567.41" width="38.68" height="3.40" fill="#5F682A"/>
<rect x="173.37" y="1570.47" width="38.68" height="3.40" fill="#0B090B"/>
<rect x="173.37" y="1573.52" width="38.68" height="3.40" fill="#5F682A"/>
<rect x="173.37" y="1576.57" width="38.68" height="3.40" fill="#8A2D9A"/>
<rect x="173.37" y="1579.63" width="38.68" height="3.40" fill="#B4C03C"/>
<rect x="173.37" y="1582.68" width="38.68" height="3.40" fill="#0B090B"/>
<rect x="173.37" y="1585.74" width="38.68" height="3.40" fill="#5F682A"/>
<rect x="173.37" y="1588.79" width="38.68" height="3.40" fill="#6F2680"/>
<rect x="173.37" y="1591.85" width="38.68" height="7.40" fill="#0B090B"/>
<rect x="211.65" y="956.00" width="38.68" height="10.47" fill="#5F682A"/>
<rect x="211.65" y="966.12" width="38.68" height="12.59" fill="#6F7932"/>
<rect x="211.65" y="978.35" width="38.68" height="3.41" fill="#929D3A"/>
<rect x="211.65" y="981.41" width="38.68" height="3.41" fill="#434A1E"/>
<rect x="211.65" y="984.47" width="38.68" height="3.41" fill="#B4C03C"/>
<rect x="211.65" y="987.53" width="38.68" height="3.41" fill="#6F7932"/>
<rect x="211.65" y="990.59" width="38.68" height="6.47" fill="#5F682A"/>
<rect x="211.65" y="996.71" width="38.68" height="3.41" fill="#23260F"/>
<rect x="211.65" y="999.76" width="38.68" height="18.70" fill="#6F7932"/>
<rect x="211.65" y="1018.12" width="38.68" height="3.41" fill="#B4C03C"/>
<rect x="211.65" y="1021.18" width="38.68" height="3.41" fill="#6F7932"/>
<rect x="211.65" y="1024.24" width="38.68" height="3.41" fill="#434A1E"/>
<rect x="211.65" y="1027.29" width="38.68" height="3.41" fill="#929D3A"/>
<rect x="211.65" y="1030.35" width="38.68" height="6.47" fill="#5F682A"/>
<rect x="211.65" y="1036.47" width="38.68" height="3.41" fill="#434A1E"/>
<rect x="211.65" y="1039.53" width="38.68" height="3.41" fill="#B4C03C"/>
<rect x="211.65" y="1042.59" width="38.68" height="3.41" fill="#23260F"/>
<rect x="211.65" y="1045.65" width="38.68" height="3.41" fill="#B4C03C"/>
<rect x="211.65" y="1048.71" width="38.68" height="3.41" fill="#23260F"/>
<rect x="211.65" y="1051.76" width="38.68" height="3.41" fill="#0B090B"/>
<rect x="211.65" y="1054.82" width="38.68" height="3.41" fill="#929D3A"/>
<rect x="211.65" y="1057.88" width="38.68" height="3.41" fill="#B4C03C"/>
<rect x="211.65" y="1060.94" width="38.68" height="6.35" fill="#929D3A"/>
<rect x="211.65" y="1066.94" width="38.68" height="3.29" fill="#23260F"/>
<rect x="211.65" y="1069.89" width="38.68" height="6.24" fill="#929D3A"/>
<rect x="211.65" y="1075.78" width="38.68" height="3.29" fill="#0B090B"/>
<rect x="211.65" y="1078.72" width="38.68" height="3.29" fill="#B4C03C"/>
<rect x="211.65" y="1081.67" width="38.68" height="3.29" fill="#23260F"/>
<rect x="211.65" y="1084.61" width="38.68" height="3.29" fill="#929D3A"/>
<rect x="211.65" y="1087.56" width="38.68" height="3.29" fill="#B4C03C"/>
<rect x="211.65" y="1090.50" width="38.68" height="3.29" fill="#D9E93C"/>
<rect x="211.65" y="1093.44" width="38.68" height="3.29" fill="#B4C03C"/>
<rect x="211.65" y="1096.39" width="38.68" height="3.29" fill="#434A1E"/>
<rect x="211.65" y="1099.33" width="38.68" height="3.29" fill="#5F682A"/>
<rect x="211.65" y="1102.28" width="38.68" height="3.29" fill="#929D3A"/>
<rect x="211.65" y="1105.22" width="38.68" height="3.29" fill="#B4C03C"/>
<rect x="211.65" y="1108.17" width="38.68" height="3.29" fill="#0B090B"/>
<rect x="211.65" y="1111.11" width="38.68" height="6.24" fill="#929D3A"/>
<rect x="211.65" y="1117.00" width="38.68" height="6.24" fill="#6F7932"/>
<rect x="211.65" y="1122.89" width="38.68" height="3.29" fill="#929D3A"/>
<rect x="211.65" y="1125.83" width="38.68" height="6.24" fill="#0B090B"/>
<rect x="211.65" y="1131.72" width="38.68" height="3.29" fill="#5F682A"/>
<rect x="211.65" y="1134.67" width="38.68" height="6.24" fill="#6F2680"/>
<rect x="211.65" y="1140.56" width="38.68" height="3.29" fill="#0B090B"/>
<rect x="211.65" y="1143.50" width="38.68" height="3.29" fill="#929D3A"/>
<rect x="211.65" y="1146.44" width="38.68" height="3.29" fill="#434A1E"/>
<rect x="211.65" y="1149.39" width="38.68" height="3.29" fill="#6F2680"/>
<rect x="211.65" y="1152.33" width="38.68" height="3.29" fill="#0B090B"/>
<rect x="211.65" y="1155.28" width="38.68" height="3.29" fill="#B4C03C"/>
<rect x="211.65" y="1158.22" width="38.68" height="3.29" fill="#434A1E"/>
<rect x="211.65" y="1161.17" width="38.68" height="6.24" fill="#0B090B"/>
<rect x="211.65" y="1167.06" width="38.68" height="3.29" fill="#434A1E"/>
<rect x="211.65" y="1170.00" width="38.68" height="1.84" fill="#6F2680"/>
<rect x="211.65" y="1171.49" width="38.68" height="3.34" fill="#929D3A"/>
<rect x="211.65" y="1174.48" width="38.68" height="6.32" fill="#23260F"/>
<rect x="211.65" y="1180.45" width="38.68" height="3.34" fill="#929D3A"/>
<rect x="211.65" y="1183.44" width="38.68" height="3.34" fill="#434A1E"/>
<rect x="211.65" y="1186.42" width="38.68" height="3.34" fill="#6F2680"/>
<rect x="211.65" y="1189.41" width="38.68" height="3.34" fill="#5F682A"/>
<rect x="211.65" y="1192.39" width="38.68" height="3.34" fill="#4B1758"/>
<rect x="211.65" y="1195.38" width="38.68" height="6.32" fill="#2D0D35"/>
<rect x="211.65" y="1201.35" width="38.68" height="3.34" fill="#8A2D9A"/>
<rect x="211.65" y="1204.34" width="38.68" height="3.34" fill="#929D3A"/>
<rect x="211.65" y="1207.32" width="38.68" height="3.34" fill="#4B1758"/>
<rect x="211.65" y="1210.31" width="38.68" height="3.34" fill="#D9E93C"/>
<rect x="211.65" y="1213.30" width="38.68" height="3.34" fill="#6F7932"/>
<rect x="211.65" y="1216.28" width="38.68" height="3.34" fill="#929D3A"/>
<rect x="211.65" y="1219.27" width="38.68" height="3.34" fill="#A144AA"/>
<rect x="211.65" y="1222.25" width="38.68" height="3.34" fill="#5F682A"/>
<rect x="211.65" y="1225.24" width="38.68" height="3.34" fill="#434A1E"/>
<rect x="211.65" y="1228.23" width="38.68" height="3.34" fill="#8A2D9A"/>
<rect x="211.65" y="1231.21" width="38.68" height="6.32" fill="#2D0D35"/>
<rect x="211.65" y="1237.18" width="38.68" height="3.34" fill="#6F2680"/>
<rect x="211.65" y="1240.17" width="38.68" height="3.34" fill="#2D0D35"/>
<rect x="211.65" y="1243.15" width="38.68" height="3.34" fill="#8A2D9A"/>
<rect x="211.65" y="1246.14" width="38.68" height="3.34" fill="#4B1758"/>
<rect x="211.65" y="1249.13" width="38.68" height="3.34" fill="#8A2D9A"/>
<rect x="211.65" y="1252.11" width="38.68" height="9.31" fill="#2D0D35"/>
<rect x="211.65" y="1261.07" width="38.68" height="6.32" fill="#0B090B"/>
<rect x="211.65" y="1267.04" width="38.68" height="3.34" fill="#929D3A"/>
<rect x="211.65" y="1270.03" width="38.68" height="6.32" fill="#B563B4"/>
<rect x="211.65" y="1276.00" width="38.68" height="3.38" fill="#A144AA"/>
<rect x="211.65" y="1279.03" width="38.68" height="3.38" fill="#0B090B"/>
<rect x="211.65" y="1282.06" width="38.68" height="3.38" fill="#929D3A"/>
<rect x="211.65" y="1285.09" width="38.68" height="3.38" fill="#0B090B"/>
<rect x="211.65" y="1288.11" width="38.68" height="3.38" fill="#929D3A"/>
<rect x="211.65" y="1291.14" width="38.68" height="3.38" fill="#6F2680"/>
<rect x="211.65" y="1294.17" width="38.68" height="9.44" fill="#8A2D9A"/>
<rect x="211.65" y="1303.26" width="38.68" height="3.38" fill="#4B1758"/>
<rect x="211.65" y="1306.29" width="38.68" height="3.38" fill="#6F7932"/>
<rect x="211.65" y="1309.31" width="38.68" height="3.38" fill="#929D3A"/>
<rect x="211.65" y="1312.34" width="38.68" height="3.38" fill="#D9E93C"/>
<rect x="211.65" y="1315.37" width="38.68" height="3.38" fill="#8A2D9A"/>
<rect x="211.65" y="1318.40" width="38.68" height="3.38" fill="#6F2680"/>
<rect x="211.65" y="1321.43" width="38.68" height="6.41" fill="#23260F"/>
<rect x="211.65" y="1327.49" width="38.68" height="3.38" fill="#5F682A"/>
<rect x="211.65" y="1330.51" width="38.68" height="3.38" fill="#6F2680"/>
<rect x="211.65" y="1333.54" width="38.68" height="3.38" fill="#B4C03C"/>
<rect x="211.65" y="1336.57" width="38.68" height="3.38" fill="#2D0D35"/>
<rect x="211.65" y="1339.60" width="38.68" height="3.38" fill="#4B1758"/>
<rect x="211.65" y="1342.63" width="38.68" height="3.38" fill="#5F682A"/>
<rect x="211.65" y="1345.66" width="38.68" height="3.38" fill="#929D3A"/>
<rect x="211.65" y="1348.69" width="38.68" height="6.41" fill="#2D0D35"/>
<rect x="211.65" y="1354.74" width="38.68" height="3.38" fill="#4B1758"/>
<rect x="211.65" y="1357.77" width="38.68" height="3.38" fill="#A144AA"/>
<rect x="211.65" y="1360.80" width="38.68" height="3.38" fill="#4B1758"/>
<rect x="211.65" y="1363.83" width="38.68" height="3.38" fill="#6F7932"/>
<rect x="211.65" y="1366.86" width="38.68" height="3.38" fill="#8A2D9A"/>
<rect x="211.65" y="1369.89" width="38.68" height="3.38" fill="#6F2680"/>
<rect x="211.65" y="1372.91" width="38.68" height="3.38" fill="#0B090B"/>
<rect x="211.65" y="1375.94" width="38.68" height="3.38" fill="#23260F"/>
<rect x="211.65" y="1378.97" width="38.68" height="3.38" fill="#4B1758"/>
<rect x="211.65" y="1382.00" width="38.68" height="1.84" fill="#A144AA"/>
<rect x="211.65" y="1383.49" width="38.68" height="3.34" fill="#929D3A"/>
<rect x="211.65" y="1386.48" width="38.68" height="3.34" fill="#A144AA"/>
<rect x="211.65" y="1389.46" width="38.68" height="3.34" fill="#0B090B"/>
<rect x="211.65" y="1392.45" width="38.68" height="3.34" fill="#2D0D35"/>
<rect x="211.65" y="1395.44" width="38.68" height="3.34" fill="#0B090B"/>
<rect x="211.65" y="1398.42" width="38.68" height="6.32" fill="#929D3A"/>
<rect x="211.65" y="1404.39" width="38.68" height="3.34" fill="#434A1E"/>
<rect x="211.65" y="1407.38" width="38.68" height="3.34" fill="#4B1758"/>
<rect x="211.65" y="1410.37" width="38.68" height="3.34" fill="#434A1E"/>
<rect x="211.65" y="1413.35" width="38.68" height="3.34" fill="#6F2680"/>
<rect x="211.65" y="1416.34" width="38.68" height="3.34" fill="#4B1758"/>
<rect x="211.65" y="1419.32" width="38.68" height="3.34" fill="#A144AA"/>
<rect x="211.65" y="1422.31" width="38.68" height="6.32" fill="#6F2680"/>
<rect x="211.65" y="1428.28" width="38.68" height="3.34" fill="#B563B4"/>
<rect x="211.65" y="1431.27" width="38.68" height="3.34" fill="#4B1758"/>
<rect x="211.65" y="1434.25" width="38.68" height="3.34" fill="#434A1E"/>
<rect x="211.65" y="1437.24" width="38.68" height="3.34" fill="#A144AA"/>
<rect x="211.65" y="1440.23" width="38.68" height="3.34" fill="#8A2D9A"/>
<rect x="211.65" y="1443.21" width="38.68" height="3.34" fill="#0B090B"/>
<rect x="211.65" y="1446.20" width="38.68" height="3.34" fill="#6F7932"/>
<rect x="211.65" y="1449.18" width="38.68" height="3.34" fill="#0B090B"/>
<rect x="211.65" y="1452.17" width="38.68" height="3.34" fill="#B4C03C"/>
<rect x="211.65" y="1455.15" width="38.68" height="3.34" fill="#434A1E"/>
<rect x="211.65" y="1458.14" width="38.68" height="3.34" fill="#A144AA"/>
<rect x="211.65" y="1461.13" width="38.68" height="3.34" fill="#8A2D9A"/>
<rect x="211.65" y="1464.11" width="38.68" height="3.34" fill="#4B1758"/>
<rect x="211.65" y="1467.10" width="38.68" height="3.34" fill="#929D3A"/>
<rect x="211.65" y="1470.08" width="38.68" height="3.34" fill="#6F2680"/>
<rect x="211.65" y="1473.07" width="38.68" height="3.34" fill="#B4C03C"/>
<rect x="211.65" y="1476.06" width="38.68" height="3.34" fill="#5F682A"/>
<rect x="211.65" y="1479.04" width="38.68" height="3.34" fill="#A144AA"/>
<rect x="211.65" y="1482.03" width="38.68" height="6.32" fill="#B563B4"/>
<rect x="211.65" y="1488.00" width="38.68" height="3.32" fill="#6F7932"/>
<rect x="211.65" y="1490.97" width="38.68" height="3.32" fill="#5F682A"/>
<rect x="211.65" y="1493.94" width="38.68" height="3.32" fill="#8A2D9A"/>
<rect x="211.65" y="1496.91" width="38.68" height="3.32" fill="#5F682A"/>
<rect x="211.65" y="1499.88" width="38.68" height="3.32" fill="#0B090B"/>
<rect x="211.65" y="1502.85" width="38.68" height="3.32" fill="#5F682A"/>
<rect x="211.65" y="1505.82" width="38.68" height="3.32" fill="#6F2680"/>
<rect x="211.65" y="1508.79" width="38.68" height="3.32" fill="#B563B4"/>
<rect x="211.65" y="1511.76" width="38.68" height="3.32" fill="#B4C03C"/>
<rect x="211.65" y="1514.72" width="38.68" height="3.32" fill="#A144AA"/>
<rect x="211.65" y="1517.69" width="38.68" height="3.32" fill="#0B090B"/>
<rect x="211.65" y="1520.66" width="38.68" height="3.32" fill="#8A2D9A"/>
<rect x="211.65" y="1523.63" width="38.68" height="6.29" fill="#6F7932"/>
<rect x="211.65" y="1529.57" width="38.68" height="3.32" fill="#434A1E"/>
<rect x="211.65" y="1532.54" width="38.68" height="6.29" fill="#A144AA"/>
<rect x="211.65" y="1538.48" width="38.68" height="3.32" fill="#0B090B"/>
<rect x="211.65" y="1541.45" width="38.68" height="3.32" fill="#8A2D9A"/>
<rect x="211.65" y="1544.42" width="38.68" height="6.29" fill="#2D0D35"/>
<rect x="211.65" y="1550.36" width="38.68" height="3.32" fill="#5F682A"/>
<rect x="211.65" y="1553.33" width="38.68" height="3.32" fill="#6F2680"/>
<rect x="211.65" y="1556.30" width="38.68" height="3.32" fill="#4B1758"/>
<rect x="211.65" y="1559.27" width="38.68" height="3.32" fill="#0B090B"/>
<rect x="211.65" y="1562.24" width="38.68" height="3.32" fill="#A144AA"/>
<rect x="211.65" y="1565.21" width="38.68" height="3.32" fill="#0B090B"/>
<rect x="211.65" y="1568.17" width="38.68" height="3.32" fill="#5F682A"/>
<rect x="211.65" y="1571.14" width="38.68" height="3.32" fill="#8A2D9A"/>
<rect x="211.65" y="1574.11" width="38.68" height="3.32" fill="#4B1758"/>
<rect x="211.65" y="1577.08" width="38.68" height="3.32" fill="#A144AA"/>
<rect x="211.65" y="1580.05" width="38.68" height="3.32" fill="#8A2D9A"/>
<rect x="211.65" y="1583.02" width="38.68" height="3.32" fill="#0B090B"/>
<rect x="211.65" y="1585.99" width="38.68" height="3.32" fill="#2D0D35"/>
<rect x="211.65" y="1588.96" width="38.68" height="3.32" fill="#A144AA"/>
<rect x="211.65" y="1591.93" width="38.68" height="7.32" fill="#B563B4"/>
<rect x="249.93" y="956.00" width="38.68" height="10.29" fill="#6F7932"/>
<rect x="249.93" y="965.94" width="38.68" height="3.32" fill="#929D3A"/>
<rect x="249.93" y="968.91" width="38.68" height="9.26" fill="#6F7932"/>
<rect x="249.93" y="977.83" width="38.68" height="3.32" fill="#B4C03C"/>
<rect x="249.93" y="980.80" width="38.68" height="6.29" fill="#23260F"/>
<rect x="249.93" y="986.74" width="38.68" height="6.29" fill="#929D3A"/>
<rect x="249.93" y="992.69" width="38.68" height="6.29" fill="#5F682A"/>
<rect x="249.93" y="998.63" width="38.68" height="6.29" fill="#929D3A"/>
<rect x="249.93" y="1004.57" width="38.68" height="3.32" fill="#5F682A"/>
<rect x="249.93" y="1007.54" width="38.68" height="9.26" fill="#929D3A"/>
<rect x="249.93" y="1016.46" width="38.68" height="3.32" fill="#5F682A"/>
<rect x="249.93" y="1019.43" width="38.68" height="3.32" fill="#23260F"/>
<rect x="249.93" y="1022.40" width="38.68" height="3.32" fill="#6F7932"/>
<rect x="249.93" y="1025.37" width="38.68" height="3.32" fill="#23260F"/>
<rect x="249.93" y="1028.34" width="38.68" height="6.29" fill="#B4C03C"/>
<rect x="249.93" y="1034.29" width="38.68" height="3.32" fill="#0B090B"/>
<rect x="249.93" y="1037.26" width="38.68" height="3.32" fill="#929D3A"/>
<rect x="249.93" y="1040.23" width="38.68" height="9.26" fill="#5F682A"/>
<rect x="249.93" y="1049.14" width="38.68" height="6.29" fill="#929D3A"/>
<rect x="249.93" y="1055.09" width="38.68" height="6.29" fill="#434A1E"/>
<rect x="249.93" y="1061.03" width="38.68" height="3.32" fill="#0B090B"/>
<rect x="249.93" y="1064.00" width="38.68" height="3.38" fill="#23260F"/>
<rect x="249.93" y="1067.03" width="38.68" height="6.41" fill="#D9E93C"/>
<rect x="249.93" y="1073.09" width="38.68" height="3.38" fill="#6F7932"/>
<rect x="249.93" y="1076.11" width="38.68" height="3.38" fill="#B4C03C"/>
<rect x="249.93" y="1079.14" width="38.68" height="3.38" fill="#6F7932"/>
<rect x="249.93" y="1082.17" width="38.68" height="3.38" fill="#929D3A"/>
<rect x="249.93" y="1085.20" width="38.68" height="3.38" fill="#6F7932"/>
<rect x="249.93" y="1088.23" width="38.68" height="6.41" fill="#434A1E"/>
<rect x="249.93" y="1094.29" width="38.68" height="3.38" fill="#0B090B"/>
<rect x="249.93" y="1097.31" width="38.68" height="6.41" fill="#5F682A"/>
<rect x="249.93" y="1103.37" width="38.68" height="3.38" fill="#0B090B"/>
<rect x="249.93" y="1106.40" width="38.68" height="3.38" fill="#434A1E"/>
<rect x="249.93" y="1109.43" width="38.68" height="3.38" fill="#D9E93C"/>
<rect x="249.93" y="1112.46" width="38.68" height="3.38" fill="#0B090B"/>
<rect x="249.93" y="1115.49" width="38.68" height="3.38" fill="#434A1E"/>
<rect x="249.93" y="1118.51" width="38.68" height="3.38" fill="#929D3A"/>
<rect x="249.93" y="1121.54" width="38.68" height="6.41" fill="#0B090B"/>
<rect x="249.93" y="1127.60" width="38.68" height="3.38" fill="#B4C03C"/>
<rect x="249.93" y="1130.63" width="38.68" height="3.38" fill="#D9E93C"/>
<rect x="249.93" y="1133.66" width="38.68" height="3.38" fill="#B4C03C"/>
<rect x="249.93" y="1136.69" width="38.68" height="3.38" fill="#6F2680"/>
<rect x="249.93" y="1139.71" width="38.68" height="3.38" fill="#929D3A"/>
<rect x="249.93" y="1142.74" width="38.68" height="3.38" fill="#434A1E"/>
<rect x="249.93" y="1145.77" width="38.68" height="3.38" fill="#6F2680"/>
<rect x="249.93" y="1148.80" width="38.68" height="3.38" fill="#434A1E"/>
<rect x="249.93" y="1151.83" width="38.68" height="3.38" fill="#929D3A"/>
<rect x="249.93" y="1154.86" width="38.68" height="3.38" fill="#2D0D35"/>
<rect x="249.93" y="1157.89" width="38.68" height="6.41" fill="#929D3A"/>
<rect x="249.93" y="1163.94" width="38.68" height="3.38" fill="#D9E93C"/>
<rect x="249.93" y="1166.97" width="38.68" height="3.38" fill="#0B090B"/>
<rect x="249.93" y="1170.00" width="38.68" height="1.84" fill="#D9E93C"/>
<rect x="249.93" y="1171.49" width="38.68" height="6.32" fill="#23260F"/>
<rect x="249.93" y="1177.46" width="38.68" height="3.34" fill="#B4C03C"/>
<rect x="249.93" y="1180.45" width="38.68" height="3.34" fill="#B563B4"/>
<rect x="249.93" y="1183.44" width="38.68" height="3.34" fill="#D9E93C"/>
<rect x="249.93" y="1186.42" width="38.68" height="3.34" fill="#929D3A"/>
<rect x="249.93" y="1189.41" width="38.68" height="3.34" fill="#6F7932"/>
<rect x="249.93" y="1192.39" width="38.68" height="3.34" fill="#6F2680"/>
<rect x="249.93" y="1195.38" width="38.68" height="3.34" fill="#4B1758"/>
<rect x="249.93" y="1198.37" width="38.68" height="3.34" fill="#6F7932"/>
<rect x="249.93" y="1201.35" width="38.68" height="3.34" fill="#A144AA"/>
<rect x="249.93" y="1204.34" width="38.68" height="3.34" fill="#23260F"/>
<rect x="249.93" y="1207.32" width="38.68" height="3.34" fill="#D9E93C"/>
<rect x="249.93" y="1210.31" width="38.68" height="3.34" fill="#6F2680"/>
<rect x="249.93" y="1213.30" width="38.68" height="3.34" fill="#B4C03C"/>
<rect x="249.93" y="1216.28" width="38.68" height="3.34" fill="#0B090B"/>
<rect x="249.93" y="1219.27" width="38.68" height="3.34" fill="#6F2680"/>
<rect x="249.93" y="1222.25" width="38.68" height="3.34" fill="#929D3A"/>
<rect x="249.93" y="1225.24" width="38.68" height="3.34" fill="#0B090B"/>
<rect x="249.93" y="1228.23" width="38.68" height="3.34" fill="#B4C03C"/>
<rect x="249.93" y="1231.21" width="38.68" height="3.34" fill="#D9E93C"/>
<rect x="249.93" y="1234.20" width="38.68" height="3.34" fill="#6F2680"/>
<rect x="249.93" y="1237.18" width="38.68" height="3.34" fill="#D9E93C"/>
<rect x="249.93" y="1240.17" width="38.68" height="3.34" fill="#434A1E"/>
<rect x="249.93" y="1243.15" width="38.68" height="3.34" fill="#6F2680"/>
<rect x="249.93" y="1246.14" width="38.68" height="3.34" fill="#6F7932"/>
<rect x="249.93" y="1249.13" width="38.68" height="3.34" fill="#0B090B"/>
<rect x="249.93" y="1252.11" width="38.68" height="6.32" fill="#8A2D9A"/>
<rect x="249.93" y="1258.08" width="38.68" height="6.32" fill="#B4C03C"/>
<rect x="249.93" y="1264.06" width="38.68" height="3.34" fill="#929D3A"/>
<rect x="249.93" y="1267.04" width="38.68" height="3.34" fill="#434A1E"/>
<rect x="249.93" y="1270.03" width="38.68" height="3.34" fill="#4B1758"/>
<rect x="249.93" y="1273.01" width="38.68" height="3.34" fill="#B4C03C"/>
<rect x="249.93" y="1276.00" width="38.68" height="3.29" fill="#929D3A"/>
<rect x="249.93" y="1278.94" width="38.68" height="3.29" fill="#2D0D35"/>
<rect x="249.93" y="1281.89" width="38.68" height="3.29" fill="#0B090B"/>
<rect x="249.93" y="1284.83" width="38.68" height="3.29" fill="#929D3A"/>
<rect x="249.93" y="1287.78" width="38.68" height="3.29" fill="#6F7932"/>
<rect x="249.93" y="1290.72" width="38.68" height="3.29" fill="#D9E93C"/>
<rect x="249.93" y="1293.67" width="38.68" height="3.29" fill="#0B090B"/>
<rect x="249.93" y="1296.61" width="38.68" height="3.29" fill="#A144AA"/>
<rect x="249.93" y="1299.56" width="38.68" height="3.29" fill="#B4C03C"/>
<rect x="249.93" y="1302.50" width="38.68" height="3.29" fill="#2D0D35"/>
<rect x="249.93" y="1305.44" width="38.68" height="3.29" fill="#6F7932"/>
<rect x="249.93" y="1308.39" width="38.68" height="3.29" fill="#5F682A"/>
<rect x="249.93" y="1311.33" width="38.68" height="3.29" fill="#4B1758"/>
<rect x="249.93" y="1314.28" width="38.68" height="3.29" fill="#0B090B"/>
<rect x="249.93" y="1317.22" width="38.68" height="6.24" fill="#929D3A"/>
<rect x="249.93" y="1323.11" width="38.68" height="3.29" fill="#0B090B"/>
<rect x="249.93" y="1326.06" width="38.68" height="3.29" fill="#8A2D9A"/>
<rect x="249.93" y="1329.00" width="38.68" height="3.29" fill="#6F2680"/>
<rect x="249.93" y="1331.94" width="38.68" height="6.24" fill="#8A2D9A"/>
<rect x="249.93" y="1337.83" width="38.68" height="3.29" fill="#4B1758"/>
<rect x="249.93" y="1340.78" width="38.68" height="6.24" fill="#5F682A"/>
<rect x="249.93" y="1346.67" width="38.68" height="3.29" fill="#4B1758"/>
<rect x="249.93" y="1349.61" width="38.68" height="3.29" fill="#2D0D35"/>
<rect x="249.93" y="1352.56" width="38.68" height="3.29" fill="#6F2680"/>
<rect x="249.93" y="1355.50" width="38.68" height="3.29" fill="#929D3A"/>
<rect x="249.93" y="1358.44" width="38.68" height="3.29" fill="#2D0D35"/>
<rect x="249.93" y="1361.39" width="38.68" height="3.29" fill="#0B090B"/>
<rect x="249.93" y="1364.33" width="38.68" height="3.29" fill="#6F2680"/>
<rect x="249.93" y="1367.28" width="38.68" height="3.29" fill="#5F682A"/>
<rect x="249.93" y="1370.22" width="38.68" height="6.24" fill="#0B090B"/>
<rect x="249.93" y="1376.11" width="38.68" height="3.29" fill="#D9E93C"/>
<rect x="249.93" y="1379.06" width="38.68" height="3.29" fill="#0B090B"/>
<rect x="249.93" y="1382.00" width="38.68" height="1.80" fill="#A144AA"/>
<rect x="249.93" y="1383.45" width="38.68" height="3.25" fill="#2D0D35"/>
<rect x="249.93" y="1386.36" width="38.68" height="3.25" fill="#4B1758"/>
<rect x="249.93" y="1389.26" width="38.68" height="3.25" fill="#6F2680"/>
<rect x="249.93" y="1392.16" width="38.68" height="3.25" fill="#0B090B"/>
<rect x="249.93" y="1395.07" width="38.68" height="3.25" fill="#8A2D9A"/>
<rect x="249.93" y="1397.97" width="38.68" height="3.25" fill="#A144AA"/>
<rect x="249.93" y="1400.88" width="38.68" height="3.25" fill="#2D0D35"/>
<rect x="249.93" y="1403.78" width="38.68" height="3.25" fill="#434A1E"/>
<rect x="249.93" y="1406.68" width="38.68" height="3.25" fill="#5F682A"/>
<rect x="249.93" y="1409.59" width="38.68" height="3.25" fill="#B563B4"/>
<rect x="249.93" y="1412.49" width="38.68" height="3.25" fill="#929D3A"/>
<rect x="249.93" y="1415.40" width="38.68" height="3.25" fill="#A144AA"/>
<rect x="249.93" y="1418.30" width="38.68" height="3.25" fill="#0B090B"/>
<rect x="249.93" y="1421.21" width="38.68" height="6.16" fill="#D9E93C"/>
<rect x="249.93" y="1427.01" width="38.68" height="3.25" fill="#4B1758"/>
<rect x="249.93" y="1429.92" width="38.68" height="6.16" fill="#6F2680"/>
<rect x="249.93" y="1435.73" width="38.68" height="3.25" fill="#0B090B"/>
<rect x="249.93" y="1438.63" width="38.68" height="3.25" fill="#B563B4"/>
<rect x="249.93" y="1441.53" width="38.68" height="3.25" fill="#A144AA"/>
<rect x="249.93" y="1444.44" width="38.68" height="3.25" fill="#6F2680"/>
<rect x="249.93" y="1447.34" width="38.68" height="3.25" fill="#0B090B"/>
<rect x="249.93" y="1450.25" width="38.68" height="3.25" fill="#2D0D35"/>
<rect x="249.93" y="1453.15" width="38.68" height="3.25" fill="#B563B4"/>
<rect x="249.93" y="1456.05" width="38.68" height="3.25" fill="#A144AA"/>
<rect x="249.93" y="1458.96" width="38.68" height="3.25" fill="#5F682A"/>
<rect x="249.93" y="1461.86" width="38.68" height="3.25" fill="#8A2D9A"/>
<rect x="249.93" y="1464.77" width="38.68" height="3.25" fill="#0B090B"/>
<rect x="249.93" y="1467.67" width="38.68" height="6.16" fill="#23260F"/>
<rect x="249.93" y="1473.48" width="38.68" height="9.06" fill="#0B090B"/>
<rect x="249.93" y="1482.19" width="38.68" height="6.16" fill="#23260F"/>
<rect x="249.93" y="1488.00" width="38.68" height="3.32" fill="#4B1758"/>
<rect x="249.93" y="1490.97" width="38.68" height="3.32" fill="#6F2680"/>
<rect x="249.93" y="1493.94" width="38.68" height="3.32" fill="#0B090B"/>
<rect x="249.93" y="1496.91" width="38.68" height="3.32" fill="#2D0D35"/>
<rect x="249.93" y="1499.88" width="38.68" height="3.32" fill="#A144AA"/>
<rect x="249.93" y="1502.85" width="38.68" height="6.29" fill="#8A2D9A"/>
<rect x="249.93" y="1508.79" width="38.68" height="3.32" fill="#0B090B"/>
<rect x="249.93" y="1511.76" width="38.68" height="3.32" fill="#2D0D35"/>
<rect x="249.93" y="1514.72" width="38.68" height="3.32" fill="#6F2680"/>
<rect x="249.93" y="1517.69" width="38.68" height="3.32" fill="#0B090B"/>
<rect x="249.93" y="1520.66" width="38.68" height="3.32" fill="#434A1E"/>
<rect x="249.93" y="1523.63" width="38.68" height="6.29" fill="#0B090B"/>
<rect x="249.93" y="1529.57" width="38.68" height="3.32" fill="#B563B4"/>
<rect x="249.93" y="1532.54" width="38.68" height="3.32" fill="#A144AA"/>
<rect x="249.93" y="1535.51" width="38.68" height="3.32" fill="#2D0D35"/>
<rect x="249.93" y="1538.48" width="38.68" height="3.32" fill="#434A1E"/>
<rect x="249.93" y="1541.45" width="38.68" height="6.29" fill="#A144AA"/>
<rect x="249.93" y="1547.39" width="38.68" height="3.32" fill="#8A2D9A"/>
<rect x="249.93" y="1550.36" width="38.68" height="3.32" fill="#0B090B"/>
<rect x="249.93" y="1553.33" width="38.68" height="3.32" fill="#23260F"/>
<rect x="249.93" y="1556.30" width="38.68" height="9.26" fill="#0B090B"/>
<rect x="249.93" y="1565.21" width="38.68" height="3.32" fill="#2D0D35"/>
<rect x="249.93" y="1568.17" width="38.68" height="3.32" fill="#B563B4"/>
<rect x="249.93" y="1571.14" width="38.68" height="3.32" fill="#6F2680"/>
<rect x="249.93" y="1574.11" width="38.68" height="3.32" fill="#4B1758"/>
<rect x="249.93" y="1577.08" width="38.68" height="3.32" fill="#434A1E"/>
<rect x="249.93" y="1580.05" width="38.68" height="3.32" fill="#8A2D9A"/>
<rect x="249.93" y="1583.02" width="38.68" height="3.32" fill="#5F682A"/>
<rect x="249.93" y="1585.99" width="38.68" height="3.32" fill="#B563B4"/>
<rect x="249.93" y="1588.96" width="38.68" height="3.32" fill="#0B090B"/>
<rect x="249.93" y="1591.93" width="38.68" height="7.32" fill="#5F682A"/>
<rect x="288.22" y="956.00" width="38.28" height="10.29" fill="#5F682A"/>
<rect x="288.22" y="965.94" width="38.28" height="12.24" fill="#434A1E"/>
<rect x="288.22" y="977.83" width="38.28" height="3.32" fill="#23260F"/>
<rect x="288.22" y="980.80" width="38.28" height="3.32" fill="#929D3A"/>
<rect x="288.22" y="983.77" width="38.28" height="3.32" fill="#434A1E"/>
<rect x="288.22" y="986.74" width="38.28" height="9.26" fill="#5F682A"/>
<rect x="288.22" y="995.66" width="38.28" height="3.32" fill="#929D3A"/>
<rect x="288.22" y="998.63" width="38.28" height="6.29" fill="#23260F"/>
<rect x="288.22" y="1004.57" width="38.28" height="3.32" fill="#5F682A"/>
<rect x="288.22" y="1007.54" width="38.28" height="6.29" fill="#23260F"/>
<rect x="288.22" y="1013.49" width="38.28" height="3.32" fill="#5F682A"/>
<rect x="288.22" y="1016.46" width="38.28" height="3.32" fill="#0B090B"/>
<rect x="288.22" y="1019.43" width="38.28" height="6.29" fill="#6F7932"/>
<rect x="288.22" y="1025.37" width="38.28" height="3.32" fill="#B4C03C"/>
<rect x="288.22" y="1028.34" width="38.28" height="3.32" fill="#0B090B"/>
<rect x="288.22" y="1031.31" width="38.28" height="3.32" fill="#23260F"/>
<rect x="288.22" y="1034.29" width="38.28" height="3.32" fill="#929D3A"/>
<rect x="288.22" y="1037.26" width="38.28" height="6.29" fill="#23260F"/>
<rect x="288.22" y="1043.20" width="38.28" height="3.32" fill="#929D3A"/>
<rect x="288.22" y="1046.17" width="38.28" height="3.32" fill="#0B090B"/>
<rect x="288.22" y="1049.14" width="38.28" height="9.26" fill="#6F7932"/>
<rect x="288.22" y="1058.06" width="38.28" height="9.32" fill="#5F682A"/>
<rect x="288.22" y="1067.03" width="38.28" height="6.41" fill="#0B090B"/>
<rect x="288.22" y="1073.09" width="38.28" height="3.38" fill="#6F7932"/>
<rect x="288.22" y="1076.11" width="38.28" height="3.38" fill="#5F682A"/>
<rect x="288.22" y="1079.14" width="38.28" height="3.38" fill="#0B090B"/>
<rect x="288.22" y="1082.17" width="38.28" height="3.38" fill="#929D3A"/>
<rect x="288.22" y="1085.20" width="38.28" height="3.38" fill="#0B090B"/>
<rect x="288.22" y="1088.23" width="38.28" height="3.38" fill="#2D0D35"/>
<rect x="288.22" y="1091.26" width="38.28" height="6.41" fill="#0B090B"/>
<rect x="288.22" y="1097.31" width="38.28" height="3.38" fill="#6F7932"/>
<rect x="288.22" y="1100.34" width="38.28" height="9.44" fill="#434A1E"/>
<rect x="288.22" y="1109.43" width="38.28" height="3.38" fill="#0B090B"/>
<rect x="288.22" y="1112.46" width="38.28" height="3.38" fill="#5F682A"/>
<rect x="288.22" y="1115.49" width="38.28" height="3.38" fill="#434A1E"/>
<rect x="288.22" y="1118.51" width="38.28" height="3.38" fill="#2D0D35"/>
<rect x="288.22" y="1121.54" width="38.28" height="3.38" fill="#434A1E"/>
<rect x="288.22" y="1124.57" width="38.28" height="3.38" fill="#5F682A"/>
<rect x="288.22" y="1127.60" width="38.28" height="3.38" fill="#434A1E"/>
<rect x="288.22" y="1130.63" width="38.28" height="6.41" fill="#23260F"/>
<rect x="288.22" y="1136.69" width="38.28" height="3.38" fill="#A144AA"/>
<rect x="288.22" y="1139.71" width="38.28" height="3.38" fill="#0B090B"/>
<rect x="288.22" y="1142.74" width="38.28" height="3.38" fill="#23260F"/>
<rect x="288.22" y="1145.77" width="38.28" height="3.38" fill="#D9E93C"/>
<rect x="288.22" y="1148.80" width="38.28" height="3.38" fill="#B4C03C"/>
<rect x="288.22" y="1151.83" width="38.28" height="9.44" fill="#5F682A"/>
<rect x="288.22" y="1160.91" width="38.28" height="3.38" fill="#0B090B"/>
<rect x="288.22" y="1163.94" width="38.28" height="3.38" fill="#A144AA"/>
<rect x="288.22" y="1166.97" width="38.28" height="3.38" fill="#929D3A"/>
<rect x="288.22" y="1170.00" width="38.28" height="3.38" fill="#434A1E"/>
<rect x="288.22" y="1173.03" width="38.28" height="3.38" fill="#B4C03C"/>
<rect x="288.22" y="1176.06" width="38.28" height="6.41" fill="#434A1E"/>
<rect x="288.22" y="1182.11" width="38.28" height="3.38" fill="#0B090B"/>
<rect x="288.22" y="1185.14" width="38.28" height="6.41" fill="#434A1E"/>
<rect x="288.22" y="1191.20" width="38.28" height="3.38" fill="#6F2680"/>
<rect x="288.22" y="1194.23" width="38.28" height="6.41" fill="#929D3A"/>
<rect x="288.22" y="1200.29" width="38.28" height="3.38" fill="#0B090B"/>
<rect x="288.22" y="1203.31" width="38.28" height="3.38" fill="#A144AA"/>
<rect x="288.22" y="1206.34" width="38.28" height="3.38" fill="#5F682A"/>
<rect x="288.22" y="1209.37" width="38.28" height="3.38" fill="#0B090B"/>
<rect x="288.22" y="1212.40" width="38.28" height="3.38" fill="#4B1758"/>
<rect x="288.22" y="1215.43" width="38.28" height="3.38" fill="#2D0D35"/>
<rect x="288.22" y="1218.46" width="38.28" height="3.38" fill="#6F2680"/>
<rect x="288.22" y="1221.49" width="38.28" height="3.38" fill="#4B1758"/>
<rect x="288.22" y="1224.51" width="38.28" height="3.38" fill="#929D3A"/>
<rect x="288.22" y="1227.54" width="38.28" height="3.38" fill="#6F7932"/>
<rect x="288.22" y="1230.57" width="38.28" height="3.38" fill="#4B1758"/>
<rect x="288.22" y="1233.60" width="38.28" height="3.38" fill="#929D3A"/>
<rect x="288.22" y="1236.63" width="38.28" height="3.38" fill="#434A1E"/>
<rect x="288.22" y="1239.66" width="38.28" height="3.38" fill="#D9E93C"/>
<rect x="288.22" y="1242.69" width="38.28" height="3.38" fill="#2D0D35"/>
<rect x="288.22" y="1245.71" width="38.28" height="3.38" fill="#4B1758"/>
<rect x="288.22" y="1248.74" width="38.28" height="3.38" fill="#A144AA"/>
<rect x="288.22" y="1251.77" width="38.28" height="3.38" fill="#D9E93C"/>
<rect x="288.22" y="1254.80" width="38.28" height="3.38" fill="#A144AA"/>
<rect x="288.22" y="1257.83" width="38.28" height="3.38" fill="#6F2680"/>
<rect x="288.22" y="1260.86" width="38.28" height="3.38" fill="#5F682A"/>
<rect x="288.22" y="1263.89" width="38.28" height="3.38" fill="#4B1758"/>
<rect x="288.22" y="1266.91" width="38.28" height="3.38" fill="#434A1E"/>
<rect x="288.22" y="1269.94" width="38.28" height="6.41" fill="#0B090B"/>
<rect x="288.22" y="1276.00" width="38.28" height="3.38" fill="#5F682A"/>
<rect x="288.22" y="1279.03" width="38.28" height="3.38" fill="#B4C03C"/>
<rect x="288.22" y="1282.06" width="38.28" height="3.38" fill="#23260F"/>
<rect x="288.22" y="1285.09" width="38.28" height="3.38" fill="#0B090B"/>
<rect x="288.22" y="1288.11" width="38.28" height="3.38" fill="#A144AA"/>
<rect x="288.22" y="1291.14" width="38.28" height="3.38" fill="#0B090B"/>
<rect x="288.22" y="1294.17" width="38.28" height="3.38" fill="#6F7932"/>
<rect x="288.22" y="1297.20" width="38.28" height="6.41" fill="#2D0D35"/>
<rect x="288.22" y="1303.26" width="38.28" height="3.38" fill="#6F2680"/>
<rect x="288.22" y="1306.29" width="38.28" height="3.38" fill="#2D0D35"/>
<rect x="288.22" y="1309.31" width="38.28" height="3.38" fill="#A144AA"/>
<rect x="288.22" y="1312.34" width="38.28" height="3.38" fill="#8A2D9A"/>
<rect x="288.22" y="1315.37" width="38.28" height="3.38" fill="#6F7932"/>
<rect x="288.22" y="1318.40" width="38.28" height="3.38" fill="#434A1E"/>
<rect x="288.22" y="1321.43" width="38.28" height="3.38" fill="#0B090B"/>
<rect x="288.22" y="1324.46" width="38.28" height="3.38" fill="#B4C03C"/>
<rect x="288.22" y="1327.49" width="38.28" height="3.38" fill="#929D3A"/>
<rect x="288.22" y="1330.51" width="38.28" height="3.38" fill="#8A2D9A"/>
<rect x="288.22" y="1333.54" width="38.28" height="3.38" fill="#A144AA"/>
<rect x="288.22" y="1336.57" width="38.28" height="3.38" fill="#2D0D35"/>
<rect x="288.22" y="1339.60" width="38.28" height="3.38" fill="#B4C03C"/>
<rect x="288.22" y="1342.63" width="38.28" height="3.38" fill="#0B090B"/>
<rect x="288.22" y="1345.66" width="38.28" height="3.38" fill="#A144AA"/>
<rect x="288.22" y="1348.69" width="38.28" height="3.38" fill="#D9E93C"/>
<rect x="288.22" y="1351.71" width="38.28" height="3.38" fill="#0B090B"/>
<rect x="288.22" y="1354.74" width="38.28" height="9.44" fill="#23260F"/>
<rect x="288.22" y="1363.83" width="38.28" height="3.38" fill="#0B090B"/>
<rect x="288.22" y="1366.86" width="38.28" height="6.41" fill="#2D0D35"/>
<rect x="288.22" y="1372.91" width="38.28" height="3.38" fill="#8A2D9A"/>
<rect x="288.22" y="1375.94" width="38.28" height="3.38" fill="#23260F"/>
<rect x="288.22" y="1378.97" width="38.28" height="3.38" fill="#2D0D35"/>
<rect x="288.22" y="1382.00" width="38.28" height="1.76" fill="#434A1E"/>
<rect x="288.22" y="1383.41" width="38.28" height="3.18" fill="#8A2D9A"/>
<rect x="288.22" y="1386.24" width="38.28" height="3.18" fill="#0B090B"/>
<rect x="288.22" y="1389.07" width="38.28" height="3.18" fill="#A144AA"/>
<rect x="288.22" y="1391.89" width="38.28" height="3.18" fill="#0B090B"/>
<rect x="288.22" y="1394.72" width="38.28" height="6.00" fill="#434A1E"/>
<rect x="288.22" y="1400.37" width="38.28" height="3.18" fill="#0B090B"/>
<rect x="288.22" y="1403.20" width="38.28" height="3.18" fill="#B563B4"/>
<rect x="288.22" y="1406.03" width="38.28" height="3.18" fill="#5F682A"/>
<rect x="288.22" y="1408.85" width="38.28" height="3.18" fill="#434A1E"/>
<rect x="288.22" y="1411.68" width="38.28" height="3.18" fill="#23260F"/>
<rect x="288.22" y="1414.51" width="38.28" height="3.18" fill="#0B090B"/>
<rect x="288.22" y="1417.33" width="38.28" height="3.18" fill="#4B1758"/>
<rect x="288.22" y="1420.16" width="38.28" height="3.18" fill="#2D0D35"/>
<rect x="288.22" y="1422.99" width="38.28" height="3.18" fill="#4B1758"/>
<rect x="288.22" y="1425.81" width="38.28" height="6.00" fill="#6F2680"/>
<rect x="288.22" y="1431.47" width="38.28" height="3.18" fill="#0B090B"/>
<rect x="288.22" y="1434.29" width="38.28" height="3.18" fill="#A144AA"/>
<rect x="288.22" y="1437.12" width="38.28" height="6.00" fill="#2D0D35"/>
<rect x="288.22" y="1442.77" width="38.28" height="6.00" fill="#4B1758"/>
<rect x="288.22" y="1448.43" width="38.28" height="3.18" fill="#2D0D35"/>
<rect x="288.22" y="1451.25" width="38.28" height="3.18" fill="#8A2D9A"/>
<rect x="288.22" y="1454.08" width="38.28" height="3.18" fill="#5F682A"/>
<rect x="288.22" y="1456.91" width="38.28" height="3.18" fill="#D9E93C"/>
<rect x="288.22" y="1459.73" width="38.28" height="3.18" fill="#0B090B"/>
<rect x="288.22" y="1462.56" width="38.28" height="3.18" fill="#B4C03C"/>
<rect x="288.22" y="1465.39" width="38.28" height="3.18" fill="#0B090B"/>
<rect x="288.22" y="1468.21" width="38.28" height="3.18" fill="#8A2D9A"/>
<rect x="288.22" y="1471.04" width="38.28" height="3.18" fill="#A144AA"/>
<rect x="288.22" y="1473.87" width="38.28" height="3.18" fill="#8A2D9A"/>
<rect x="288.22" y="1476.69" width="38.28" height="3.18" fill="#4B1758"/>
<rect x="288.22" y="1479.52" width="38.28" height="3.18" fill="#2D0D35"/>
<rect x="288.22" y="1482.35" width="38.28" height="3.18" fill="#6F2680"/>
<rect x="288.22" y="1485.17" width="38.28" height="3.18" fill="#4B1758"/>
<rect x="288.22" y="1488.00" width="38.28" height="6.29" fill="#6F2680"/>
<rect x="288.22" y="1493.94" width="38.28" height="3.32" fill="#8A2D9A"/>
<rect x="288.22" y="1496.91" width="38.28" height="3.32" fill="#B563B4"/>
<rect x="288.22" y="1499.88" width="38.28" height="3.32" fill="#6F2680"/>
<rect x="288.22" y="1502.85" width="38.28" height="3.32" fill="#B563B4"/>
<rect x="288.22" y="1505.82" width="38.28" height="3.32" fill="#0B090B"/>
<rect x="288.22" y="1508.79" width="38.28" height="3.32" fill="#5F682A"/>
<rect x="288.22" y="1511.76" width="38.28" height="3.32" fill="#A144AA"/>
<rect x="288.22" y="1514.72" width="38.28" height="3.32" fill="#5F682A"/>
<rect x="288.22" y="1517.69" width="38.28" height="3.32" fill="#A144AA"/>
<rect x="288.22" y="1520.66" width="38.28" height="3.32" fill="#434A1E"/>
<rect x="288.22" y="1523.63" width="38.28" height="6.29" fill="#A144AA"/>
<rect x="288.22" y="1529.57" width="38.28" height="3.32" fill="#4B1758"/>
<rect x="288.22" y="1532.54" width="38.28" height="3.32" fill="#929D3A"/>
<rect x="288.22" y="1535.51" width="38.28" height="3.32" fill="#0B090B"/>
<rect x="288.22" y="1538.48" width="38.28" height="3.32" fill="#B563B4"/>
<rect x="288.22" y="1541.45" width="38.28" height="3.32" fill="#434A1E"/>
<rect x="288.22" y="1544.42" width="38.28" height="3.32" fill="#6F2680"/>
<rect x="288.22" y="1547.39" width="38.28" height="3.32" fill="#4B1758"/>
<rect x="288.22" y="1550.36" width="38.28" height="3.32" fill="#A144AA"/>
<rect x="288.22" y="1553.33" width="38.28" height="3.32" fill="#4B1758"/>
<rect x="288.22" y="1556.30" width="38.28" height="3.32" fill="#0B090B"/>
<rect x="288.22" y="1559.27" width="38.28" height="3.32" fill="#B563B4"/>
<rect x="288.22" y="1562.24" width="38.28" height="6.29" fill="#2D0D35"/>
<rect x="288.22" y="1568.17" width="38.28" height="3.32" fill="#4B1758"/>
<rect x="288.22" y="1571.14" width="38.28" height="3.32" fill="#434A1E"/>
<rect x="288.22" y="1574.11" width="38.28" height="3.32" fill="#B563B4"/>
<rect x="288.22" y="1577.08" width="38.28" height="3.32" fill="#5F682A"/>
<rect x="288.22" y="1580.05" width="38.28" height="3.32" fill="#0B090B"/>
<rect x="288.22" y="1583.02" width="38.28" height="3.32" fill="#B563B4"/>
<rect x="288.22" y="1585.99" width="38.28" height="3.32" fill="#5F682A"/>
<rect x="288.22" y="1588.96" width="38.28" height="3.32" fill="#0B090B"/>
<rect x="288.22" y="1591.93" width="38.28" height="7.32" fill="#4B1758"/>
</g></g>
</g>
<g id="heat-b2">
<rect x="352.1" y="939.4" width="114.95" height="12.30" fill="#E96D6E"/>
<rect x="467.05" y="939.4" width="114.95" height="12.30" fill="#5FCDC3"/>
<clipPath id="clip-heat-b2"><rect x="352.1" y="961.9" width="229.90" height="631.10"/></clipPath>
<g clip-path="url(#clip-heat-b2)"><g filter="url(#soft2)">
<rect x="352.1" y="957.9" width="229.90" height="639.10" fill="#2a1a2c"/>
<rect x="352.10" y="957.90" width="38.72" height="9.40" fill="#8A2D9A"/>
<rect x="352.10" y="966.95" width="38.72" height="10.44" fill="#6F2680"/>
<rect x="352.10" y="977.04" width="38.72" height="5.40" fill="#8A2D9A"/>
<rect x="352.10" y="982.08" width="38.72" height="5.40" fill="#2D0D35"/>
<rect x="352.10" y="987.13" width="38.72" height="5.40" fill="#4B1758"/>
<rect x="352.10" y="992.17" width="38.72" height="5.40" fill="#A144AA"/>
<rect x="352.10" y="997.22" width="38.72" height="5.40" fill="#2D0D35"/>
<rect x="352.10" y="1002.26" width="38.72" height="5.40" fill="#A144AA"/>
<rect x="352.10" y="1007.31" width="38.72" height="5.40" fill="#8A2D9A"/>
<rect x="352.10" y="1012.35" width="38.72" height="5.40" fill="#6F2680"/>
<rect x="352.10" y="1017.40" width="38.72" height="5.40" fill="#A144AA"/>
<rect x="352.10" y="1022.44" width="38.72" height="10.44" fill="#0B090B"/>
<rect x="352.10" y="1032.53" width="38.72" height="5.40" fill="#A144AA"/>
<rect x="352.10" y="1037.58" width="38.72" height="10.44" fill="#8A2D9A"/>
<rect x="352.10" y="1047.67" width="38.72" height="5.40" fill="#6F2680"/>
<rect x="352.10" y="1052.71" width="38.72" height="5.40" fill="#0B090B"/>
<rect x="352.10" y="1057.76" width="38.72" height="5.40" fill="#6F7932"/>
<rect x="352.10" y="1062.80" width="38.72" height="5.40" fill="#0B090B"/>
<rect x="352.10" y="1067.85" width="38.72" height="5.40" fill="#8A2D9A"/>
<rect x="352.10" y="1072.89" width="38.72" height="5.40" fill="#0B090B"/>
<rect x="352.10" y="1077.94" width="38.72" height="5.40" fill="#2D0D35"/>
<rect x="352.10" y="1082.98" width="38.72" height="5.40" fill="#4B1758"/>
<rect x="352.10" y="1088.03" width="38.72" height="5.40" fill="#2D0D35"/>
<rect x="352.10" y="1093.07" width="38.72" height="5.40" fill="#B563B4"/>
<rect x="352.10" y="1098.12" width="38.72" height="5.40" fill="#4B1758"/>
<rect x="352.10" y="1103.16" width="38.72" height="5.40" fill="#2D0D35"/>
<rect x="352.10" y="1108.21" width="38.72" height="10.44" fill="#A144AA"/>
<rect x="352.10" y="1118.30" width="38.72" height="5.39" fill="#23260F"/>
<rect x="352.10" y="1123.34" width="38.72" height="5.39" fill="#4B1758"/>
<rect x="352.10" y="1128.38" width="38.72" height="5.39" fill="#6F2680"/>
<rect x="352.10" y="1133.43" width="38.72" height="5.39" fill="#8A2D9A"/>
<rect x="352.10" y="1138.47" width="38.72" height="10.43" fill="#A144AA"/>
<rect x="352.10" y="1148.55" width="38.72" height="5.39" fill="#0B090B"/>
<rect x="352.10" y="1153.59" width="38.72" height="5.39" fill="#4B1758"/>
<rect x="352.10" y="1158.64" width="38.72" height="5.39" fill="#23260F"/>
<rect x="352.10" y="1163.68" width="38.72" height="5.39" fill="#434A1E"/>
<rect x="352.10" y="1168.72" width="38.72" height="5.39" fill="#0B090B"/>
<rect x="352.10" y="1173.76" width="38.72" height="5.39" fill="#434A1E"/>
<rect x="352.10" y="1178.80" width="38.72" height="15.48" fill="#B563B4"/>
<rect x="352.10" y="1193.93" width="38.72" height="5.39" fill="#5F682A"/>
<rect x="352.10" y="1198.97" width="38.72" height="5.39" fill="#434A1E"/>
<rect x="352.10" y="1204.01" width="38.72" height="5.39" fill="#A144AA"/>
<rect x="352.10" y="1209.05" width="38.72" height="5.39" fill="#23260F"/>
<rect x="352.10" y="1214.10" width="38.72" height="5.39" fill="#A144AA"/>
<rect x="352.10" y="1219.14" width="38.72" height="5.39" fill="#2D0D35"/>
<rect x="352.10" y="1224.18" width="38.72" height="5.39" fill="#A144AA"/>
<rect x="352.10" y="1229.22" width="38.72" height="5.39" fill="#B4C03C"/>
<rect x="352.10" y="1234.26" width="38.72" height="10.43" fill="#2D0D35"/>
<rect x="352.10" y="1244.35" width="38.72" height="5.39" fill="#4B1758"/>
<rect x="352.10" y="1249.39" width="38.72" height="15.48" fill="#A144AA"/>
<rect x="352.10" y="1264.52" width="38.72" height="5.39" fill="#4B1758"/>
<rect x="352.10" y="1269.56" width="38.72" height="5.39" fill="#6F2680"/>
<rect x="352.10" y="1274.60" width="38.72" height="10.51" fill="#6F7932"/>
<rect x="352.10" y="1284.76" width="38.72" height="5.43" fill="#D9E93C"/>
<rect x="352.10" y="1289.84" width="38.72" height="5.43" fill="#0B090B"/>
<rect x="352.10" y="1294.92" width="38.72" height="5.43" fill="#A144AA"/>
<rect x="352.10" y="1300.00" width="38.72" height="5.43" fill="#0B090B"/>
<rect x="352.10" y="1305.08" width="38.72" height="5.43" fill="#6F7932"/>
<rect x="352.10" y="1310.16" width="38.72" height="5.43" fill="#8A2D9A"/>
<rect x="352.10" y="1315.25" width="38.72" height="10.51" fill="#2D0D35"/>
<rect x="352.10" y="1325.41" width="38.72" height="5.43" fill="#6F2680"/>
<rect x="352.10" y="1330.49" width="38.72" height="5.43" fill="#0B090B"/>
<rect x="352.10" y="1335.57" width="38.72" height="5.43" fill="#2D0D35"/>
<rect x="352.10" y="1340.65" width="38.72" height="5.43" fill="#0B090B"/>
<rect x="352.10" y="1345.73" width="38.72" height="10.51" fill="#2D0D35"/>
<rect x="352.10" y="1355.89" width="38.72" height="5.43" fill="#6F2680"/>
<rect x="352.10" y="1360.97" width="38.72" height="5.43" fill="#8A2D9A"/>
<rect x="352.10" y="1366.05" width="38.72" height="5.43" fill="#6F2680"/>
<rect x="352.10" y="1371.13" width="38.72" height="5.43" fill="#2D0D35"/>
<rect x="352.10" y="1376.21" width="38.72" height="5.43" fill="#434A1E"/>
<rect x="352.10" y="1381.29" width="38.72" height="5.43" fill="#0B090B"/>
<rect x="352.10" y="1386.37" width="38.72" height="5.43" fill="#5F682A"/>
<rect x="352.10" y="1391.45" width="38.72" height="5.43" fill="#D9E93C"/>
<rect x="352.10" y="1396.54" width="38.72" height="5.43" fill="#6F2680"/>
<rect x="352.10" y="1401.62" width="38.72" height="5.43" fill="#23260F"/>
<rect x="352.10" y="1406.70" width="38.72" height="5.43" fill="#A144AA"/>
<rect x="352.10" y="1411.78" width="38.72" height="5.43" fill="#929D3A"/>
<rect x="352.10" y="1416.86" width="38.72" height="5.43" fill="#5F682A"/>
<rect x="352.10" y="1421.94" width="38.72" height="5.43" fill="#0B090B"/>
<rect x="352.10" y="1427.02" width="38.72" height="5.43" fill="#2D0D35"/>
<rect x="352.10" y="1432.10" width="38.72" height="5.38" fill="#4B1758"/>
<rect x="352.10" y="1437.13" width="38.72" height="5.38" fill="#6F2680"/>
<rect x="352.10" y="1442.16" width="38.72" height="5.38" fill="#4B1758"/>
<rect x="352.10" y="1447.18" width="38.72" height="5.38" fill="#5F682A"/>
<rect x="352.10" y="1452.21" width="38.72" height="10.41" fill="#6F2680"/>
<rect x="352.10" y="1462.27" width="38.72" height="5.38" fill="#434A1E"/>
<rect x="352.10" y="1467.30" width="38.72" height="5.38" fill="#0B090B"/>
<rect x="352.10" y="1472.33" width="38.72" height="5.38" fill="#2D0D35"/>
<rect x="352.10" y="1477.35" width="38.72" height="5.38" fill="#23260F"/>
<rect x="352.10" y="1482.38" width="38.72" height="10.41" fill="#2D0D35"/>
<rect x="352.10" y="1492.44" width="38.72" height="5.38" fill="#6F7932"/>
<rect x="352.10" y="1497.47" width="38.72" height="10.41" fill="#434A1E"/>
<rect x="352.10" y="1507.52" width="38.72" height="5.38" fill="#6F2680"/>
<rect x="352.10" y="1512.55" width="38.72" height="5.38" fill="#434A1E"/>
<rect x="352.10" y="1517.58" width="38.72" height="5.38" fill="#2D0D35"/>
<rect x="352.10" y="1522.61" width="38.72" height="5.38" fill="#4B1758"/>
<rect x="352.10" y="1527.63" width="38.72" height="5.38" fill="#A144AA"/>
<rect x="352.10" y="1532.66" width="38.72" height="5.38" fill="#6F7932"/>
<rect x="352.10" y="1537.69" width="38.72" height="5.38" fill="#D9E93C"/>
<rect x="352.10" y="1542.72" width="38.72" height="5.38" fill="#6F2680"/>
<rect x="352.10" y="1547.75" width="38.72" height="5.38" fill="#0B090B"/>
<rect x="352.10" y="1552.78" width="38.72" height="5.38" fill="#B4C03C"/>
<rect x="352.10" y="1557.80" width="38.72" height="5.38" fill="#23260F"/>
<rect x="352.10" y="1562.83" width="38.72" height="5.38" fill="#B4C03C"/>
<rect x="352.10" y="1567.86" width="38.72" height="5.38" fill="#4B1758"/>
<rect x="352.10" y="1572.89" width="38.72" height="15.43" fill="#2D0D35"/>
<rect x="352.10" y="1587.97" width="38.72" height="9.38" fill="#A144AA"/>
<rect x="390.42" y="957.90" width="38.72" height="9.40" fill="#8A2D9A"/>
<rect x="390.42" y="966.95" width="38.72" height="10.44" fill="#6F2680"/>
<rect x="390.42" y="977.04" width="38.72" height="5.40" fill="#8A2D9A"/>
<rect x="390.42" y="982.08" width="38.72" height="5.40" fill="#6F2680"/>
<rect x="390.42" y="987.13" width="38.72" height="5.40" fill="#A144AA"/>
<rect x="390.42" y="992.17" width="38.72" height="5.40" fill="#4B1758"/>
<rect x="390.42" y="997.22" width="38.72" height="5.40" fill="#6F2680"/>
<rect x="390.42" y="1002.26" width="38.72" height="10.44" fill="#8A2D9A"/>
<rect x="390.42" y="1012.35" width="38.72" height="5.40" fill="#A144AA"/>
<rect x="390.42" y="1017.40" width="38.72" height="5.40" fill="#6F2680"/>
<rect x="390.42" y="1022.44" width="38.72" height="5.40" fill="#6F7932"/>
<rect x="390.42" y="1027.49" width="38.72" height="5.40" fill="#8A2D9A"/>
<rect x="390.42" y="1032.53" width="38.72" height="5.40" fill="#4B1758"/>
<rect x="390.42" y="1037.58" width="38.72" height="5.40" fill="#2D0D35"/>
<rect x="390.42" y="1042.62" width="38.72" height="5.40" fill="#A144AA"/>
<rect x="390.42" y="1047.67" width="38.72" height="5.40" fill="#0B090B"/>
<rect x="390.42" y="1052.71" width="38.72" height="5.40" fill="#6F2680"/>
<rect x="390.42" y="1057.76" width="38.72" height="5.40" fill="#6F7932"/>
<rect x="390.42" y="1062.80" width="38.72" height="5.40" fill="#6F2680"/>
<rect x="390.42" y="1067.85" width="38.72" height="5.40" fill="#0B090B"/>
<rect x="390.42" y="1072.89" width="38.72" height="5.40" fill="#6F2680"/>
<rect x="390.42" y="1077.94" width="38.72" height="5.40" fill="#A144AA"/>
<rect x="390.42" y="1082.98" width="38.72" height="5.40" fill="#8A2D9A"/>
<rect x="390.42" y="1088.03" width="38.72" height="5.40" fill="#6F2680"/>
<rect x="390.42" y="1093.07" width="38.72" height="5.40" fill="#6F7932"/>
<rect x="390.42" y="1098.12" width="38.72" height="5.40" fill="#4B1758"/>
<rect x="390.42" y="1103.16" width="38.72" height="5.40" fill="#A144AA"/>
<rect x="390.42" y="1108.21" width="38.72" height="15.48" fill="#0B090B"/>
<rect x="390.42" y="1123.34" width="38.72" height="5.39" fill="#A144AA"/>
<rect x="390.42" y="1128.38" width="38.72" height="5.39" fill="#2D0D35"/>
<rect x="390.42" y="1133.43" width="38.72" height="5.39" fill="#4B1758"/>
<rect x="390.42" y="1138.47" width="38.72" height="10.43" fill="#8A2D9A"/>
<rect x="390.42" y="1148.55" width="38.72" height="5.39" fill="#6F2680"/>
<rect x="390.42" y="1153.59" width="38.72" height="5.39" fill="#0B090B"/>
<rect x="390.42" y="1158.64" width="38.72" height="5.39" fill="#A144AA"/>
<rect x="390.42" y="1163.68" width="38.72" height="5.39" fill="#5F682A"/>
<rect x="390.42" y="1168.72" width="38.72" height="5.39" fill="#6F2680"/>
<rect x="390.42" y="1173.76" width="38.72" height="5.39" fill="#B4C03C"/>
<rect x="390.42" y="1178.80" width="38.72" height="15.48" fill="#0B090B"/>
<rect x="390.42" y="1193.93" width="38.72" height="5.39" fill="#6F7932"/>
<rect x="390.42" y="1198.97" width="38.72" height="5.39" fill="#5F682A"/>
<rect x="390.42" y="1204.01" width="38.72" height="5.39" fill="#8A2D9A"/>
<rect x="390.42" y="1209.05" width="38.72" height="5.39" fill="#B4C03C"/>
<rect x="390.42" y="1214.10" width="38.72" height="5.39" fill="#929D3A"/>
<rect x="390.42" y="1219.14" width="38.72" height="5.39" fill="#2D0D35"/>
<rect x="390.42" y="1224.18" width="38.72" height="5.39" fill="#4B1758"/>
<rect x="390.42" y="1229.22" width="38.72" height="5.39" fill="#0B090B"/>
<rect x="390.42" y="1234.26" width="38.72" height="10.43" fill="#2D0D35"/>
<rect x="390.42" y="1244.35" width="38.72" height="5.39" fill="#5F682A"/>
<rect x="390.42" y="1249.39" width="38.72" height="5.39" fill="#6F2680"/>
<rect x="390.42" y="1254.43" width="38.72" height="5.39" fill="#A144AA"/>
<rect x="390.42" y="1259.47" width="38.72" height="5.39" fill="#929D3A"/>
<rect x="390.42" y="1264.52" width="38.72" height="5.39" fill="#A144AA"/>
<rect x="390.42" y="1269.56" width="38.72" height="5.39" fill="#0B090B"/>
<rect x="390.42" y="1274.60" width="38.72" height="5.43" fill="#2D0D35"/>
<rect x="390.42" y="1279.68" width="38.72" height="5.43" fill="#434A1E"/>
<rect x="390.42" y="1284.76" width="38.72" height="5.43" fill="#2D0D35"/>
<rect x="390.42" y="1289.84" width="38.72" height="5.43" fill="#434A1E"/>
<rect x="390.42" y="1294.92" width="38.72" height="5.43" fill="#5F682A"/>
<rect x="390.42" y="1300.00" width="38.72" height="5.43" fill="#929D3A"/>
<rect x="390.42" y="1305.08" width="38.72" height="5.43" fill="#0B090B"/>
<rect x="390.42" y="1310.16" width="38.72" height="5.43" fill="#23260F"/>
<rect x="390.42" y="1315.25" width="38.72" height="5.43" fill="#5F682A"/>
<rect x="390.42" y="1320.33" width="38.72" height="5.43" fill="#0B090B"/>
<rect x="390.42" y="1325.41" width="38.72" height="5.43" fill="#2D0D35"/>
<rect x="390.42" y="1330.49" width="38.72" height="5.43" fill="#B4C03C"/>
<rect x="390.42" y="1335.57" width="38.72" height="5.43" fill="#929D3A"/>
<rect x="390.42" y="1340.65" width="38.72" height="5.43" fill="#5F682A"/>
<rect x="390.42" y="1345.73" width="38.72" height="5.43" fill="#23260F"/>
<rect x="390.42" y="1350.81" width="38.72" height="10.51" fill="#929D3A"/>
<rect x="390.42" y="1360.97" width="38.72" height="5.43" fill="#2D0D35"/>
<rect x="390.42" y="1366.05" width="38.72" height="5.43" fill="#B4C03C"/>
<rect x="390.42" y="1371.13" width="38.72" height="5.43" fill="#2D0D35"/>
<rect x="390.42" y="1376.21" width="38.72" height="5.43" fill="#B4C03C"/>
<rect x="390.42" y="1381.29" width="38.72" height="5.43" fill="#6F2680"/>
<rect x="390.42" y="1386.37" width="38.72" height="5.43" fill="#0B090B"/>
<rect x="390.42" y="1391.45" width="38.72" height="5.43" fill="#5F682A"/>
<rect x="390.42" y="1396.54" width="38.72" height="5.43" fill="#6F7932"/>
<rect x="390.42" y="1401.62" width="38.72" height="5.43" fill="#B4C03C"/>
<rect x="390.42" y="1406.70" width="38.72" height="5.43" fill="#4B1758"/>
<rect x="390.42" y="1411.78" width="38.72" height="5.43" fill="#8A2D9A"/>
<rect x="390.42" y="1416.86" width="38.72" height="5.43" fill="#0B090B"/>
<rect x="390.42" y="1421.94" width="38.72" height="5.43" fill="#A144AA"/>
<rect x="390.42" y="1427.02" width="38.72" height="5.43" fill="#4B1758"/>
<rect x="390.42" y="1432.10" width="38.72" height="5.38" fill="#2D0D35"/>
<rect x="390.42" y="1437.13" width="38.72" height="5.38" fill="#23260F"/>
<rect x="390.42" y="1442.16" width="38.72" height="5.38" fill="#434A1E"/>
<rect x="390.42" y="1447.18" width="38.72" height="5.38" fill="#929D3A"/>
<rect x="390.42" y="1452.21" width="38.72" height="5.38" fill="#0B090B"/>
<rect x="390.42" y="1457.24" width="38.72" height="5.38" fill="#2D0D35"/>
<rect x="390.42" y="1462.27" width="38.72" height="5.38" fill="#B563B4"/>
<rect x="390.42" y="1467.30" width="38.72" height="5.38" fill="#2D0D35"/>
<rect x="390.42" y="1472.33" width="38.72" height="5.38" fill="#B4C03C"/>
<rect x="390.42" y="1477.35" width="38.72" height="5.38" fill="#6F7932"/>
<rect x="390.42" y="1482.38" width="38.72" height="5.38" fill="#2D0D35"/>
<rect x="390.42" y="1487.41" width="38.72" height="5.38" fill="#B4C03C"/>
<rect x="390.42" y="1492.44" width="38.72" height="5.38" fill="#5F682A"/>
<rect x="390.42" y="1497.47" width="38.72" height="5.38" fill="#6F7932"/>
<rect x="390.42" y="1502.49" width="38.72" height="5.38" fill="#B4C03C"/>
<rect x="390.42" y="1507.52" width="38.72" height="5.38" fill="#2D0D35"/>
<rect x="390.42" y="1512.55" width="38.72" height="5.38" fill="#0B090B"/>
<rect x="390.42" y="1517.58" width="38.72" height="5.38" fill="#6F7932"/>
<rect x="390.42" y="1522.61" width="38.72" height="5.38" fill="#B4C03C"/>
<rect x="390.42" y="1527.63" width="38.72" height="5.38" fill="#929D3A"/>
<rect x="390.42" y="1532.66" width="38.72" height="5.38" fill="#4B1758"/>
<rect x="390.42" y="1537.69" width="38.72" height="5.38" fill="#0B090B"/>
<rect x="390.42" y="1542.72" width="38.72" height="5.38" fill="#B4C03C"/>
<rect x="390.42" y="1547.75" width="38.72" height="5.38" fill="#2D0D35"/>
<rect x="390.42" y="1552.78" width="38.72" height="5.38" fill="#6F2680"/>
<rect x="390.42" y="1557.80" width="38.72" height="5.38" fill="#0B090B"/>
<rect x="390.42" y="1562.83" width="38.72" height="5.38" fill="#23260F"/>
<rect x="390.42" y="1567.86" width="38.72" height="5.38" fill="#0B090B"/>
<rect x="390.42" y="1572.89" width="38.72" height="5.38" fill="#2D0D35"/>
<rect x="390.42" y="1577.92" width="38.72" height="10.41" fill="#D9E93C"/>
<rect x="390.42" y="1587.97" width="38.72" height="9.38" fill="#6F7932"/>
<rect x="428.73" y="957.90" width="38.72" height="9.40" fill="#2D0D35"/>
<rect x="428.73" y="966.95" width="38.72" height="10.44" fill="#8A2D9A"/>
<rect x="428.73" y="977.04" width="38.72" height="5.40" fill="#6F2680"/>
<rect x="428.73" y="982.08" width="38.72" height="5.40" fill="#A144AA"/>
<rect x="428.73" y="987.13" width="38.72" height="5.40" fill="#8A2D9A"/>
<rect x="428.73" y="992.17" width="38.72" height="5.40" fill="#6F2680"/>
<rect x="428.73" y="997.22" width="38.72" height="5.40" fill="#A144AA"/>
<rect x="428.73" y="1002.26" width="38.72" height="5.40" fill="#2D0D35"/>
<rect x="428.73" y="1007.31" width="38.72" height="5.40" fill="#4B1758"/>
<rect x="428.73" y="1012.35" width="38.72" height="5.40" fill="#2D0D35"/>
<rect x="428.73" y="1017.40" width="38.72" height="5.40" fill="#0B090B"/>
<rect x="428.73" y="1022.44" width="38.72" height="5.40" fill="#929D3A"/>
<rect x="428.73" y="1027.49" width="38.72" height="5.40" fill="#A144AA"/>
<rect x="428.73" y="1032.53" width="38.72" height="5.40" fill="#2D0D35"/>
<rect x="428.73" y="1037.58" width="38.72" height="5.40" fill="#6F2680"/>
<rect x="428.73" y="1042.62" width="38.72" height="5.40" fill="#0B090B"/>
<rect x="428.73" y="1047.67" width="38.72" height="5.40" fill="#A144AA"/>
<rect x="428.73" y="1052.71" width="38.72" height="5.40" fill="#4B1758"/>
<rect x="428.73" y="1057.76" width="38.72" height="5.40" fill="#6F7932"/>
<rect x="428.73" y="1062.80" width="38.72" height="5.40" fill="#A144AA"/>
<rect x="428.73" y="1067.85" width="38.72" height="10.44" fill="#8A2D9A"/>
<rect x="428.73" y="1077.94" width="38.72" height="10.44" fill="#6F2680"/>
<rect x="428.73" y="1088.03" width="38.72" height="5.40" fill="#A144AA"/>
<rect x="428.73" y="1093.07" width="38.72" height="5.40" fill="#0B090B"/>
<rect x="428.73" y="1098.12" width="38.72" height="5.40" fill="#A144AA"/>
<rect x="428.73" y="1103.16" width="38.72" height="15.49" fill="#6F2680"/>
<rect x="428.73" y="1118.30" width="38.72" height="5.39" fill="#8A2D9A"/>
<rect x="428.73" y="1123.34" width="38.72" height="5.39" fill="#0B090B"/>
<rect x="428.73" y="1128.38" width="38.72" height="5.39" fill="#A144AA"/>
<rect x="428.73" y="1133.43" width="38.72" height="5.39" fill="#8A2D9A"/>
<rect x="428.73" y="1138.47" width="38.72" height="5.39" fill="#5F682A"/>
<rect x="428.73" y="1143.51" width="38.72" height="5.39" fill="#434A1E"/>
<rect x="428.73" y="1148.55" width="38.72" height="5.39" fill="#6F2680"/>
<rect x="428.73" y="1153.59" width="38.72" height="5.39" fill="#8A2D9A"/>
<rect x="428.73" y="1158.64" width="38.72" height="5.39" fill="#A144AA"/>
<rect x="428.73" y="1163.68" width="38.72" height="5.39" fill="#929D3A"/>
<rect x="428.73" y="1168.72" width="38.72" height="5.39" fill="#434A1E"/>
<rect x="428.73" y="1173.76" width="38.72" height="10.43" fill="#0B090B"/>
<rect x="428.73" y="1183.85" width="38.72" height="5.39" fill="#4B1758"/>
<rect x="428.73" y="1188.89" width="38.72" height="5.39" fill="#23260F"/>
<rect x="428.73" y="1193.93" width="38.72" height="5.39" fill="#5F682A"/>
<rect x="428.73" y="1198.97" width="38.72" height="5.39" fill="#B4C03C"/>
<rect x="428.73" y="1204.01" width="38.72" height="5.39" fill="#5F682A"/>
<rect x="428.73" y="1209.05" width="38.72" height="5.39" fill="#434A1E"/>
<rect x="428.73" y="1214.10" width="38.72" height="5.39" fill="#6F2680"/>
<rect x="428.73" y="1219.14" width="38.72" height="5.39" fill="#5F682A"/>
<rect x="428.73" y="1224.18" width="38.72" height="5.39" fill="#23260F"/>
<rect x="428.73" y="1229.22" width="38.72" height="5.39" fill="#6F7932"/>
<rect x="428.73" y="1234.26" width="38.72" height="5.39" fill="#0B090B"/>
<rect x="428.73" y="1239.31" width="38.72" height="5.39" fill="#4B1758"/>
<rect x="428.73" y="1244.35" width="38.72" height="5.39" fill="#A144AA"/>
<rect x="428.73" y="1249.39" width="38.72" height="5.39" fill="#0B090B"/>
<rect x="428.73" y="1254.43" width="38.72" height="5.39" fill="#434A1E"/>
<rect x="428.73" y="1259.47" width="38.72" height="5.39" fill="#2D0D35"/>
<rect x="428.73" y="1264.52" width="38.72" height="5.39" fill="#6F2680"/>
<rect x="428.73" y="1269.56" width="38.72" height="5.39" fill="#4B1758"/>
<rect x="428.73" y="1274.60" width="38.72" height="5.43" fill="#929D3A"/>
<rect x="428.73" y="1279.68" width="38.72" height="5.43" fill="#6F7932"/>
<rect x="428.73" y="1284.76" width="38.72" height="5.43" fill="#0B090B"/>
<rect x="428.73" y="1289.84" width="38.72" height="5.43" fill="#A144AA"/>
<rect x="428.73" y="1294.92" width="38.72" height="5.43" fill="#0B090B"/>
<rect x="428.73" y="1300.00" width="38.72" height="5.43" fill="#2D0D35"/>
<rect x="428.73" y="1305.08" width="38.72" height="5.43" fill="#6F7932"/>
<rect x="428.73" y="1310.16" width="38.72" height="5.43" fill="#0B090B"/>
<rect x="428.73" y="1315.25" width="38.72" height="5.43" fill="#B4C03C"/>
<rect x="428.73" y="1320.33" width="38.72" height="5.43" fill="#D9E93C"/>
<rect x="428.73" y="1325.41" width="38.72" height="5.43" fill="#23260F"/>
<rect x="428.73" y="1330.49" width="38.72" height="5.43" fill="#0B090B"/>
<rect x="428.73" y="1335.57" width="38.72" height="5.43" fill="#434A1E"/>
<rect x="428.73" y="1340.65" width="38.72" height="5.43" fill="#6F7932"/>
<rect x="428.73" y="1345.73" width="38.72" height="5.43" fill="#0B090B"/>
<rect x="428.73" y="1350.81" width="38.72" height="5.43" fill="#5F682A"/>
<rect x="428.73" y="1355.89" width="38.72" height="10.51" fill="#929D3A"/>
<rect x="428.73" y="1366.05" width="38.72" height="5.43" fill="#6F2680"/>
<rect x="428.73" y="1371.13" width="38.72" height="5.43" fill="#2D0D35"/>
<rect x="428.73" y="1376.21" width="38.72" height="5.43" fill="#8A2D9A"/>
<rect x="428.73" y="1381.29" width="38.72" height="5.43" fill="#B4C03C"/>
<rect x="428.73" y="1386.37" width="38.72" height="5.43" fill="#8A2D9A"/>
<rect x="428.73" y="1391.45" width="38.72" height="5.43" fill="#6F2680"/>
<rect x="428.73" y="1396.54" width="38.72" height="5.43" fill="#929D3A"/>
<rect x="428.73" y="1401.62" width="38.72" height="5.43" fill="#0B090B"/>
<rect x="428.73" y="1406.70" width="38.72" height="5.43" fill="#5F682A"/>
<rect x="428.73" y="1411.78" width="38.72" height="5.43" fill="#23260F"/>
<rect x="428.73" y="1416.86" width="38.72" height="5.43" fill="#2D0D35"/>
<rect x="428.73" y="1421.94" width="38.72" height="5.43" fill="#6F7932"/>
<rect x="428.73" y="1427.02" width="38.72" height="5.43" fill="#D9E93C"/>
<rect x="428.73" y="1432.10" width="38.72" height="5.38" fill="#B4C03C"/>
<rect x="428.73" y="1437.13" width="38.72" height="5.38" fill="#434A1E"/>
<rect x="428.73" y="1442.16" width="38.72" height="5.38" fill="#23260F"/>
<rect x="428.73" y="1447.18" width="38.72" height="5.38" fill="#6F2680"/>
<rect x="428.73" y="1452.21" width="38.72" height="5.38" fill="#6F7932"/>
<rect x="428.73" y="1457.24" width="38.72" height="5.38" fill="#D9E93C"/>
<rect x="428.73" y="1462.27" width="38.72" height="5.38" fill="#B4C03C"/>
<rect x="428.73" y="1467.30" width="38.72" height="5.38" fill="#6F7932"/>
<rect x="428.73" y="1472.33" width="38.72" height="5.38" fill="#2D0D35"/>
<rect x="428.73" y="1477.35" width="38.72" height="5.38" fill="#434A1E"/>
<rect x="428.73" y="1482.38" width="38.72" height="5.38" fill="#D9E93C"/>
<rect x="428.73" y="1487.41" width="38.72" height="5.38" fill="#6F7932"/>
<rect x="428.73" y="1492.44" width="38.72" height="5.38" fill="#2D0D35"/>
<rect x="428.73" y="1497.47" width="38.72" height="5.38" fill="#434A1E"/>
<rect x="428.73" y="1502.49" width="38.72" height="5.38" fill="#0B090B"/>
<rect x="428.73" y="1507.52" width="38.72" height="10.41" fill="#B4C03C"/>
<rect x="428.73" y="1517.58" width="38.72" height="5.38" fill="#8A2D9A"/>
<rect x="428.73" y="1522.61" width="38.72" height="5.38" fill="#929D3A"/>
<rect x="428.73" y="1527.63" width="38.72" height="5.38" fill="#434A1E"/>
<rect x="428.73" y="1532.66" width="38.72" height="10.41" fill="#6F2680"/>
<rect x="428.73" y="1542.72" width="38.72" height="5.38" fill="#0B090B"/>
<rect x="428.73" y="1547.75" width="38.72" height="5.38" fill="#B4C03C"/>
<rect x="428.73" y="1552.78" width="38.72" height="5.38" fill="#2D0D35"/>
<rect x="428.73" y="1557.80" width="38.72" height="5.38" fill="#0B090B"/>
<rect x="428.73" y="1562.83" width="38.72" height="5.38" fill="#4B1758"/>
<rect x="428.73" y="1567.86" width="38.72" height="5.38" fill="#B4C03C"/>
<rect x="428.73" y="1572.89" width="38.72" height="5.38" fill="#D9E93C"/>
<rect x="428.73" y="1577.92" width="38.72" height="10.41" fill="#2D0D35"/>
<rect x="428.73" y="1587.97" width="38.72" height="9.38" fill="#5F682A"/>
<rect x="467.05" y="957.90" width="38.72" height="9.40" fill="#5F682A"/>
<rect x="467.05" y="966.95" width="38.72" height="5.40" fill="#434A1E"/>
<rect x="467.05" y="971.99" width="38.72" height="5.40" fill="#6F7932"/>
<rect x="467.05" y="977.04" width="38.72" height="5.40" fill="#5F682A"/>
<rect x="467.05" y="982.08" width="38.72" height="5.40" fill="#434A1E"/>
<rect x="467.05" y="987.13" width="38.72" height="5.40" fill="#929D3A"/>
<rect x="467.05" y="992.17" width="38.72" height="5.40" fill="#B4C03C"/>
<rect x="467.05" y="997.22" width="38.72" height="5.40" fill="#5F682A"/>
<rect x="467.05" y="1002.26" width="38.72" height="5.40" fill="#434A1E"/>
<rect x="467.05" y="1007.31" width="38.72" height="5.40" fill="#929D3A"/>
<rect x="467.05" y="1012.35" width="38.72" height="10.44" fill="#B4C03C"/>
<rect x="467.05" y="1022.44" width="38.72" height="5.40" fill="#8A2D9A"/>
<rect x="467.05" y="1027.49" width="38.72" height="5.40" fill="#5F682A"/>
<rect x="467.05" y="1032.53" width="38.72" height="10.44" fill="#B4C03C"/>
<rect x="467.05" y="1042.62" width="38.72" height="10.44" fill="#434A1E"/>
<rect x="467.05" y="1052.71" width="38.72" height="5.40" fill="#D9E93C"/>
<rect x="467.05" y="1057.76" width="38.72" height="5.40" fill="#4B1758"/>
<rect x="467.05" y="1062.80" width="38.72" height="5.40" fill="#0B090B"/>
<rect x="467.05" y="1067.85" width="38.72" height="5.40" fill="#5F682A"/>
<rect x="467.05" y="1072.89" width="38.72" height="10.44" fill="#B4C03C"/>
<rect x="467.05" y="1082.98" width="38.72" height="5.40" fill="#0B090B"/>
<rect x="467.05" y="1088.03" width="38.72" height="5.40" fill="#6F7932"/>
<rect x="467.05" y="1093.07" width="38.72" height="5.40" fill="#434A1E"/>
<rect x="467.05" y="1098.12" width="38.72" height="5.40" fill="#6F7932"/>
<rect x="467.05" y="1103.16" width="38.72" height="5.40" fill="#434A1E"/>
<rect x="467.05" y="1108.21" width="38.72" height="5.40" fill="#929D3A"/>
<rect x="467.05" y="1113.25" width="38.72" height="5.40" fill="#5F682A"/>
<rect x="467.05" y="1118.30" width="38.72" height="5.39" fill="#B4C03C"/>
<rect x="467.05" y="1123.34" width="38.72" height="10.43" fill="#434A1E"/>
<rect x="467.05" y="1133.43" width="38.72" height="10.43" fill="#23260F"/>
<rect x="467.05" y="1143.51" width="38.72" height="5.39" fill="#2D0D35"/>
<rect x="467.05" y="1148.55" width="38.72" height="5.39" fill="#5F682A"/>
<rect x="467.05" y="1153.59" width="38.72" height="5.39" fill="#434A1E"/>
<rect x="467.05" y="1158.64" width="38.72" height="5.39" fill="#0B090B"/>
<rect x="467.05" y="1163.68" width="38.72" height="5.39" fill="#A144AA"/>
<rect x="467.05" y="1168.72" width="38.72" height="5.39" fill="#5F682A"/>
<rect x="467.05" y="1173.76" width="38.72" height="5.39" fill="#6F2680"/>
<rect x="467.05" y="1178.80" width="38.72" height="10.43" fill="#434A1E"/>
<rect x="467.05" y="1188.89" width="38.72" height="5.39" fill="#D9E93C"/>
<rect x="467.05" y="1193.93" width="38.72" height="5.39" fill="#0B090B"/>
<rect x="467.05" y="1198.97" width="38.72" height="5.39" fill="#4B1758"/>
<rect x="467.05" y="1204.01" width="38.72" height="5.39" fill="#434A1E"/>
<rect x="467.05" y="1209.05" width="38.72" height="5.39" fill="#A144AA"/>
<rect x="467.05" y="1214.10" width="38.72" height="5.39" fill="#4B1758"/>
<rect x="467.05" y="1219.14" width="38.72" height="5.39" fill="#B563B4"/>
<rect x="467.05" y="1224.18" width="38.72" height="5.39" fill="#D9E93C"/>
<rect x="467.05" y="1229.22" width="38.72" height="5.39" fill="#8A2D9A"/>
<rect x="467.05" y="1234.26" width="38.72" height="5.39" fill="#D9E93C"/>
<rect x="467.05" y="1239.31" width="38.72" height="5.39" fill="#8A2D9A"/>
<rect x="467.05" y="1244.35" width="38.72" height="5.39" fill="#5F682A"/>
<rect x="467.05" y="1249.39" width="38.72" height="10.43" fill="#434A1E"/>
<rect x="467.05" y="1259.47" width="38.72" height="5.39" fill="#0B090B"/>
<rect x="467.05" y="1264.52" width="38.72" height="5.39" fill="#B4C03C"/>
<rect x="467.05" y="1269.56" width="38.72" height="5.39" fill="#929D3A"/>
<rect x="467.05" y="1274.60" width="38.72" height="10.51" fill="#4B1758"/>
<rect x="467.05" y="1284.76" width="38.72" height="5.43" fill="#0B090B"/>
<rect x="467.05" y="1289.84" width="38.72" height="5.43" fill="#6F2680"/>
<rect x="467.05" y="1294.92" width="38.72" height="5.43" fill="#4B1758"/>
<rect x="467.05" y="1300.00" width="38.72" height="5.43" fill="#5F682A"/>
<rect x="467.05" y="1305.08" width="38.72" height="5.43" fill="#6F2680"/>
<rect x="467.05" y="1310.16" width="38.72" height="5.43" fill="#23260F"/>
<rect x="467.05" y="1315.25" width="38.72" height="5.43" fill="#4B1758"/>
<rect x="467.05" y="1320.33" width="38.72" height="5.43" fill="#6F2680"/>
<rect x="467.05" y="1325.41" width="38.72" height="5.43" fill="#2D0D35"/>
<rect x="467.05" y="1330.49" width="38.72" height="5.43" fill="#4B1758"/>
<rect x="467.05" y="1335.57" width="38.72" height="5.43" fill="#A144AA"/>
<rect x="467.05" y="1340.65" width="38.72" height="5.43" fill="#8A2D9A"/>
<rect x="467.05" y="1345.73" width="38.72" height="5.43" fill="#B4C03C"/>
<rect x="467.05" y="1350.81" width="38.72" height="5.43" fill="#0B090B"/>
<rect x="467.05" y="1355.89" width="38.72" height="5.43" fill="#6F2680"/>
<rect x="467.05" y="1360.97" width="38.72" height="5.43" fill="#A144AA"/>
<rect x="467.05" y="1366.05" width="38.72" height="5.43" fill="#8A2D9A"/>
<rect x="467.05" y="1371.13" width="38.72" height="5.43" fill="#2D0D35"/>
<rect x="467.05" y="1376.21" width="38.72" height="5.43" fill="#0B090B"/>
<rect x="467.05" y="1381.29" width="38.72" height="5.43" fill="#23260F"/>
<rect x="467.05" y="1386.37" width="38.72" height="5.43" fill="#0B090B"/>
<rect x="467.05" y="1391.45" width="38.72" height="5.43" fill="#4B1758"/>
<rect x="467.05" y="1396.54" width="38.72" height="5.43" fill="#8A2D9A"/>
<rect x="467.05" y="1401.62" width="38.72" height="5.43" fill="#6F2680"/>
<rect x="467.05" y="1406.70" width="38.72" height="5.43" fill="#0B090B"/>
<rect x="467.05" y="1411.78" width="38.72" height="5.43" fill="#8A2D9A"/>
<rect x="467.05" y="1416.86" width="38.72" height="5.43" fill="#B4C03C"/>
<rect x="467.05" y="1421.94" width="38.72" height="5.43" fill="#929D3A"/>
<rect x="467.05" y="1427.02" width="38.72" height="5.43" fill="#4B1758"/>
<rect x="467.05" y="1432.10" width="38.72" height="5.38" fill="#A144AA"/>
<rect x="467.05" y="1437.13" width="38.72" height="5.38" fill="#6F7932"/>
<rect x="467.05" y="1442.16" width="38.72" height="5.38" fill="#B563B4"/>
<rect x="467.05" y="1447.18" width="38.72" height="5.38" fill="#5F682A"/>
<rect x="467.05" y="1452.21" width="38.72" height="10.41" fill="#6F2680"/>
<rect x="467.05" y="1462.27" width="38.72" height="10.41" fill="#2D0D35"/>
<rect x="467.05" y="1472.33" width="38.72" height="5.38" fill="#5F682A"/>
<rect x="467.05" y="1477.35" width="38.72" height="5.38" fill="#434A1E"/>
<rect x="467.05" y="1482.38" width="38.72" height="5.38" fill="#0B090B"/>
<rect x="467.05" y="1487.41" width="38.72" height="5.38" fill="#23260F"/>
<rect x="467.05" y="1492.44" width="38.72" height="5.38" fill="#434A1E"/>
<rect x="467.05" y="1497.47" width="38.72" height="5.38" fill="#6F2680"/>
<rect x="467.05" y="1502.49" width="38.72" height="5.38" fill="#A144AA"/>
<rect x="467.05" y="1507.52" width="38.72" height="5.38" fill="#8A2D9A"/>
<rect x="467.05" y="1512.55" width="38.72" height="5.38" fill="#A144AA"/>
<rect x="467.05" y="1517.58" width="38.72" height="5.38" fill="#0B090B"/>
<rect x="467.05" y="1522.61" width="38.72" height="5.38" fill="#6F2680"/>
<rect x="467.05" y="1527.63" width="38.72" height="5.38" fill="#0B090B"/>
<rect x="467.05" y="1532.66" width="38.72" height="10.41" fill="#6F2680"/>
<rect x="467.05" y="1542.72" width="38.72" height="5.38" fill="#434A1E"/>
<rect x="467.05" y="1547.75" width="38.72" height="5.38" fill="#23260F"/>
<rect x="467.05" y="1552.78" width="38.72" height="5.38" fill="#6F2680"/>
<rect x="467.05" y="1557.80" width="38.72" height="5.38" fill="#8A2D9A"/>
<rect x="467.05" y="1562.83" width="38.72" height="5.38" fill="#4B1758"/>
<rect x="467.05" y="1567.86" width="38.72" height="20.46" fill="#2D0D35"/>
<rect x="467.05" y="1587.97" width="38.72" height="9.38" fill="#A144AA"/>
<rect x="505.37" y="957.90" width="38.72" height="9.40" fill="#6F7932"/>
<rect x="505.37" y="966.95" width="38.72" height="5.40" fill="#B4C03C"/>
<rect x="505.37" y="971.99" width="38.72" height="5.40" fill="#929D3A"/>
<rect x="505.37" y="977.04" width="38.72" height="5.40" fill="#6F7932"/>
<rect x="505.37" y="982.08" width="38.72" height="5.40" fill="#5F682A"/>
<rect x="505.37" y="987.13" width="38.72" height="5.40" fill="#434A1E"/>
<rect x="505.37" y="992.17" width="38.72" height="15.49" fill="#6F7932"/>
<rect x="505.37" y="1007.31" width="38.72" height="5.40" fill="#23260F"/>
<rect x="505.37" y="1012.35" width="38.72" height="5.40" fill="#5F682A"/>
<rect x="505.37" y="1017.40" width="38.72" height="5.40" fill="#23260F"/>
<rect x="505.37" y="1022.44" width="38.72" height="5.40" fill="#6F2680"/>
<rect x="505.37" y="1027.49" width="38.72" height="5.40" fill="#929D3A"/>
<rect x="505.37" y="1032.53" width="38.72" height="10.44" fill="#6F7932"/>
<rect x="505.37" y="1042.62" width="38.72" height="5.40" fill="#5F682A"/>
<rect x="505.37" y="1047.67" width="38.72" height="5.40" fill="#B4C03C"/>
<rect x="505.37" y="1052.71" width="38.72" height="5.40" fill="#0B090B"/>
<rect x="505.37" y="1057.76" width="38.72" height="5.40" fill="#A144AA"/>
<rect x="505.37" y="1062.80" width="38.72" height="5.40" fill="#23260F"/>
<rect x="505.37" y="1067.85" width="38.72" height="5.40" fill="#D9E93C"/>
<rect x="505.37" y="1072.89" width="38.72" height="5.40" fill="#6F7932"/>
<rect x="505.37" y="1077.94" width="38.72" height="5.40" fill="#0B090B"/>
<rect x="505.37" y="1082.98" width="38.72" height="5.40" fill="#D9E93C"/>
<rect x="505.37" y="1088.03" width="38.72" height="5.40" fill="#B4C03C"/>
<rect x="505.37" y="1093.07" width="38.72" height="10.44" fill="#434A1E"/>
<rect x="505.37" y="1103.16" width="38.72" height="5.40" fill="#929D3A"/>
<rect x="505.37" y="1108.21" width="38.72" height="10.44" fill="#5F682A"/>
<rect x="505.37" y="1118.30" width="38.72" height="5.39" fill="#434A1E"/>
<rect x="505.37" y="1123.34" width="38.72" height="5.39" fill="#929D3A"/>
<rect x="505.37" y="1128.38" width="38.72" height="5.39" fill="#0B090B"/>
<rect x="505.37" y="1133.43" width="38.72" height="5.39" fill="#D9E93C"/>
<rect x="505.37" y="1138.47" width="38.72" height="5.39" fill="#929D3A"/>
<rect x="505.37" y="1143.51" width="38.72" height="5.39" fill="#6F7932"/>
<rect x="505.37" y="1148.55" width="38.72" height="5.39" fill="#8A2D9A"/>
<rect x="505.37" y="1153.59" width="38.72" height="5.39" fill="#6F2680"/>
<rect x="505.37" y="1158.64" width="38.72" height="5.39" fill="#B4C03C"/>
<rect x="505.37" y="1163.68" width="38.72" height="5.39" fill="#4B1758"/>
<rect x="505.37" y="1168.72" width="38.72" height="5.39" fill="#929D3A"/>
<rect x="505.37" y="1173.76" width="38.72" height="5.39" fill="#A144AA"/>
<rect x="505.37" y="1178.80" width="38.72" height="5.39" fill="#B4C03C"/>
<rect x="505.37" y="1183.85" width="38.72" height="10.43" fill="#0B090B"/>
<rect x="505.37" y="1193.93" width="38.72" height="5.39" fill="#4B1758"/>
<rect x="505.37" y="1198.97" width="38.72" height="5.39" fill="#A144AA"/>
<rect x="505.37" y="1204.01" width="38.72" height="5.39" fill="#0B090B"/>
<rect x="505.37" y="1209.05" width="38.72" height="5.39" fill="#8A2D9A"/>
<rect x="505.37" y="1214.10" width="38.72" height="5.39" fill="#929D3A"/>
<rect x="505.37" y="1219.14" width="38.72" height="10.43" fill="#434A1E"/>
<rect x="505.37" y="1229.22" width="38.72" height="5.39" fill="#2D0D35"/>
<rect x="505.37" y="1234.26" width="38.72" height="5.39" fill="#434A1E"/>
<rect x="505.37" y="1239.31" width="38.72" height="5.39" fill="#D9E93C"/>
<rect x="505.37" y="1244.35" width="38.72" height="5.39" fill="#8A2D9A"/>
<rect x="505.37" y="1249.39" width="38.72" height="5.39" fill="#0B090B"/>
<rect x="505.37" y="1254.43" width="38.72" height="5.39" fill="#434A1E"/>
<rect x="505.37" y="1259.47" width="38.72" height="5.39" fill="#4B1758"/>
<rect x="505.37" y="1264.52" width="38.72" height="5.39" fill="#23260F"/>
<rect x="505.37" y="1269.56" width="38.72" height="5.39" fill="#6F7932"/>
<rect x="505.37" y="1274.60" width="38.72" height="5.43" fill="#0B090B"/>
<rect x="505.37" y="1279.68" width="38.72" height="5.43" fill="#4B1758"/>
<rect x="505.37" y="1284.76" width="38.72" height="5.43" fill="#2D0D35"/>
<rect x="505.37" y="1289.84" width="38.72" height="5.43" fill="#B4C03C"/>
<rect x="505.37" y="1294.92" width="38.72" height="5.43" fill="#929D3A"/>
<rect x="505.37" y="1300.00" width="38.72" height="5.43" fill="#434A1E"/>
<rect x="505.37" y="1305.08" width="38.72" height="5.43" fill="#23260F"/>
<rect x="505.37" y="1310.16" width="38.72" height="10.51" fill="#A144AA"/>
<rect x="505.37" y="1320.33" width="38.72" height="5.43" fill="#4B1758"/>
<rect x="505.37" y="1325.41" width="38.72" height="5.43" fill="#6F2680"/>
<rect x="505.37" y="1330.49" width="38.72" height="5.43" fill="#4B1758"/>
<rect x="505.37" y="1335.57" width="38.72" height="5.43" fill="#5F682A"/>
<rect x="505.37" y="1340.65" width="38.72" height="10.51" fill="#2D0D35"/>
<rect x="505.37" y="1350.81" width="38.72" height="5.43" fill="#A144AA"/>
<rect x="505.37" y="1355.89" width="38.72" height="5.43" fill="#6F2680"/>
<rect x="505.37" y="1360.97" width="38.72" height="5.43" fill="#434A1E"/>
<rect x="505.37" y="1366.05" width="38.72" height="5.43" fill="#5F682A"/>
<rect x="505.37" y="1371.13" width="38.72" height="5.43" fill="#D9E93C"/>
<rect x="505.37" y="1376.21" width="38.72" height="5.43" fill="#8A2D9A"/>
<rect x="505.37" y="1381.29" width="38.72" height="5.43" fill="#6F2680"/>
<rect x="505.37" y="1386.37" width="38.72" height="5.43" fill="#B4C03C"/>
<rect x="505.37" y="1391.45" width="38.72" height="5.43" fill="#2D0D35"/>
<rect x="505.37" y="1396.54" width="38.72" height="5.43" fill="#434A1E"/>
<rect x="505.37" y="1401.62" width="38.72" height="5.43" fill="#A144AA"/>
<rect x="505.37" y="1406.70" width="38.72" height="5.43" fill="#929D3A"/>
<rect x="505.37" y="1411.78" width="38.72" height="5.43" fill="#6F7932"/>
<rect x="505.37" y="1416.86" width="38.72" height="5.43" fill="#6F2680"/>
<rect x="505.37" y="1421.94" width="38.72" height="5.43" fill="#8A2D9A"/>
<rect x="505.37" y="1427.02" width="38.72" height="10.46" fill="#0B090B"/>
<rect x="505.37" y="1437.13" width="38.72" height="5.38" fill="#B563B4"/>
<rect x="505.37" y="1442.16" width="38.72" height="5.38" fill="#23260F"/>
<rect x="505.37" y="1447.18" width="38.72" height="5.38" fill="#2D0D35"/>
<rect x="505.37" y="1452.21" width="38.72" height="5.38" fill="#929D3A"/>
<rect x="505.37" y="1457.24" width="38.72" height="5.38" fill="#0B090B"/>
<rect x="505.37" y="1462.27" width="38.72" height="5.38" fill="#2D0D35"/>
<rect x="505.37" y="1467.30" width="38.72" height="5.38" fill="#B563B4"/>
<rect x="505.37" y="1472.33" width="38.72" height="5.38" fill="#8A2D9A"/>
<rect x="505.37" y="1477.35" width="38.72" height="5.38" fill="#4B1758"/>
<rect x="505.37" y="1482.38" width="38.72" height="5.38" fill="#2D0D35"/>
<rect x="505.37" y="1487.41" width="38.72" height="5.38" fill="#8A2D9A"/>
<rect x="505.37" y="1492.44" width="38.72" height="5.38" fill="#2D0D35"/>
<rect x="505.37" y="1497.47" width="38.72" height="5.38" fill="#434A1E"/>
<rect x="505.37" y="1502.49" width="38.72" height="5.38" fill="#8A2D9A"/>
<rect x="505.37" y="1507.52" width="38.72" height="10.41" fill="#0B090B"/>
<rect x="505.37" y="1517.58" width="38.72" height="5.38" fill="#929D3A"/>
<rect x="505.37" y="1522.61" width="38.72" height="5.38" fill="#4B1758"/>
<rect x="505.37" y="1527.63" width="38.72" height="5.38" fill="#A144AA"/>
<rect x="505.37" y="1532.66" width="38.72" height="5.38" fill="#6F2680"/>
<rect x="505.37" y="1537.69" width="38.72" height="5.38" fill="#5F682A"/>
<rect x="505.37" y="1542.72" width="38.72" height="5.38" fill="#B563B4"/>
<rect x="505.37" y="1547.75" width="38.72" height="5.38" fill="#23260F"/>
<rect x="505.37" y="1552.78" width="38.72" height="5.38" fill="#4B1758"/>
<rect x="505.37" y="1557.80" width="38.72" height="5.38" fill="#D9E93C"/>
<rect x="505.37" y="1562.83" width="38.72" height="5.38" fill="#5F682A"/>
<rect x="505.37" y="1567.86" width="38.72" height="5.38" fill="#434A1E"/>
<rect x="505.37" y="1572.89" width="38.72" height="15.43" fill="#2D0D35"/>
<rect x="505.37" y="1587.97" width="38.72" height="9.38" fill="#23260F"/>
<rect x="543.68" y="957.90" width="38.32" height="9.40" fill="#6F7932"/>
<rect x="543.68" y="966.95" width="38.32" height="5.40" fill="#23260F"/>
<rect x="543.68" y="971.99" width="38.32" height="10.44" fill="#434A1E"/>
<rect x="543.68" y="982.08" width="38.32" height="10.44" fill="#6F7932"/>
<rect x="543.68" y="992.17" width="38.32" height="5.40" fill="#0B090B"/>
<rect x="543.68" y="997.22" width="38.32" height="5.40" fill="#434A1E"/>
<rect x="543.68" y="1002.26" width="38.32" height="10.44" fill="#6F7932"/>
<rect x="543.68" y="1012.35" width="38.32" height="5.40" fill="#0B090B"/>
<rect x="543.68" y="1017.40" width="38.32" height="5.40" fill="#5F682A"/>
<rect x="543.68" y="1022.44" width="38.32" height="5.40" fill="#6F2680"/>
<rect x="543.68" y="1027.49" width="38.32" height="5.40" fill="#23260F"/>
<rect x="543.68" y="1032.53" width="38.32" height="5.40" fill="#0B090B"/>
<rect x="543.68" y="1037.58" width="38.32" height="5.40" fill="#2D0D35"/>
<rect x="543.68" y="1042.62" width="38.32" height="5.40" fill="#6F7932"/>
<rect x="543.68" y="1047.67" width="38.32" height="5.40" fill="#0B090B"/>
<rect x="543.68" y="1052.71" width="38.32" height="5.40" fill="#2D0D35"/>
<rect x="543.68" y="1057.76" width="38.32" height="5.40" fill="#8A2D9A"/>
<rect x="543.68" y="1062.80" width="38.32" height="5.40" fill="#B4C03C"/>
<rect x="543.68" y="1067.85" width="38.32" height="10.44" fill="#2D0D35"/>
<rect x="543.68" y="1077.94" width="38.32" height="10.44" fill="#5F682A"/>
<rect x="543.68" y="1088.03" width="38.32" height="5.40" fill="#0B090B"/>
<rect x="543.68" y="1093.07" width="38.32" height="5.40" fill="#23260F"/>
<rect x="543.68" y="1098.12" width="38.32" height="5.40" fill="#5F682A"/>
<rect x="543.68" y="1103.16" width="38.32" height="5.40" fill="#434A1E"/>
<rect x="543.68" y="1108.21" width="38.32" height="5.40" fill="#0B090B"/>
<rect x="543.68" y="1113.25" width="38.32" height="5.40" fill="#434A1E"/>
<rect x="543.68" y="1118.30" width="38.32" height="5.39" fill="#A144AA"/>
<rect x="543.68" y="1123.34" width="38.32" height="5.39" fill="#434A1E"/>
<rect x="543.68" y="1128.38" width="38.32" height="5.39" fill="#B4C03C"/>
<rect x="543.68" y="1133.43" width="38.32" height="5.39" fill="#434A1E"/>
<rect x="543.68" y="1138.47" width="38.32" height="5.39" fill="#0B090B"/>
<rect x="543.68" y="1143.51" width="38.32" height="5.39" fill="#6F7932"/>
<rect x="543.68" y="1148.55" width="38.32" height="10.43" fill="#D9E93C"/>
<rect x="543.68" y="1158.64" width="38.32" height="5.39" fill="#0B090B"/>
<rect x="543.68" y="1163.68" width="38.32" height="5.39" fill="#6F2680"/>
<rect x="543.68" y="1168.72" width="38.32" height="5.39" fill="#A144AA"/>
<rect x="543.68" y="1173.76" width="38.32" height="10.43" fill="#2D0D35"/>
<rect x="543.68" y="1183.85" width="38.32" height="5.39" fill="#B4C03C"/>
<rect x="543.68" y="1188.89" width="38.32" height="5.39" fill="#0B090B"/>
<rect x="543.68" y="1193.93" width="38.32" height="5.39" fill="#B563B4"/>
<rect x="543.68" y="1198.97" width="38.32" height="5.39" fill="#6F2680"/>
<rect x="543.68" y="1204.01" width="38.32" height="5.39" fill="#929D3A"/>
<rect x="543.68" y="1209.05" width="38.32" height="10.43" fill="#0B090B"/>
<rect x="543.68" y="1219.14" width="38.32" height="5.39" fill="#929D3A"/>
<rect x="543.68" y="1224.18" width="38.32" height="5.39" fill="#6F2680"/>
<rect x="543.68" y="1229.22" width="38.32" height="5.39" fill="#8A2D9A"/>
<rect x="543.68" y="1234.26" width="38.32" height="5.39" fill="#A144AA"/>
<rect x="543.68" y="1239.31" width="38.32" height="5.39" fill="#434A1E"/>
<rect x="543.68" y="1244.35" width="38.32" height="5.39" fill="#929D3A"/>
<rect x="543.68" y="1249.39" width="38.32" height="5.39" fill="#B4C03C"/>
<rect x="543.68" y="1254.43" width="38.32" height="5.39" fill="#5F682A"/>
<rect x="543.68" y="1259.47" width="38.32" height="5.39" fill="#B4C03C"/>
<rect x="543.68" y="1264.52" width="38.32" height="5.39" fill="#434A1E"/>
<rect x="543.68" y="1269.56" width="38.32" height="5.39" fill="#A144AA"/>
<rect x="543.68" y="1274.60" width="38.32" height="10.51" fill="#B563B4"/>
<rect x="543.68" y="1284.76" width="38.32" height="5.43" fill="#8A2D9A"/>
<rect x="543.68" y="1289.84" width="38.32" height="5.43" fill="#2D0D35"/>
<rect x="543.68" y="1294.92" width="38.32" height="5.43" fill="#0B090B"/>
<rect x="543.68" y="1300.00" width="38.32" height="5.43" fill="#B563B4"/>
<rect x="543.68" y="1305.08" width="38.32" height="5.43" fill="#A144AA"/>
<rect x="543.68" y="1310.16" width="38.32" height="5.43" fill="#B4C03C"/>
<rect x="543.68" y="1315.25" width="38.32" height="5.43" fill="#0B090B"/>
<rect x="543.68" y="1320.33" width="38.32" height="5.43" fill="#2D0D35"/>
<rect x="543.68" y="1325.41" width="38.32" height="5.43" fill="#B4C03C"/>
<rect x="543.68" y="1330.49" width="38.32" height="10.51" fill="#8A2D9A"/>
<rect x="543.68" y="1340.65" width="38.32" height="10.51" fill="#A144AA"/>
<rect x="543.68" y="1350.81" width="38.32" height="5.43" fill="#6F2680"/>
<rect x="543.68" y="1355.89" width="38.32" height="5.43" fill="#2D0D35"/>
<rect x="543.68" y="1360.97" width="38.32" height="5.43" fill="#5F682A"/>
<rect x="543.68" y="1366.05" width="38.32" height="5.43" fill="#23260F"/>
<rect x="543.68" y="1371.13" width="38.32" height="10.51" fill="#2D0D35"/>
<rect x="543.68" y="1381.29" width="38.32" height="5.43" fill="#6F2680"/>
<rect x="543.68" y="1386.37" width="38.32" height="5.43" fill="#A144AA"/>
<rect x="543.68" y="1391.45" width="38.32" height="5.43" fill="#8A2D9A"/>
<rect x="543.68" y="1396.54" width="38.32" height="5.43" fill="#6F2680"/>
<rect x="543.68" y="1401.62" width="38.32" height="5.43" fill="#5F682A"/>
<rect x="543.68" y="1406.70" width="38.32" height="5.43" fill="#0B090B"/>
<rect x="543.68" y="1411.78" width="38.32" height="5.43" fill="#6F2680"/>
<rect x="543.68" y="1416.86" width="38.32" height="5.43" fill="#8A2D9A"/>
<rect x="543.68" y="1421.94" width="38.32" height="5.43" fill="#0B090B"/>
<rect x="543.68" y="1427.02" width="38.32" height="5.43" fill="#4B1758"/>
<rect x="543.68" y="1432.10" width="38.32" height="5.38" fill="#5F682A"/>
<rect x="543.68" y="1437.13" width="38.32" height="5.38" fill="#434A1E"/>
<rect x="543.68" y="1442.16" width="38.32" height="5.38" fill="#6F7932"/>
<rect x="543.68" y="1447.18" width="38.32" height="5.38" fill="#A144AA"/>
<rect x="543.68" y="1452.21" width="38.32" height="5.38" fill="#4B1758"/>
<rect x="543.68" y="1457.24" width="38.32" height="5.38" fill="#0B090B"/>
<rect x="543.68" y="1462.27" width="38.32" height="5.38" fill="#23260F"/>
<rect x="543.68" y="1467.30" width="38.32" height="5.38" fill="#5F682A"/>
<rect x="543.68" y="1472.33" width="38.32" height="5.38" fill="#8A2D9A"/>
<rect x="543.68" y="1477.35" width="38.32" height="5.38" fill="#A144AA"/>
<rect x="543.68" y="1482.38" width="38.32" height="5.38" fill="#8A2D9A"/>
<rect x="543.68" y="1487.41" width="38.32" height="5.38" fill="#6F2680"/>
<rect x="543.68" y="1492.44" width="38.32" height="5.38" fill="#B563B4"/>
<rect x="543.68" y="1497.47" width="38.32" height="5.38" fill="#A144AA"/>
<rect x="543.68" y="1502.49" width="38.32" height="5.38" fill="#0B090B"/>
<rect x="543.68" y="1507.52" width="38.32" height="5.38" fill="#23260F"/>
<rect x="543.68" y="1512.55" width="38.32" height="5.38" fill="#0B090B"/>
<rect x="543.68" y="1517.58" width="38.32" height="5.38" fill="#8A2D9A"/>
<rect x="543.68" y="1522.61" width="38.32" height="5.38" fill="#4B1758"/>
<rect x="543.68" y="1527.63" width="38.32" height="5.38" fill="#0B090B"/>
<rect x="543.68" y="1532.66" width="38.32" height="5.38" fill="#B4C03C"/>
<rect x="543.68" y="1537.69" width="38.32" height="5.38" fill="#8A2D9A"/>
<rect x="543.68" y="1542.72" width="38.32" height="5.38" fill="#2D0D35"/>
<rect x="543.68" y="1547.75" width="38.32" height="5.38" fill="#B563B4"/>
<rect x="543.68" y="1552.78" width="38.32" height="5.38" fill="#5F682A"/>
<rect x="543.68" y="1557.80" width="38.32" height="5.38" fill="#A144AA"/>
<rect x="543.68" y="1562.83" width="38.32" height="5.38" fill="#8A2D9A"/>
<rect x="543.68" y="1567.86" width="38.32" height="5.38" fill="#A144AA"/>
<rect x="543.68" y="1572.89" width="38.32" height="15.43" fill="#2D0D35"/>
<rect x="543.68" y="1587.97" width="38.32" height="9.38" fill="#23260F"/>
</g></g>
</g>
<defs><linearGradient id="lg" x1="0" y1="0" x2="0" y2="1">
<stop offset="0.0" stop-color="#DDEE3C"/>
<stop offset="0.06" stop-color="#DAEA3C"/>
<stop offset="0.253" stop-color="#7C8636"/>
<stop offset="0.4" stop-color="#3C421C"/>
<stop offset="0.48" stop-color="#0A0A05"/>
<stop offset="0.515" stop-color="#000000"/>
<stop offset="0.56" stop-color="#150A18"/>
<stop offset="0.64" stop-color="#33103A"/>
<stop offset="0.775" stop-color="#8A2A9A"/>
<stop offset="1.0" stop-color="#B461B2"/>
</linearGradient></defs>
<g id="legend">
<text x="629.3" y="730" font-size="36" fill="#000" text-anchor="start" textLength="188" lengthAdjust="spacingAndGlyphs">Expression</text>
<rect x="629.8" y="751.5" width="59.7" height="278.5" fill="url(#lg)"/>
<path d="M629.8 754h12M677.5 754h12" stroke="#fff" stroke-width="1.3" opacity="0.85"/>
<text x="709" y="764.5" font-size="28.5" fill="#000" text-anchor="start">2</text>
<path d="M629.8 824.7h12M677.5 824.7h12" stroke="#fff" stroke-width="1.3" opacity="0.85"/>
<text x="709" y="835.2" font-size="28.5" fill="#000" text-anchor="start">1</text>
<path d="M629.8 895.8h12M677.5 895.8h12" stroke="#fff" stroke-width="1.3" opacity="0.85"/>
<text x="709" y="906.3" font-size="28.5" fill="#000" text-anchor="start">0</text>
<path d="M629.8 967.1h12M677.5 967.1h12" stroke="#fff" stroke-width="1.3" opacity="0.85"/>
<text x="709" y="977.6" font-size="28.5" fill="#000" text-anchor="start">-1</text>
</g>
<g id="panel-c">
<rect x="958.3" y="144.8" width="381.4000000000001" height="46.89999999999998" fill="#D9D9D9" stroke="#333333" stroke-width="1.6"/>
<text x="1058.2" y="177" font-size="31" fill="#1A1A1A" text-anchor="start" textLength="193.4" lengthAdjust="spacingAndGlyphs">Shared genes</text>
<rect x="958.3" y="191.7" width="381.4000000000001" height="447.00000000000006" fill="#fff"/>
<path d="M958.3 257.45H1339.7" stroke="#EBEBEB" stroke-width="1.5"/>
<path d="M958.3 355.4H1339.7" stroke="#EBEBEB" stroke-width="1.5"/>
<path d="M958.3 453.20000000000005H1339.7" stroke="#EBEBEB" stroke-width="1.5"/>
<path d="M958.3 551.05H1339.7" stroke="#EBEBEB" stroke-width="1.5"/>
<path d="M958.3 208.4H1339.7" stroke="#EBEBEB" stroke-width="3"/>
<path d="M958.3 306.5H1339.7" stroke="#EBEBEB" stroke-width="3"/>
<path d="M958.3 404.3H1339.7" stroke="#EBEBEB" stroke-width="3"/>
<path d="M958.3 502.1H1339.7" stroke="#EBEBEB" stroke-width="3"/>
<path d="M958.3 600.0H1339.7" stroke="#EBEBEB" stroke-width="3"/>
<path d="M1062.2 191.7V638.7" stroke="#EBEBEB" stroke-width="3"/>
<path d="M1235.8 191.7V638.7" stroke="#EBEBEB" stroke-width="3"/>
<path d="M1235.8 212.4V233.3" stroke="#5FCDC3" stroke-width="3"/><rect x="1169" y="216.3" width="134" height="13.7" fill="#5FCDC3"/>
<rect x="995.6" y="615.3" width="133.1" height="7.2" rx="3" fill="#E96D6E"/>
<rect x="958.3" y="191.7" width="381.4000000000001" height="447.00000000000006" fill="none" stroke="#333333" stroke-width="1.6"/>
<path d="M957.5 191.7H1340.5" stroke="#333333" stroke-width="3.2"/>
<path d="M949.8 208.4H958.3" stroke="#333333" stroke-width="3"/>
<text x="882" y="218.70000000000002" font-size="31" fill="#4D4D4D" text-anchor="start" textLength="59.6" lengthAdjust="spacingAndGlyphs">0.20</text>
<path d="M949.8 306.5H958.3" stroke="#333333" stroke-width="3"/>
<text x="882" y="316.8" font-size="31" fill="#4D4D4D" text-anchor="start" textLength="59.6" lengthAdjust="spacingAndGlyphs">0.18</text>
<path d="M949.8 404.3H958.3" stroke="#333333" stroke-width="3"/>
<text x="882" y="414.6" font-size="31" fill="#4D4D4D" text-anchor="start" textLength="59.6" lengthAdjust="spacingAndGlyphs">0.16</text>
<path d="M949.8 502.1H958.3" stroke="#333333" stroke-width="3"/>
<text x="882" y="512.4" font-size="31" fill="#4D4D4D" text-anchor="start" textLength="59.6" lengthAdjust="spacingAndGlyphs">0.14</text>
<path d="M949.8 600.0H958.3" stroke="#333333" stroke-width="3"/>
<text x="882" y="610.3" font-size="31" fill="#4D4D4D" text-anchor="start" textLength="59.6" lengthAdjust="spacingAndGlyphs">0.12</text>
<path d="M1062.2 638.7V646.7" stroke="#333333" stroke-width="3"/>
<path d="M1235.8 638.7V646.7" stroke="#333333" stroke-width="3"/>
<text x="1011.4" y="671" font-size="29.5" fill="#444444" text-anchor="start" textLength="91.6" lengthAdjust="spacingAndGlyphs">control</text>
<text x="1169.6" y="671" font-size="29.5" fill="#151515" text-anchor="start" textLength="122.6" lengthAdjust="spacingAndGlyphs">IFNγ-stim</text>
<rect x="1445.9" y="144.8" width="381.39999999999986" height="46.89999999999998" fill="#D9D9D9" stroke="#333333" stroke-width="1.6"/>
<text x="1506.5" y="177.4" font-size="31" fill="#1A1A1A" text-anchor="start" textLength="290.9" lengthAdjust="spacingAndGlyphs">wmvReg–test unique</text>
<rect x="1445.9" y="191.7" width="381.39999999999986" height="447.00000000000006" fill="#fff"/>
<path d="M1445.9 302.3H1827.3" stroke="#EBEBEB" stroke-width="1.5"/>
<path d="M1445.9 393.65H1827.3" stroke="#EBEBEB" stroke-width="1.5"/>
<path d="M1445.9 484.95000000000005H1827.3" stroke="#EBEBEB" stroke-width="1.5"/>
<path d="M1445.9 576.25H1827.3" stroke="#EBEBEB" stroke-width="1.5"/>
<path d="M1445.9 210.95000000000002H1827.3" stroke="#EBEBEB" stroke-width="1.5"/>
<path d="M1445.9 256.6H1827.3" stroke="#EBEBEB" stroke-width="3"/>
<path d="M1445.9 348.0H1827.3" stroke="#EBEBEB" stroke-width="3"/>
<path d="M1445.9 439.3H1827.3" stroke="#EBEBEB" stroke-width="3"/>
<path d="M1445.9 530.6H1827.3" stroke="#EBEBEB" stroke-width="3"/>
<path d="M1445.9 621.9H1827.3" stroke="#EBEBEB" stroke-width="3"/>
<path d="M1549.4 191.7V638.7" stroke="#EBEBEB" stroke-width="3"/>
<path d="M1723.4 191.7V638.7" stroke="#EBEBEB" stroke-width="3"/>
<path d="M1723.4 211.7V232M1723.4 314.6V371.2" stroke="#5FCDC3" stroke-width="3.3"/><rect x="1658.3500000000001" y="233.65" width="130.09999999999985" height="79.30000000000003" fill="#fff" stroke="#5FCDC3" stroke-width="3.3"/><path d="M1656.7 254.3H1790.1" stroke="#5FCDC3" stroke-width="7"/>
<path d="M1549.4 587V590M1549.4 609.7V619" stroke="#E96D6E" stroke-width="3.3"/><rect x="1484.3500000000001" y="591.65" width="130.09999999999985" height="16.400000000000045" fill="#fff" stroke="#E96D6E" stroke-width="3.3"/><path d="M1482.7 596.3H1616.1" stroke="#E96D6E" stroke-width="7"/>
<rect x="1445.9" y="191.7" width="381.39999999999986" height="447.00000000000006" fill="none" stroke="#333333" stroke-width="1.6"/>
<path d="M1445.1000000000001 191.7H1828.1" stroke="#333333" stroke-width="3.2"/>
<path d="M1437.4 256.6H1445.9" stroke="#333333" stroke-width="3"/>
<text x="1341.5" y="266.90000000000003" font-size="31" fill="#4D4D4D" text-anchor="start" textLength="93.9" lengthAdjust="spacingAndGlyphs">0.0625</text>
<path d="M1437.4 348.0H1445.9" stroke="#333333" stroke-width="3"/>
<text x="1341.5" y="358.3" font-size="31" fill="#4D4D4D" text-anchor="start" textLength="93.9" lengthAdjust="spacingAndGlyphs">0.0600</text>
<path d="M1437.4 439.3H1445.9" stroke="#333333" stroke-width="3"/>
<text x="1341.5" y="449.6" font-size="31" fill="#4D4D4D" text-anchor="start" textLength="93.9" lengthAdjust="spacingAndGlyphs">0.0575</text>
<path d="M1437.4 530.6H1445.9" stroke="#333333" stroke-width="3"/>
<text x="1341.5" y="540.9" font-size="31" fill="#4D4D4D" text-anchor="start" textLength="93.9" lengthAdjust="spacingAndGlyphs">0.0550</text>
<path d="M1437.4 621.9H1445.9" stroke="#333333" stroke-width="3"/>
<text x="1341.5" y="632.1999999999999" font-size="31" fill="#4D4D4D" text-anchor="start" textLength="93.9" lengthAdjust="spacingAndGlyphs">0.0525</text>
<path d="M1549.4 638.7V646.7" stroke="#333333" stroke-width="3"/>
<path d="M1723.4 638.7V646.7" stroke="#333333" stroke-width="3"/>
<text x="1498.7" y="671.2" font-size="29.5" fill="#444444" text-anchor="start" textLength="91.3" lengthAdjust="spacingAndGlyphs">control</text>
<text x="1658.8" y="671.2" font-size="29.5" fill="#151515" text-anchor="start" textLength="121.2" lengthAdjust="spacingAndGlyphs">IFNγ-stim</text>
<text transform="translate(867,414.5) rotate(-90)" font-size="31" fill="#000" text-anchor="middle" textLength="186" lengthAdjust="spacingAndGlyphs">Module score</text>
</g>
<g id="panel-d">
<rect x="958.3" y="962.6" width="395.5" height="47.39999999999998" fill="#D9D9D9" stroke="#333333" stroke-width="1.6"/>
<text x="1064.8" y="995" font-size="31" fill="#1A1A1A" text-anchor="start" textLength="193.3" lengthAdjust="spacingAndGlyphs">Shared genes</text>
<rect x="958.3" y="1010" width="395.5" height="446.29999999999995" fill="#fff"/>
<path d="M958.3 1089.8H1353.8" stroke="#EBEBEB" stroke-width="1.5"/>
<path d="M958.3 1197.5H1353.8" stroke="#EBEBEB" stroke-width="1.5"/>
<path d="M958.3 1305.35H1353.8" stroke="#EBEBEB" stroke-width="1.5"/>
<path d="M958.3 1413.2H1353.8" stroke="#EBEBEB" stroke-width="1.5"/>
<path d="M958.3 1036H1353.8" stroke="#EBEBEB" stroke-width="3"/>
<path d="M958.3 1143.6H1353.8" stroke="#EBEBEB" stroke-width="3"/>
<path d="M958.3 1251.4H1353.8" stroke="#EBEBEB" stroke-width="3"/>
<path d="M958.3 1359.3H1353.8" stroke="#EBEBEB" stroke-width="3"/>
<path d="M1066.1 1010V1456.3" stroke="#EBEBEB" stroke-width="3"/>
<path d="M1245.6 1010V1456.3" stroke="#EBEBEB" stroke-width="3"/>
<path d="M1245.6 1030.4V1032.7M1245.6 1067.4V1092.7" stroke="#5FCDC3" stroke-width="3.3"/><rect x="1178.45" y="1034.3500000000001" width="134.99999999999994" height="31.400000000000045" fill="#fff" stroke="#5FCDC3" stroke-width="3.3"/><path d="M1176.8 1038.3H1315.1" stroke="#5FCDC3" stroke-width="7"/>
<path d="M1066.1 1391.7V1394.3M1066.1 1420.2V1436.6" stroke="#E96D6E" stroke-width="3.3"/><rect x="998.25" y="1395.95" width="135.3" height="22.60000000000009" fill="#fff" stroke="#E96D6E" stroke-width="3.3"/><path d="M996.6 1399.5H1135.2" stroke="#E96D6E" stroke-width="7"/>
<rect x="958.3" y="1010" width="395.5" height="446.29999999999995" fill="none" stroke="#333333" stroke-width="1.6"/>
<path d="M957.5 1010H1354.6" stroke="#333333" stroke-width="3.2"/>
<path d="M949.8 1036H958.3" stroke="#333333" stroke-width="3"/>
<text x="882" y="1046.3" font-size="31" fill="#4D4D4D" text-anchor="start" textLength="59.6" lengthAdjust="spacingAndGlyphs">0.17</text>
<path d="M949.8 1143.6H958.3" stroke="#333333" stroke-width="3"/>
<text x="882" y="1153.8999999999999" font-size="31" fill="#4D4D4D" text-anchor="start" textLength="59.6" lengthAdjust="spacingAndGlyphs">0.16</text>
<path d="M949.8 1251.4H958.3" stroke="#333333" stroke-width="3"/>
<text x="882" y="1261.7" font-size="31" fill="#4D4D4D" text-anchor="start" textLength="59.6" lengthAdjust="spacingAndGlyphs">0.15</text>
<path d="M949.8 1359.3H958.3" stroke="#333333" stroke-width="3"/>
<text x="882" y="1369.6" font-size="31" fill="#4D4D4D" text-anchor="start" textLength="59.6" lengthAdjust="spacingAndGlyphs">0.14</text>
<path d="M1066.1 1456.3V1464.3" stroke="#333333" stroke-width="3"/>
<path d="M1245.6 1456.3V1464.3" stroke="#333333" stroke-width="3"/>
<text x="1015.3" y="1489" font-size="29.5" fill="#444444" text-anchor="start" textLength="92.1" lengthAdjust="spacingAndGlyphs">control</text>
<text x="1171.3" y="1489" font-size="29.5" fill="#151515" text-anchor="start" textLength="132.3" lengthAdjust="spacingAndGlyphs">TGFβ-stim</text>
<rect x="1432" y="962.6" width="395.29999999999995" height="47.39999999999998" fill="#D9D9D9" stroke="#333333" stroke-width="1.6"/>
<text x="1499.5" y="995.4" font-size="31" fill="#1A1A1A" text-anchor="start" textLength="290.6" lengthAdjust="spacingAndGlyphs">wmvReg–test unique</text>
<rect x="1432" y="1010" width="395.29999999999995" height="446.29999999999995" fill="#fff"/>
<path d="M1432 1059.6H1827.3" stroke="#EBEBEB" stroke-width="1.5"/>
<path d="M1432 1186.6H1827.3" stroke="#EBEBEB" stroke-width="1.5"/>
<path d="M1432 1313.8H1827.3" stroke="#EBEBEB" stroke-width="1.5"/>
<path d="M1432 1441.2H1827.3" stroke="#EBEBEB" stroke-width="1.5"/>
<path d="M1432 1123H1827.3" stroke="#EBEBEB" stroke-width="3"/>
<path d="M1432 1250.2H1827.3" stroke="#EBEBEB" stroke-width="3"/>
<path d="M1432 1377.5H1827.3" stroke="#EBEBEB" stroke-width="3"/>
<path d="M1539.6 1010V1456.3" stroke="#EBEBEB" stroke-width="3"/>
<path d="M1719.4 1010V1456.3" stroke="#EBEBEB" stroke-width="3"/>
<path d="M1719.4 1027.9V1027.9M1719.4 1094.6V1154" stroke="#5FCDC3" stroke-width="3.3"/><rect x="1651.95" y="1029.5500000000002" width="135.10000000000008" height="63.39999999999982" fill="#fff" stroke="#5FCDC3" stroke-width="3.3"/><path d="M1650.3 1031.5H1788.7" stroke="#5FCDC3" stroke-width="7"/>
<path d="M1539.6 1375.2V1380M1539.6 1414.3V1436.6" stroke="#E96D6E" stroke-width="3.3"/><rect x="1471.8500000000001" y="1381.65" width="134.7999999999999" height="30.999999999999954" fill="#fff" stroke="#E96D6E" stroke-width="3.3"/><path d="M1470.2 1388.5H1608.3" stroke="#E96D6E" stroke-width="7"/>
<rect x="1432" y="1010" width="395.29999999999995" height="446.29999999999995" fill="none" stroke="#333333" stroke-width="1.6"/>
<path d="M1431.2 1010H1828.1" stroke="#333333" stroke-width="3.2"/>
<path d="M1423.5 1123H1432" stroke="#333333" stroke-width="3"/>
<text x="1355" y="1133.3" font-size="31" fill="#4D4D4D" text-anchor="start" textLength="59.6" lengthAdjust="spacingAndGlyphs">0.12</text>
<path d="M1423.5 1250.2H1432" stroke="#333333" stroke-width="3"/>
<text x="1355" y="1260.5" font-size="31" fill="#4D4D4D" text-anchor="start" textLength="59.6" lengthAdjust="spacingAndGlyphs">0.11</text>
<path d="M1423.5 1377.5H1432" stroke="#333333" stroke-width="3"/>
<text x="1355" y="1387.8" font-size="31" fill="#4D4D4D" text-anchor="start" textLength="59.6" lengthAdjust="spacingAndGlyphs">0.10</text>
<path d="M1539.6 1456.3V1464.3" stroke="#333333" stroke-width="3"/>
<path d="M1719.4 1456.3V1464.3" stroke="#333333" stroke-width="3"/>
<text x="1488.5" y="1489.1" font-size="29.5" fill="#444444" text-anchor="start" textLength="92.2" lengthAdjust="spacingAndGlyphs">control</text>
<text x="1645.1" y="1489.1" font-size="29.5" fill="#151515" text-anchor="start" textLength="132" lengthAdjust="spacingAndGlyphs">TGFβ-stim</text>
<text transform="translate(867,1231.5) rotate(-90)" font-size="31" fill="#000" text-anchor="middle" textLength="186" lengthAdjust="spacingAndGlyphs">Module score</text>
</g>
</svg>
</body></html>
